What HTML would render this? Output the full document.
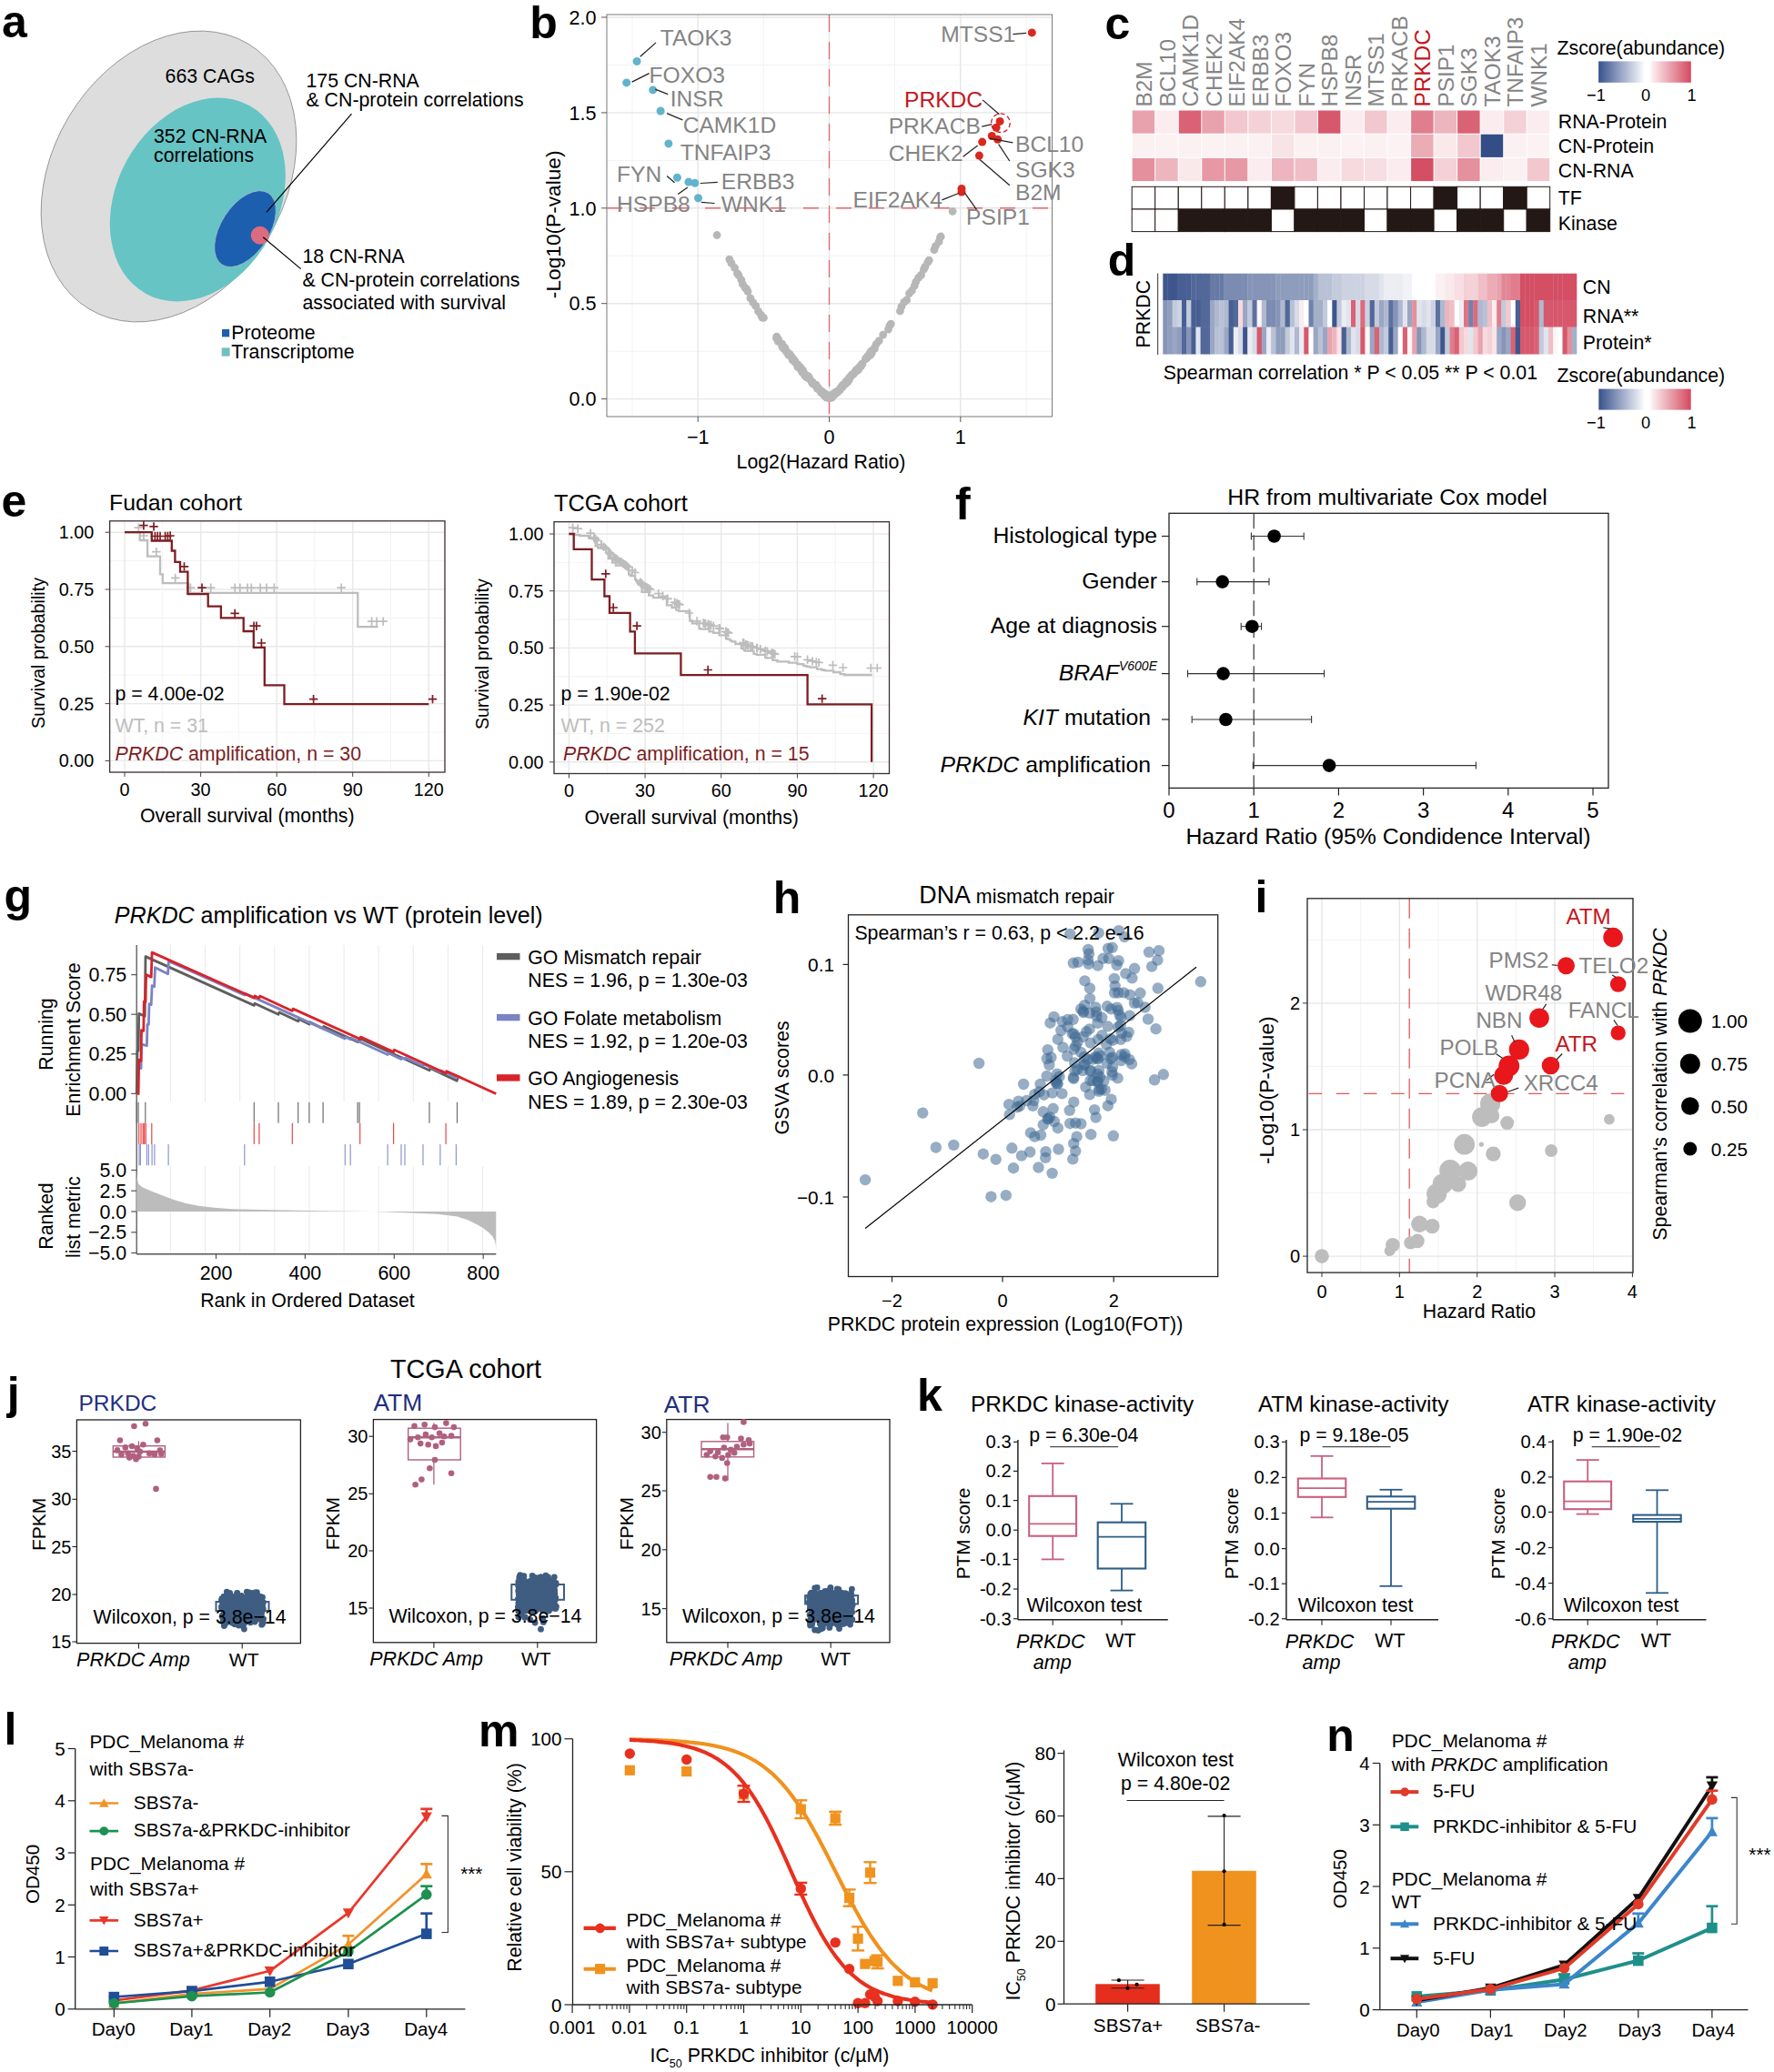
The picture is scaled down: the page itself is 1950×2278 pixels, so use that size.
<!DOCTYPE html>
<html lang="en"><head><meta charset="utf-8"><title>Figure</title>
<style>html,body{margin:0;padding:0;background:#fff}svg{display:block}text{font-family:"Liberation Sans",sans-serif}</style>
</head><body>
<svg width="1950" height="2278" viewBox="0 0 1950 2278">
<rect width="1950" height="2278" fill="#fff"/>
<text x="2" y="40.5" font-size="50" font-weight="bold">a</text>
<ellipse cx="185.5" cy="194" rx="128" ry="170" transform="rotate(31 185.5 194)" fill="#dddddd" stroke="#8a8a8a" stroke-width="0.8"/>
<ellipse cx="217.3" cy="219.5" rx="89" ry="118" transform="rotate(28.8 217.3 219.5)" fill="#66c4c4"/>
<ellipse cx="269.5" cy="251.6" rx="26.5" ry="46.9" transform="rotate(32.9 269.5 251.6)" fill="#1c5fae" stroke="#9fb6cf" stroke-width="0.8"/>
<circle cx="285.8" cy="258.7" r="10" fill="#dc6b7f"/>
<line x1="386.5" y1="125.1" x2="292.9" y2="233.3" stroke="#000" stroke-width="1.2"/>
<line x1="289.2" y1="260.7" x2="330.7" y2="295.6" stroke="#000" stroke-width="1.2"/>
<text x="181.6" y="90.6" font-size="21.3">663 CAGs</text>
<text x="169" y="157.3" font-size="21.3">352 CN-RNA</text>
<text x="169" y="177.5" font-size="21.3">correlations</text>
<text x="336.5" y="96.4" font-size="21.3">175 CN-RNA</text>
<text x="336.5" y="116.7" font-size="21.3">&amp; CN-protein correlations</text>
<text x="332.4" y="289" font-size="21.3">18 CN-RNA</text>
<text x="332.4" y="314.5" font-size="21.3">&amp; CN-protein correlations</text>
<text x="332.4" y="339.9" font-size="21.3">associated with survival</text>
<rect x="244" y="362" width="8.2" height="8.4" fill="#1c5fae"/>
<text x="254.3" y="373" font-size="21.3">Proteome</text>
<rect x="244" y="382.8" width="8.2" height="8.4" fill="#66c4c4" stroke="#9aa" stroke-width="0.6"/>
<text x="254.3" y="394" font-size="21.3">Transcriptome</text>
<text x="582.3" y="42" font-size="50" font-weight="bold">b</text>
<rect x="667" y="16" width="489.5" height="442" fill="#fff"/>
<line x1="695" y1="16" x2="695" y2="458" stroke="#f2f2f2" stroke-width="1"/>
<line x1="839.4" y1="16" x2="839.4" y2="458" stroke="#f2f2f2" stroke-width="1"/>
<line x1="983.6" y1="16" x2="983.6" y2="458" stroke="#f2f2f2" stroke-width="1"/>
<line x1="1128" y1="16" x2="1128" y2="458" stroke="#f2f2f2" stroke-width="1"/>
<line x1="667" y1="386.2" x2="1156.5" y2="386.2" stroke="#f2f2f2" stroke-width="1"/>
<line x1="667" y1="281.2" x2="1156.5" y2="281.2" stroke="#f2f2f2" stroke-width="1"/>
<line x1="667" y1="176.4" x2="1156.5" y2="176.4" stroke="#f2f2f2" stroke-width="1"/>
<line x1="667" y1="71.4" x2="1156.5" y2="71.4" stroke="#f2f2f2" stroke-width="1"/>
<line x1="767.2" y1="16" x2="767.2" y2="458" stroke="#e6e6e6" stroke-width="1.4"/>
<line x1="911.5" y1="16" x2="911.5" y2="458" stroke="#e6e6e6" stroke-width="1.4"/>
<line x1="1055.8" y1="16" x2="1055.8" y2="458" stroke="#e6e6e6" stroke-width="1.4"/>
<line x1="667" y1="438.6" x2="1156.5" y2="438.6" stroke="#e6e6e6" stroke-width="1.4"/>
<line x1="667" y1="333.7" x2="1156.5" y2="333.7" stroke="#e6e6e6" stroke-width="1.4"/>
<line x1="667" y1="228.8" x2="1156.5" y2="228.8" stroke="#e6e6e6" stroke-width="1.4"/>
<line x1="667" y1="123.9" x2="1156.5" y2="123.9" stroke="#e6e6e6" stroke-width="1.4"/>
<line x1="667" y1="19" x2="1156.5" y2="19" stroke="#e6e6e6" stroke-width="1.4"/>
<line x1="911.5" y1="16" x2="911.5" y2="458" stroke="#e4676b" stroke-width="1.3" stroke-dasharray="19 11"/>
<line x1="667" y1="228.8" x2="1152.5" y2="228.8" stroke="#e4676b" stroke-width="1.4" stroke-dasharray="17 19"/>
<rect x="667" y="16" width="489.5" height="442" fill="none" stroke="#7a7a7a" stroke-width="1"/>
<line x1="661" y1="438.6" x2="667" y2="438.6" stroke="#555" stroke-width="1"/>
<text x="655.5" y="446.3" font-size="21.6" text-anchor="end">0.0</text>
<line x1="661" y1="333.7" x2="667" y2="333.7" stroke="#555" stroke-width="1"/>
<text x="655.5" y="341.4" font-size="21.6" text-anchor="end">0.5</text>
<line x1="661" y1="228.8" x2="667" y2="228.8" stroke="#555" stroke-width="1"/>
<text x="655.5" y="236.5" font-size="21.6" text-anchor="end">1.0</text>
<line x1="661" y1="123.9" x2="667" y2="123.9" stroke="#555" stroke-width="1"/>
<text x="655.5" y="131.6" font-size="21.6" text-anchor="end">1.5</text>
<line x1="661" y1="19" x2="667" y2="19" stroke="#555" stroke-width="1"/>
<text x="655.5" y="26.7" font-size="21.6" text-anchor="end">2.0</text>
<line x1="767.2" y1="458" x2="767.2" y2="464" stroke="#555" stroke-width="1"/>
<text x="767.2" y="488" font-size="21.6" text-anchor="middle">−1</text>
<line x1="911.5" y1="458" x2="911.5" y2="464" stroke="#555" stroke-width="1"/>
<text x="911.5" y="488" font-size="21.6" text-anchor="middle">0</text>
<line x1="1055.8" y1="458" x2="1055.8" y2="464" stroke="#555" stroke-width="1"/>
<text x="1055.8" y="488" font-size="21.6" text-anchor="middle">1</text>
<text x="902.5" y="515" font-size="21.3" text-anchor="middle">Log2(Hazard Ratio)</text>
<text font-size="22.7" text-anchor="middle" transform="translate(616,246.8) rotate(-90)">-Log10(P-value)</text>
<g fill="#b7b7b7">
<circle cx="892.3" cy="420.1" r="4.4"/>
<circle cx="902.6" cy="431.5" r="4.4"/>
<circle cx="873" cy="396" r="4.4"/>
<circle cx="907.2" cy="433" r="4.4"/>
<circle cx="879.8" cy="405.6" r="4.4"/>
<circle cx="889.9" cy="417" r="4.4"/>
<circle cx="908.1" cy="436.8" r="4.4"/>
<circle cx="881.5" cy="408.8" r="4.4"/>
<circle cx="909.3" cy="437.1" r="4.4"/>
<circle cx="885.8" cy="413.3" r="4.4"/>
<circle cx="907.4" cy="433.7" r="4.4"/>
<circle cx="906.1" cy="434.8" r="4.4"/>
<circle cx="886.4" cy="414.7" r="4.4"/>
<circle cx="862.6" cy="382.1" r="4.4"/>
<circle cx="904.2" cy="431.7" r="4.4"/>
<circle cx="898.3" cy="427.1" r="4.4"/>
<circle cx="874.4" cy="398.7" r="4.4"/>
<circle cx="855.4" cy="375.4" r="4.4"/>
<circle cx="877.4" cy="402.4" r="4.4"/>
<circle cx="888" cy="413.3" r="4.4"/>
<circle cx="853.7" cy="370.2" r="4.4"/>
<circle cx="908.7" cy="435.4" r="4.4"/>
<circle cx="860.7" cy="381.9" r="4.4"/>
<circle cx="894.4" cy="422.3" r="4.4"/>
<circle cx="903" cy="431.7" r="4.4"/>
<circle cx="904.5" cy="431.2" r="4.4"/>
<circle cx="893.2" cy="420.5" r="4.4"/>
<circle cx="863.2" cy="383.6" r="4.4"/>
<circle cx="900.8" cy="429" r="4.4"/>
<circle cx="877.1" cy="403.1" r="4.4"/>
<circle cx="873.7" cy="397" r="4.4"/>
<circle cx="889.5" cy="414.9" r="4.4"/>
<circle cx="879.1" cy="403.4" r="4.4"/>
<circle cx="907.8" cy="434.2" r="4.4"/>
<circle cx="908" cy="434.3" r="4.4"/>
<circle cx="899.3" cy="426.1" r="4.4"/>
<circle cx="871.2" cy="395.9" r="4.4"/>
<circle cx="886.2" cy="412.8" r="4.4"/>
<circle cx="892.9" cy="420.8" r="4.4"/>
<circle cx="876.9" cy="403.5" r="4.4"/>
<circle cx="884.7" cy="412.8" r="4.4"/>
<circle cx="893.8" cy="421.9" r="4.4"/>
<circle cx="864.5" cy="387" r="4.4"/>
<circle cx="870.1" cy="392.9" r="4.4"/>
<circle cx="897.1" cy="423.1" r="4.4"/>
<circle cx="877.5" cy="402.9" r="4.4"/>
<circle cx="880.4" cy="404.7" r="4.4"/>
<circle cx="859.7" cy="378.1" r="4.4"/>
<circle cx="868.3" cy="389.7" r="4.4"/>
<circle cx="894.5" cy="422.4" r="4.4"/>
<circle cx="853.5" cy="372" r="4.4"/>
<circle cx="904.5" cy="433" r="4.4"/>
<circle cx="886.8" cy="414.5" r="4.4"/>
<circle cx="866.7" cy="390.1" r="4.4"/>
<circle cx="902.5" cy="429.7" r="4.4"/>
<circle cx="882.6" cy="407.4" r="4.4"/>
<circle cx="909.2" cy="435.3" r="4.4"/>
<circle cx="872" cy="395.9" r="4.4"/>
<circle cx="866.3" cy="388" r="4.4"/>
<circle cx="877.6" cy="401.8" r="4.4"/>
<circle cx="859.7" cy="381.1" r="4.4"/>
<circle cx="892.9" cy="419.8" r="4.4"/>
<circle cx="870.4" cy="392.5" r="4.4"/>
<circle cx="876.3" cy="400.3" r="4.4"/>
<circle cx="877.2" cy="401.5" r="4.4"/>
<circle cx="884.5" cy="411" r="4.4"/>
<circle cx="861.8" cy="383.7" r="4.4"/>
<circle cx="855.6" cy="373.1" r="4.4"/>
<circle cx="883.5" cy="410.3" r="4.4"/>
<circle cx="872.2" cy="395.2" r="4.4"/>
<circle cx="914.7" cy="434.1" r="4.4"/>
<circle cx="947.9" cy="400.1" r="4.4"/>
<circle cx="945.1" cy="403.5" r="4.4"/>
<circle cx="963.1" cy="378.5" r="4.4"/>
<circle cx="954.2" cy="391.1" r="4.4"/>
<circle cx="926.3" cy="425.4" r="4.4"/>
<circle cx="931.5" cy="420" r="4.4"/>
<circle cx="946.2" cy="403" r="4.4"/>
<circle cx="912.7" cy="436.2" r="4.4"/>
<circle cx="935.5" cy="413.3" r="4.4"/>
<circle cx="920.2" cy="431.6" r="4.4"/>
<circle cx="917.6" cy="431.9" r="4.4"/>
<circle cx="914.6" cy="434.2" r="4.4"/>
<circle cx="951.4" cy="394.9" r="4.4"/>
<circle cx="918.2" cy="432.8" r="4.4"/>
<circle cx="924.4" cy="426.1" r="4.4"/>
<circle cx="931.8" cy="419.7" r="4.4"/>
<circle cx="956.8" cy="390.1" r="4.4"/>
<circle cx="915.7" cy="433.2" r="4.4"/>
<circle cx="934.8" cy="414.6" r="4.4"/>
<circle cx="940" cy="409.1" r="4.4"/>
<circle cx="957.4" cy="386.2" r="4.4"/>
<circle cx="954.1" cy="392.2" r="4.4"/>
<circle cx="956.4" cy="387.8" r="4.4"/>
<circle cx="926" cy="423.5" r="4.4"/>
<circle cx="933.1" cy="418" r="4.4"/>
<circle cx="930.1" cy="421.1" r="4.4"/>
<circle cx="957.4" cy="388.3" r="4.4"/>
<circle cx="961.3" cy="383.4" r="4.4"/>
<circle cx="919.3" cy="431" r="4.4"/>
<circle cx="920.7" cy="430.8" r="4.4"/>
<circle cx="923.5" cy="427.4" r="4.4"/>
<circle cx="923.6" cy="428.2" r="4.4"/>
<circle cx="936.7" cy="411.6" r="4.4"/>
<circle cx="942.1" cy="407.3" r="4.4"/>
<circle cx="925.1" cy="425.6" r="4.4"/>
<circle cx="911.7" cy="437.6" r="4.4"/>
<circle cx="933.3" cy="415.5" r="4.4"/>
<circle cx="930.7" cy="419.9" r="4.4"/>
<circle cx="940.9" cy="406.8" r="4.4"/>
<circle cx="961" cy="382.8" r="4.4"/>
<circle cx="947.4" cy="400.3" r="4.4"/>
<circle cx="938.3" cy="411.1" r="4.4"/>
<circle cx="943.6" cy="406.6" r="4.4"/>
<circle cx="946.6" cy="401.5" r="4.4"/>
<circle cx="914.3" cy="437.1" r="4.4"/>
<circle cx="958.2" cy="388.2" r="4.4"/>
<circle cx="952" cy="393.6" r="4.4"/>
<circle cx="956.9" cy="389.4" r="4.4"/>
<circle cx="952.9" cy="393.5" r="4.4"/>
<circle cx="931.9" cy="417.6" r="4.4"/>
<circle cx="932.2" cy="417.8" r="4.4"/>
<circle cx="916.9" cy="434.2" r="4.4"/>
<circle cx="944.5" cy="403.9" r="4.4"/>
<circle cx="914.7" cy="435.5" r="4.4"/>
<circle cx="915" cy="434.4" r="4.4"/>
<circle cx="922.3" cy="429.6" r="4.4"/>
<circle cx="919.9" cy="430.5" r="4.4"/>
<circle cx="929.2" cy="422.1" r="4.4"/>
<circle cx="914.2" cy="436.9" r="4.4"/>
<circle cx="911.5" cy="437.6" r="4.4"/>
<circle cx="919.4" cy="431.2" r="4.4"/>
<circle cx="916.8" cy="433.5" r="4.4"/>
<circle cx="930.4" cy="419.1" r="4.4"/>
<circle cx="912.8" cy="436" r="4.4"/>
<circle cx="956.9" cy="388.5" r="4.4"/>
<circle cx="943.4" cy="404.9" r="4.4"/>
<circle cx="919.2" cy="431.4" r="4.4"/>
<circle cx="924.6" cy="426" r="4.4"/>
<circle cx="929.5" cy="420.2" r="4.4"/>
<circle cx="788.1" cy="258.5" r="4.4"/>
<circle cx="801.8" cy="285.1" r="4.4"/>
<circle cx="804" cy="289.4" r="4.4"/>
<circle cx="807.6" cy="294.5" r="4.4"/>
<circle cx="810.5" cy="300.6" r="4.4"/>
<circle cx="811.9" cy="302.6" r="4.4"/>
<circle cx="814.8" cy="307.6" r="4.4"/>
<circle cx="816.3" cy="312.4" r="4.4"/>
<circle cx="819.1" cy="316.5" r="4.4"/>
<circle cx="820.6" cy="317.7" r="4.4"/>
<circle cx="822" cy="320.5" r="4.4"/>
<circle cx="824.9" cy="327.8" r="4.4"/>
<circle cx="827.8" cy="332.7" r="4.4"/>
<circle cx="830.7" cy="336.3" r="4.4"/>
<circle cx="833.6" cy="342.3" r="4.4"/>
<circle cx="836.5" cy="346.3" r="4.4"/>
<circle cx="837.9" cy="349.1" r="4.4"/>
<circle cx="839.4" cy="349.4" r="4.4"/>
<circle cx="966.3" cy="374.6" r="4.4"/>
<circle cx="970.7" cy="368.1" r="4.4"/>
<circle cx="976.4" cy="362.1" r="4.4"/>
<circle cx="977.9" cy="358.1" r="4.4"/>
<circle cx="979.3" cy="356.1" r="4.4"/>
<circle cx="989.4" cy="342" r="4.4"/>
<circle cx="990.9" cy="337.2" r="4.4"/>
<circle cx="993.8" cy="332.2" r="4.4"/>
<circle cx="996.6" cy="329.9" r="4.4"/>
<circle cx="999.5" cy="322.6" r="4.4"/>
<circle cx="1002.4" cy="319.5" r="4.4"/>
<circle cx="1005.3" cy="314.2" r="4.4"/>
<circle cx="1006.7" cy="310" r="4.4"/>
<circle cx="1009.6" cy="305.4" r="4.4"/>
<circle cx="1012.5" cy="302.4" r="4.4"/>
<circle cx="1015.4" cy="296.2" r="4.4"/>
<circle cx="1016.8" cy="293.3" r="4.4"/>
<circle cx="1019.7" cy="288.5" r="4.4"/>
<circle cx="1021.2" cy="286.2" r="4.4"/>
<circle cx="1026.9" cy="274.7" r="4.4"/>
<circle cx="1028.4" cy="270.6" r="4.4"/>
<circle cx="1032" cy="265.8" r="4.4"/>
<circle cx="1033.4" cy="261.1" r="4.4"/>
<circle cx="1034.2" cy="260" r="4.4"/>
<circle cx="1047.1" cy="232.3" r="4.4"/>
</g>
<g fill="#62b3cb">
<circle cx="700.1" cy="67.4" r="4.5"/>
<circle cx="688.7" cy="90.9" r="4.5"/>
<circle cx="717.7" cy="98.9" r="4.5"/>
<circle cx="726.1" cy="122" r="4.5"/>
<circle cx="734.9" cy="157.9" r="4.5"/>
<circle cx="744.4" cy="195.3" r="4.5"/>
<circle cx="756.9" cy="200.1" r="4.5"/>
<circle cx="763.8" cy="201.2" r="4.5"/>
<circle cx="767.5" cy="217.7" r="4.5"/>
</g>
<g fill="#d9281f">
<circle cx="1134.3" cy="35.9" r="4.5"/>
<circle cx="1099.1" cy="133.4" r="4.5"/>
<circle cx="1095.1" cy="140.3" r="4.5"/>
<circle cx="1090.3" cy="149.5" r="4.5"/>
<circle cx="1096.6" cy="153.2" r="4.5"/>
<circle cx="1079.7" cy="156.1" r="4.5"/>
<circle cx="1076.4" cy="171.1" r="4.5"/>
<circle cx="1057" cy="207.4" r="4.5"/>
<circle cx="1057" cy="211.1" r="4.5"/>
</g>
<circle cx="1099.9" cy="135.2" r="10.3" fill="none" stroke="#c8202a" stroke-width="1.3" stroke-dasharray="5 3"/>
<line x1="703.7" y1="62.3" x2="721" y2="46.9" stroke="#222" stroke-width="1.25"/>
<line x1="694.6" y1="90.1" x2="713.6" y2="80.6" stroke="#222" stroke-width="1.25"/>
<line x1="720.2" y1="98.2" x2="734.2" y2="103.7" stroke="#222" stroke-width="1.25"/>
<line x1="733.1" y1="124.6" x2="750.3" y2="131.9" stroke="#222" stroke-width="1.25"/>
<line x1="733.1" y1="193.5" x2="741.5" y2="200.8" stroke="#222" stroke-width="1.25"/>
<line x1="769.7" y1="201.5" x2="788.8" y2="200.4" stroke="#222" stroke-width="1.25"/>
<line x1="745.2" y1="213.6" x2="755.8" y2="205.9" stroke="#222" stroke-width="1.25"/>
<line x1="770.8" y1="222.4" x2="785.5" y2="223.5" stroke="#222" stroke-width="1.25"/>
<line x1="1113.4" y1="37.7" x2="1128.1" y2="36.3" stroke="#222" stroke-width="1.25"/>
<line x1="1080.1" y1="109.9" x2="1098.4" y2="125.7" stroke="#222" stroke-width="1.25"/>
<line x1="1079.3" y1="139.2" x2="1090.3" y2="136.7" stroke="#222" stroke-width="1.25"/>
<line x1="1087.8" y1="152.1" x2="1113.4" y2="156.8" stroke="#222" stroke-width="1.25"/>
<line x1="1058.5" y1="172.2" x2="1074.6" y2="160.1" stroke="#222" stroke-width="1.25"/>
<line x1="1097.7" y1="158.7" x2="1109.8" y2="177" stroke="#222" stroke-width="1.25"/>
<line x1="1076.8" y1="175.2" x2="1109.8" y2="203.7" stroke="#222" stroke-width="1.25"/>
<line x1="1035.4" y1="219.9" x2="1053.7" y2="212.5" stroke="#222" stroke-width="1.25"/>
<line x1="1060.3" y1="211.8" x2="1073.8" y2="230.9" stroke="#222" stroke-width="1.25"/>
<text x="725.7" y="49.5" font-size="24.6" fill="#848484">TAOK3</text>
<text x="713.6" y="90.5" font-size="24.6" fill="#848484">FOXO3</text>
<text x="736.7" y="117.3" font-size="24.6" fill="#848484">INSR</text>
<text x="750.7" y="145.8" font-size="24.6" fill="#848484">CAMK1D</text>
<text x="747.7" y="175.9" font-size="24.6" fill="#848484">TNFAIP3</text>
<text x="678.1" y="199.7" font-size="24.6" fill="#848484">FYN</text>
<text x="792.8" y="207.8" font-size="24.6" fill="#848484">ERBB3</text>
<text x="678.1" y="232.7" font-size="24.6" fill="#848484">HSPB8</text>
<text x="792.8" y="233.4" font-size="24.6" fill="#848484">WNK1</text>
<text x="1034.3" y="45.8" font-size="24.6" fill="#848484">MTSS1</text>
<text x="976.7" y="146.6" font-size="24.6" fill="#848484">PRKACB</text>
<text x="1116" y="166.7" font-size="24.6" fill="#848484">BCL10</text>
<text x="976.7" y="176.6" font-size="24.6" fill="#848484">CHEK2</text>
<text x="1116" y="194.9" font-size="24.6" fill="#848484">SGK3</text>
<text x="1116" y="219.9" font-size="24.6" fill="#848484">B2M</text>
<text x="937.5" y="227.9" font-size="24.6" fill="#848484">EIF2AK4</text>
<text x="1062.1" y="247.3" font-size="24.6" fill="#848484">PSIP1</text>
<text x="994" y="118.4" font-size="24.6" fill="#c4161c">PRKDC</text>
<text x="1214.4" y="42.7" font-size="50" font-weight="bold">c</text>
<rect x="1244.7" y="121.5" width="24.5" height="25.2" fill="#e8a2ae"/>
<rect x="1270.2" y="121.5" width="24.5" height="25.2" fill="#faecef"/>
<rect x="1295.8" y="121.5" width="24.5" height="25.2" fill="#d96274"/>
<rect x="1321.3" y="121.5" width="24.5" height="25.2" fill="#e8a2ae"/>
<rect x="1346.8" y="121.5" width="24.5" height="25.2" fill="#f2c8ce"/>
<rect x="1372.4" y="121.5" width="24.5" height="25.2" fill="#f4d1d6"/>
<rect x="1397.9" y="121.5" width="24.5" height="25.2" fill="#f6dade"/>
<rect x="1423.4" y="121.5" width="24.5" height="25.2" fill="#f2c8ce"/>
<rect x="1448.9" y="121.5" width="24.5" height="25.2" fill="#d6586c"/>
<rect x="1474.5" y="121.5" width="24.5" height="25.2" fill="#faecef"/>
<rect x="1500" y="121.5" width="24.5" height="25.2" fill="#f2c8ce"/>
<rect x="1525.5" y="121.5" width="24.5" height="25.2" fill="#faecef"/>
<rect x="1551.1" y="121.5" width="24.5" height="25.2" fill="#e07e8d"/>
<rect x="1576.6" y="121.5" width="24.5" height="25.2" fill="#edb5be"/>
<rect x="1602.1" y="121.5" width="24.5" height="25.2" fill="#d96274"/>
<rect x="1627.7" y="121.5" width="24.5" height="25.2" fill="#faecef"/>
<rect x="1653.2" y="121.5" width="24.5" height="25.2" fill="#f4d1d6"/>
<rect x="1678.7" y="121.5" width="24.5" height="25.2" fill="#faecef"/>
<rect x="1244.7" y="147.7" width="24.5" height="25.2" fill="#fbf0f2"/>
<rect x="1270.2" y="147.7" width="24.5" height="25.2" fill="#fcf2f4"/>
<rect x="1295.8" y="147.7" width="24.5" height="25.2" fill="#fbf0f2"/>
<rect x="1321.3" y="147.7" width="24.5" height="25.2" fill="#fcf2f4"/>
<rect x="1346.8" y="147.7" width="24.5" height="25.2" fill="#fbf0f2"/>
<rect x="1372.4" y="147.7" width="24.5" height="25.2" fill="#fbf0f2"/>
<rect x="1397.9" y="147.7" width="24.5" height="25.2" fill="#f8e3e7"/>
<rect x="1423.4" y="147.7" width="24.5" height="25.2" fill="#fbf0f2"/>
<rect x="1448.9" y="147.7" width="24.5" height="25.2" fill="#fbf0f2"/>
<rect x="1474.5" y="147.7" width="24.5" height="25.2" fill="#fcf2f4"/>
<rect x="1500" y="147.7" width="24.5" height="25.2" fill="#fbf0f2"/>
<rect x="1525.5" y="147.7" width="24.5" height="25.2" fill="#fcf2f4"/>
<rect x="1551.1" y="147.7" width="24.5" height="25.2" fill="#ebacb6"/>
<rect x="1576.6" y="147.7" width="24.5" height="25.2" fill="#fae9eb"/>
<rect x="1602.1" y="147.7" width="24.5" height="25.2" fill="#f2c8ce"/>
<rect x="1627.7" y="147.7" width="24.5" height="25.2" fill="#344d87"/>
<rect x="1653.2" y="147.7" width="24.5" height="25.2" fill="#fbf0f2"/>
<rect x="1678.7" y="147.7" width="24.5" height="25.2" fill="#fcf2f4"/>
<rect x="1244.7" y="173.9" width="24.5" height="25.2" fill="#e4909d"/>
<rect x="1270.2" y="173.9" width="24.5" height="25.2" fill="#edb5be"/>
<rect x="1295.8" y="173.9" width="24.5" height="25.2" fill="#fae9eb"/>
<rect x="1321.3" y="173.9" width="24.5" height="25.2" fill="#e699a5"/>
<rect x="1346.8" y="173.9" width="24.5" height="25.2" fill="#e699a5"/>
<rect x="1372.4" y="173.9" width="24.5" height="25.2" fill="#faecef"/>
<rect x="1397.9" y="173.9" width="24.5" height="25.2" fill="#edb5be"/>
<rect x="1423.4" y="173.9" width="24.5" height="25.2" fill="#efbec6"/>
<rect x="1448.9" y="173.9" width="24.5" height="25.2" fill="#faecef"/>
<rect x="1474.5" y="173.9" width="24.5" height="25.2" fill="#f6dade"/>
<rect x="1500" y="173.9" width="24.5" height="25.2" fill="#f7dee2"/>
<rect x="1525.5" y="173.9" width="24.5" height="25.2" fill="#faecef"/>
<rect x="1551.1" y="173.9" width="24.5" height="25.2" fill="#d44f64"/>
<rect x="1576.6" y="173.9" width="24.5" height="25.2" fill="#f4d1d6"/>
<rect x="1602.1" y="173.9" width="24.5" height="25.2" fill="#e4909d"/>
<rect x="1627.7" y="173.9" width="24.5" height="25.2" fill="#faecef"/>
<rect x="1653.2" y="173.9" width="24.5" height="25.2" fill="#fbf0f2"/>
<rect x="1678.7" y="173.9" width="24.5" height="25.2" fill="#f2c8ce"/>
<rect x="1244.2" y="205.3" width="25.5" height="24.7" fill="#fff" stroke="#231815" stroke-width="1"/>
<rect x="1244.2" y="230" width="25.5" height="24.6" fill="#fff" stroke="#231815" stroke-width="1"/>
<rect x="1269.7" y="205.3" width="25.5" height="24.7" fill="#fff" stroke="#231815" stroke-width="1"/>
<rect x="1269.7" y="230" width="25.5" height="24.6" fill="#fff" stroke="#231815" stroke-width="1"/>
<rect x="1295.3" y="205.3" width="25.5" height="24.7" fill="#fff" stroke="#231815" stroke-width="1"/>
<rect x="1295.3" y="230" width="25.5" height="24.6" fill="#231815" stroke="#231815" stroke-width="1"/>
<rect x="1320.8" y="205.3" width="25.5" height="24.7" fill="#fff" stroke="#231815" stroke-width="1"/>
<rect x="1320.8" y="230" width="25.5" height="24.6" fill="#231815" stroke="#231815" stroke-width="1"/>
<rect x="1346.3" y="205.3" width="25.5" height="24.7" fill="#fff" stroke="#231815" stroke-width="1"/>
<rect x="1346.3" y="230" width="25.5" height="24.6" fill="#231815" stroke="#231815" stroke-width="1"/>
<rect x="1371.9" y="205.3" width="25.5" height="24.7" fill="#fff" stroke="#231815" stroke-width="1"/>
<rect x="1371.9" y="230" width="25.5" height="24.6" fill="#231815" stroke="#231815" stroke-width="1"/>
<rect x="1397.4" y="205.3" width="25.5" height="24.7" fill="#231815" stroke="#231815" stroke-width="1"/>
<rect x="1397.4" y="230" width="25.5" height="24.6" fill="#fff" stroke="#231815" stroke-width="1"/>
<rect x="1422.9" y="205.3" width="25.5" height="24.7" fill="#fff" stroke="#231815" stroke-width="1"/>
<rect x="1422.9" y="230" width="25.5" height="24.6" fill="#231815" stroke="#231815" stroke-width="1"/>
<rect x="1448.4" y="205.3" width="25.5" height="24.7" fill="#fff" stroke="#231815" stroke-width="1"/>
<rect x="1448.4" y="230" width="25.5" height="24.6" fill="#231815" stroke="#231815" stroke-width="1"/>
<rect x="1474" y="205.3" width="25.5" height="24.7" fill="#fff" stroke="#231815" stroke-width="1"/>
<rect x="1474" y="230" width="25.5" height="24.6" fill="#231815" stroke="#231815" stroke-width="1"/>
<rect x="1499.5" y="205.3" width="25.5" height="24.7" fill="#fff" stroke="#231815" stroke-width="1"/>
<rect x="1499.5" y="230" width="25.5" height="24.6" fill="#fff" stroke="#231815" stroke-width="1"/>
<rect x="1525" y="205.3" width="25.5" height="24.7" fill="#fff" stroke="#231815" stroke-width="1"/>
<rect x="1525" y="230" width="25.5" height="24.6" fill="#231815" stroke="#231815" stroke-width="1"/>
<rect x="1550.6" y="205.3" width="25.5" height="24.7" fill="#fff" stroke="#231815" stroke-width="1"/>
<rect x="1550.6" y="230" width="25.5" height="24.6" fill="#231815" stroke="#231815" stroke-width="1"/>
<rect x="1576.1" y="205.3" width="25.5" height="24.7" fill="#231815" stroke="#231815" stroke-width="1"/>
<rect x="1576.1" y="230" width="25.5" height="24.6" fill="#fff" stroke="#231815" stroke-width="1"/>
<rect x="1601.6" y="205.3" width="25.5" height="24.7" fill="#fff" stroke="#231815" stroke-width="1"/>
<rect x="1601.6" y="230" width="25.5" height="24.6" fill="#231815" stroke="#231815" stroke-width="1"/>
<rect x="1627.2" y="205.3" width="25.5" height="24.7" fill="#fff" stroke="#231815" stroke-width="1"/>
<rect x="1627.2" y="230" width="25.5" height="24.6" fill="#231815" stroke="#231815" stroke-width="1"/>
<rect x="1652.7" y="205.3" width="25.5" height="24.7" fill="#231815" stroke="#231815" stroke-width="1"/>
<rect x="1652.7" y="230" width="25.5" height="24.6" fill="#fff" stroke="#231815" stroke-width="1"/>
<rect x="1678.2" y="205.3" width="25.5" height="24.7" fill="#fff" stroke="#231815" stroke-width="1"/>
<rect x="1678.2" y="230" width="25.5" height="24.6" fill="#231815" stroke="#231815" stroke-width="1"/>
<text font-size="24.4" fill="#858585" transform="translate(1266,117.6) rotate(-90)">B2M</text>
<text font-size="24.4" fill="#858585" transform="translate(1291.5,117.6) rotate(-90)">BCL10</text>
<text font-size="24.4" fill="#858585" transform="translate(1317,117.6) rotate(-90)">CAMK1D</text>
<text font-size="24.4" fill="#858585" transform="translate(1342.6,117.6) rotate(-90)">CHEK2</text>
<text font-size="24.4" fill="#858585" transform="translate(1368.1,117.6) rotate(-90)">EIF2AK4</text>
<text font-size="24.4" fill="#858585" transform="translate(1393.6,117.6) rotate(-90)">ERBB3</text>
<text font-size="24.4" fill="#858585" transform="translate(1419.1,117.6) rotate(-90)">FOXO3</text>
<text font-size="24.4" fill="#858585" transform="translate(1444.7,117.6) rotate(-90)">FYN</text>
<text font-size="24.4" fill="#858585" transform="translate(1470.2,117.6) rotate(-90)">HSPB8</text>
<text font-size="24.4" fill="#858585" transform="translate(1495.7,117.6) rotate(-90)">INSR</text>
<text font-size="24.4" fill="#858585" transform="translate(1521.3,117.6) rotate(-90)">MTSS1</text>
<text font-size="24.4" fill="#858585" transform="translate(1546.8,117.6) rotate(-90)">PRKACB</text>
<text font-size="24.4" fill="#c4161c" transform="translate(1572.3,117.6) rotate(-90)">PRKDC</text>
<text font-size="24.4" fill="#858585" transform="translate(1597.9,117.6) rotate(-90)">PSIP1</text>
<text font-size="24.4" fill="#858585" transform="translate(1623.4,117.6) rotate(-90)">SGK3</text>
<text font-size="24.4" fill="#858585" transform="translate(1648.9,117.6) rotate(-90)">TAOK3</text>
<text font-size="24.4" fill="#858585" transform="translate(1674.4,117.6) rotate(-90)">TNFAIP3</text>
<text font-size="24.4" fill="#858585" transform="translate(1700,117.6) rotate(-90)">WNK1</text>
<text x="1712.8" y="141.3" font-size="21.3">RNA-Protein</text>
<text x="1712.8" y="167.6" font-size="21.3">CN-Protein</text>
<text x="1712.8" y="195.1" font-size="21.3">CN-RNA</text>
<text x="1712.8" y="225.1" font-size="21.3">TF</text>
<text x="1712.8" y="252.7" font-size="21.3">Kinase</text>
<text x="1711.5" y="60.4" font-size="21.3">Zscore(abundance)</text>
<defs><linearGradient id="cbc" x1="0" x2="1" y1="0" y2="0"><stop offset="0" stop-color="#38528d"/><stop offset="0.46" stop-color="#eef0f6"/><stop offset="0.5" stop-color="#ffffff"/><stop offset="0.55" stop-color="#ffffff"/><stop offset="0.59" stop-color="#fbe9ec"/><stop offset="1" stop-color="#d4495f"/></linearGradient></defs>
<rect x="1757.1" y="67.4" width="101.7" height="23.4" fill="url(#cbc)"/>
<text x="1754.4" y="111.2" font-size="18.2" text-anchor="middle">−1</text>
<text x="1809" y="111.2" font-size="18.2" text-anchor="middle">0</text>
<text x="1859.6" y="111.2" font-size="18.2" text-anchor="middle">1</text>
<text x="1217.8" y="302.9" font-size="50" font-weight="bold">d</text>
<rect x="1278.3" y="300.7" width="5.5" height="29.6" fill="#3e568d"/>
<rect x="1283.5" y="300.7" width="5.5" height="29.6" fill="#3e568d"/>
<rect x="1288.6" y="300.7" width="5.5" height="29.6" fill="#3e568d"/>
<rect x="1293.8" y="300.7" width="5.5" height="29.6" fill="#485f93"/>
<rect x="1299" y="300.7" width="5.5" height="29.6" fill="#485f93"/>
<rect x="1304.1" y="300.7" width="5.5" height="29.6" fill="#485f93"/>
<rect x="1309.3" y="300.7" width="5.5" height="29.6" fill="#526899"/>
<rect x="1314.5" y="300.7" width="5.5" height="29.6" fill="#526899"/>
<rect x="1319.6" y="300.7" width="5.5" height="29.6" fill="#526899"/>
<rect x="1324.8" y="300.7" width="5.5" height="29.6" fill="#526899"/>
<rect x="1330" y="300.7" width="5.5" height="29.6" fill="#677aa5"/>
<rect x="1335.1" y="300.7" width="5.5" height="29.6" fill="#677aa5"/>
<rect x="1340.3" y="300.7" width="5.5" height="29.6" fill="#677aa5"/>
<rect x="1345.5" y="300.7" width="5.5" height="29.6" fill="#7b8bb1"/>
<rect x="1350.6" y="300.7" width="5.5" height="29.6" fill="#7b8bb1"/>
<rect x="1355.8" y="300.7" width="5.5" height="29.6" fill="#7b8bb1"/>
<rect x="1361" y="300.7" width="5.5" height="29.6" fill="#7b8bb1"/>
<rect x="1366.1" y="300.7" width="5.5" height="29.6" fill="#7b8bb1"/>
<rect x="1371.3" y="300.7" width="5.5" height="29.6" fill="#8594b7"/>
<rect x="1376.5" y="300.7" width="5.5" height="29.6" fill="#8594b7"/>
<rect x="1381.6" y="300.7" width="5.5" height="29.6" fill="#8594b7"/>
<rect x="1386.8" y="300.7" width="5.5" height="29.6" fill="#8594b7"/>
<rect x="1392" y="300.7" width="5.5" height="29.6" fill="#8594b7"/>
<rect x="1397.1" y="300.7" width="5.5" height="29.6" fill="#8594b7"/>
<rect x="1402.3" y="300.7" width="5.5" height="29.6" fill="#8f9dbd"/>
<rect x="1407.5" y="300.7" width="5.5" height="29.6" fill="#8f9dbd"/>
<rect x="1412.6" y="300.7" width="5.5" height="29.6" fill="#8f9dbd"/>
<rect x="1417.8" y="300.7" width="5.5" height="29.6" fill="#8f9dbd"/>
<rect x="1423" y="300.7" width="5.5" height="29.6" fill="#8f9dbd"/>
<rect x="1428.1" y="300.7" width="5.5" height="29.6" fill="#8f9dbd"/>
<rect x="1433.3" y="300.7" width="5.5" height="29.6" fill="#8f9dbd"/>
<rect x="1438.5" y="300.7" width="5.5" height="29.6" fill="#8f9dbd"/>
<rect x="1443.6" y="300.7" width="5.5" height="29.6" fill="#a4afc9"/>
<rect x="1448.8" y="300.7" width="5.5" height="29.6" fill="#b8c1d5"/>
<rect x="1454" y="300.7" width="5.5" height="29.6" fill="#b8c1d5"/>
<rect x="1459.1" y="300.7" width="5.5" height="29.6" fill="#b8c1d5"/>
<rect x="1464.3" y="300.7" width="5.5" height="29.6" fill="#c2cadb"/>
<rect x="1469.5" y="300.7" width="5.5" height="29.6" fill="#c2cadb"/>
<rect x="1474.6" y="300.7" width="5.5" height="29.6" fill="#ccd2e1"/>
<rect x="1479.8" y="300.7" width="5.5" height="29.6" fill="#ccd2e1"/>
<rect x="1485" y="300.7" width="5.5" height="29.6" fill="#ccd2e1"/>
<rect x="1490.1" y="300.7" width="5.5" height="29.6" fill="#ccd2e1"/>
<rect x="1495.3" y="300.7" width="5.5" height="29.6" fill="#ccd2e1"/>
<rect x="1500.5" y="300.7" width="5.5" height="29.6" fill="#d6dbe7"/>
<rect x="1505.7" y="300.7" width="5.5" height="29.6" fill="#d6dbe7"/>
<rect x="1510.8" y="300.7" width="5.5" height="29.6" fill="#d6dbe7"/>
<rect x="1516" y="300.7" width="5.5" height="29.6" fill="#e1e4ed"/>
<rect x="1521.2" y="300.7" width="5.5" height="29.6" fill="#ebedf3"/>
<rect x="1526.3" y="300.7" width="5.5" height="29.6" fill="#ebedf3"/>
<rect x="1531.5" y="300.7" width="5.5" height="29.6" fill="#ebedf3"/>
<rect x="1536.7" y="300.7" width="5.5" height="29.6" fill="#ebedf3"/>
<rect x="1541.8" y="300.7" width="5.5" height="29.6" fill="#f1f3f7"/>
<rect x="1547" y="300.7" width="5.5" height="29.6" fill="#f1f3f7"/>
<rect x="1552.2" y="300.7" width="5.5" height="29.6" fill="#ffffff"/>
<rect x="1557.3" y="300.7" width="5.5" height="29.6" fill="#ffffff"/>
<rect x="1562.5" y="300.7" width="5.5" height="29.6" fill="#ffffff"/>
<rect x="1567.7" y="300.7" width="5.5" height="29.6" fill="#ffffff"/>
<rect x="1572.8" y="300.7" width="5.5" height="29.6" fill="#ffffff"/>
<rect x="1578" y="300.7" width="5.5" height="29.6" fill="#fbf0f2"/>
<rect x="1583.2" y="300.7" width="5.5" height="29.6" fill="#fbf0f2"/>
<rect x="1588.3" y="300.7" width="5.5" height="29.6" fill="#fae9eb"/>
<rect x="1593.5" y="300.7" width="5.5" height="29.6" fill="#fae9eb"/>
<rect x="1598.7" y="300.7" width="5.5" height="29.6" fill="#f7dee2"/>
<rect x="1603.8" y="300.7" width="5.5" height="29.6" fill="#f7dee2"/>
<rect x="1609" y="300.7" width="5.5" height="29.6" fill="#f4d1d6"/>
<rect x="1614.2" y="300.7" width="5.5" height="29.6" fill="#f4d1d6"/>
<rect x="1619.3" y="300.7" width="5.5" height="29.6" fill="#f4d1d6"/>
<rect x="1624.5" y="300.7" width="5.5" height="29.6" fill="#efbec6"/>
<rect x="1629.7" y="300.7" width="5.5" height="29.6" fill="#efbec6"/>
<rect x="1634.8" y="300.7" width="5.5" height="29.6" fill="#ebacb6"/>
<rect x="1640" y="300.7" width="5.5" height="29.6" fill="#ebacb6"/>
<rect x="1645.2" y="300.7" width="5.5" height="29.6" fill="#e8a2ae"/>
<rect x="1650.3" y="300.7" width="5.5" height="29.6" fill="#e28795"/>
<rect x="1655.5" y="300.7" width="5.5" height="29.6" fill="#e28795"/>
<rect x="1660.7" y="300.7" width="5.5" height="29.6" fill="#e07e8d"/>
<rect x="1665.8" y="300.7" width="5.5" height="29.6" fill="#e07e8d"/>
<rect x="1671" y="300.7" width="5.5" height="29.6" fill="#d44f64"/>
<rect x="1676.2" y="300.7" width="5.5" height="29.6" fill="#d44f64"/>
<rect x="1681.3" y="300.7" width="5.5" height="29.6" fill="#d44f64"/>
<rect x="1686.5" y="300.7" width="5.5" height="29.6" fill="#d44f64"/>
<rect x="1691.7" y="300.7" width="5.5" height="29.6" fill="#d44f64"/>
<rect x="1696.8" y="300.7" width="5.5" height="29.6" fill="#d44f64"/>
<rect x="1702" y="300.7" width="5.5" height="29.6" fill="#d44f64"/>
<rect x="1707.2" y="300.7" width="5.5" height="29.6" fill="#d44f64"/>
<rect x="1712.3" y="300.7" width="5.5" height="29.6" fill="#d44f64"/>
<rect x="1717.5" y="300.7" width="5.5" height="29.6" fill="#d44f64"/>
<rect x="1722.7" y="300.7" width="5.5" height="29.6" fill="#d44f64"/>
<rect x="1727.8" y="300.7" width="5.5" height="29.6" fill="#d44f64"/>
<rect x="1278.3" y="330" width="5.5" height="29.9" fill="#8594b7"/>
<rect x="1283.5" y="330" width="5.5" height="29.9" fill="#8f9dbd"/>
<rect x="1288.6" y="330" width="5.5" height="29.9" fill="#c2cadb"/>
<rect x="1293.8" y="330" width="5.5" height="29.9" fill="#ccd2e1"/>
<rect x="1299" y="330" width="5.5" height="29.9" fill="#485f93"/>
<rect x="1304.1" y="330" width="5.5" height="29.9" fill="#c2cadb"/>
<rect x="1309.3" y="330" width="5.5" height="29.9" fill="#485f93"/>
<rect x="1314.5" y="330" width="5.5" height="29.9" fill="#485f93"/>
<rect x="1319.6" y="330" width="5.5" height="29.9" fill="#526899"/>
<rect x="1324.8" y="330" width="5.5" height="29.9" fill="#526899"/>
<rect x="1330" y="330" width="5.5" height="29.9" fill="#9aa6c3"/>
<rect x="1335.1" y="330" width="5.5" height="29.9" fill="#aeb8cf"/>
<rect x="1340.3" y="330" width="5.5" height="29.9" fill="#b8c1d5"/>
<rect x="1345.5" y="330" width="5.5" height="29.9" fill="#aeb8cf"/>
<rect x="1350.6" y="330" width="5.5" height="29.9" fill="#485f93"/>
<rect x="1355.8" y="330" width="5.5" height="29.9" fill="#526899"/>
<rect x="1361" y="330" width="5.5" height="29.9" fill="#f6dade"/>
<rect x="1366.1" y="330" width="5.5" height="29.9" fill="#9aa6c3"/>
<rect x="1371.3" y="330" width="5.5" height="29.9" fill="#c2cadb"/>
<rect x="1376.5" y="330" width="5.5" height="29.9" fill="#5d719f"/>
<rect x="1381.6" y="330" width="5.5" height="29.9" fill="#fdf6f7"/>
<rect x="1386.8" y="330" width="5.5" height="29.9" fill="#aeb8cf"/>
<rect x="1392" y="330" width="5.5" height="29.9" fill="#7b8bb1"/>
<rect x="1397.1" y="330" width="5.5" height="29.9" fill="#7b8bb1"/>
<rect x="1402.3" y="330" width="5.5" height="29.9" fill="#8594b7"/>
<rect x="1407.5" y="330" width="5.5" height="29.9" fill="#aeb8cf"/>
<rect x="1412.6" y="330" width="5.5" height="29.9" fill="#526899"/>
<rect x="1417.8" y="330" width="5.5" height="29.9" fill="#b8c1d5"/>
<rect x="1423" y="330" width="5.5" height="29.9" fill="#d6dbe7"/>
<rect x="1428.1" y="330" width="5.5" height="29.9" fill="#faecef"/>
<rect x="1433.3" y="330" width="5.5" height="29.9" fill="#ffffff"/>
<rect x="1438.5" y="330" width="5.5" height="29.9" fill="#7182ab"/>
<rect x="1443.6" y="330" width="5.5" height="29.9" fill="#a4afc9"/>
<rect x="1448.8" y="330" width="5.5" height="29.9" fill="#a4afc9"/>
<rect x="1454" y="330" width="5.5" height="29.9" fill="#c2cadb"/>
<rect x="1459.1" y="330" width="5.5" height="29.9" fill="#ffffff"/>
<rect x="1464.3" y="330" width="5.5" height="29.9" fill="#3e568d"/>
<rect x="1469.5" y="330" width="5.5" height="29.9" fill="#c2cadb"/>
<rect x="1474.6" y="330" width="5.5" height="29.9" fill="#ebedf3"/>
<rect x="1479.8" y="330" width="5.5" height="29.9" fill="#e1e4ed"/>
<rect x="1485" y="330" width="5.5" height="29.9" fill="#d96274"/>
<rect x="1490.1" y="330" width="5.5" height="29.9" fill="#d6dbe7"/>
<rect x="1495.3" y="330" width="5.5" height="29.9" fill="#db6b7d"/>
<rect x="1500.5" y="330" width="5.5" height="29.9" fill="#ccd2e1"/>
<rect x="1505.7" y="330" width="5.5" height="29.9" fill="#526899"/>
<rect x="1510.8" y="330" width="5.5" height="29.9" fill="#c2cadb"/>
<rect x="1516" y="330" width="5.5" height="29.9" fill="#9aa6c3"/>
<rect x="1521.2" y="330" width="5.5" height="29.9" fill="#aeb8cf"/>
<rect x="1526.3" y="330" width="5.5" height="29.9" fill="#5d719f"/>
<rect x="1531.5" y="330" width="5.5" height="29.9" fill="#8594b7"/>
<rect x="1536.7" y="330" width="5.5" height="29.9" fill="#aeb8cf"/>
<rect x="1541.8" y="330" width="5.5" height="29.9" fill="#e1e4ed"/>
<rect x="1547" y="330" width="5.5" height="29.9" fill="#9aa6c3"/>
<rect x="1552.2" y="330" width="5.5" height="29.9" fill="#e4909d"/>
<rect x="1557.3" y="330" width="5.5" height="29.9" fill="#e1e4ed"/>
<rect x="1562.5" y="330" width="5.5" height="29.9" fill="#d6dbe7"/>
<rect x="1567.7" y="330" width="5.5" height="29.9" fill="#e1e4ed"/>
<rect x="1572.8" y="330" width="5.5" height="29.9" fill="#ccd2e1"/>
<rect x="1578" y="330" width="5.5" height="29.9" fill="#5d719f"/>
<rect x="1583.2" y="330" width="5.5" height="29.9" fill="#aeb8cf"/>
<rect x="1588.3" y="330" width="5.5" height="29.9" fill="#edb5be"/>
<rect x="1593.5" y="330" width="5.5" height="29.9" fill="#efbec6"/>
<rect x="1598.7" y="330" width="5.5" height="29.9" fill="#ffffff"/>
<rect x="1603.8" y="330" width="5.5" height="29.9" fill="#ebedf3"/>
<rect x="1609" y="330" width="5.5" height="29.9" fill="#dd7485"/>
<rect x="1614.2" y="330" width="5.5" height="29.9" fill="#7182ab"/>
<rect x="1619.3" y="330" width="5.5" height="29.9" fill="#db6b7d"/>
<rect x="1624.5" y="330" width="5.5" height="29.9" fill="#aeb8cf"/>
<rect x="1629.7" y="330" width="5.5" height="29.9" fill="#b8c1d5"/>
<rect x="1634.8" y="330" width="5.5" height="29.9" fill="#efbec6"/>
<rect x="1640" y="330" width="5.5" height="29.9" fill="#faecef"/>
<rect x="1645.2" y="330" width="5.5" height="29.9" fill="#e07e8d"/>
<rect x="1650.3" y="330" width="5.5" height="29.9" fill="#c2cadb"/>
<rect x="1655.5" y="330" width="5.5" height="29.9" fill="#f2c8ce"/>
<rect x="1660.7" y="330" width="5.5" height="29.9" fill="#ffffff"/>
<rect x="1665.8" y="330" width="5.5" height="29.9" fill="#485f93"/>
<rect x="1671" y="330" width="5.5" height="29.9" fill="#d44f64"/>
<rect x="1676.2" y="330" width="5.5" height="29.9" fill="#d44f64"/>
<rect x="1681.3" y="330" width="5.5" height="29.9" fill="#d44f64"/>
<rect x="1686.5" y="330" width="5.5" height="29.9" fill="#d6586c"/>
<rect x="1691.7" y="330" width="5.5" height="29.9" fill="#aeb8cf"/>
<rect x="1696.8" y="330" width="5.5" height="29.9" fill="#d6586c"/>
<rect x="1702" y="330" width="5.5" height="29.9" fill="#d6586c"/>
<rect x="1707.2" y="330" width="5.5" height="29.9" fill="#d6586c"/>
<rect x="1712.3" y="330" width="5.5" height="29.9" fill="#d6586c"/>
<rect x="1717.5" y="330" width="5.5" height="29.9" fill="#d6586c"/>
<rect x="1722.7" y="330" width="5.5" height="29.9" fill="#d6586c"/>
<rect x="1727.8" y="330" width="5.5" height="29.9" fill="#d6586c"/>
<rect x="1278.3" y="359.6" width="5.5" height="29.9" fill="#8594b7"/>
<rect x="1283.5" y="359.6" width="5.5" height="29.9" fill="#8f9dbd"/>
<rect x="1288.6" y="359.6" width="5.5" height="29.9" fill="#9aa6c3"/>
<rect x="1293.8" y="359.6" width="5.5" height="29.9" fill="#8f9dbd"/>
<rect x="1299" y="359.6" width="5.5" height="29.9" fill="#526899"/>
<rect x="1304.1" y="359.6" width="5.5" height="29.9" fill="#8594b7"/>
<rect x="1309.3" y="359.6" width="5.5" height="29.9" fill="#485f93"/>
<rect x="1314.5" y="359.6" width="5.5" height="29.9" fill="#e1e4ed"/>
<rect x="1319.6" y="359.6" width="5.5" height="29.9" fill="#526899"/>
<rect x="1324.8" y="359.6" width="5.5" height="29.9" fill="#526899"/>
<rect x="1330" y="359.6" width="5.5" height="29.9" fill="#9aa6c3"/>
<rect x="1335.1" y="359.6" width="5.5" height="29.9" fill="#b8c1d5"/>
<rect x="1340.3" y="359.6" width="5.5" height="29.9" fill="#b8c1d5"/>
<rect x="1345.5" y="359.6" width="5.5" height="29.9" fill="#9aa6c3"/>
<rect x="1350.6" y="359.6" width="5.5" height="29.9" fill="#485f93"/>
<rect x="1355.8" y="359.6" width="5.5" height="29.9" fill="#ebedf3"/>
<rect x="1361" y="359.6" width="5.5" height="29.9" fill="#d6dbe7"/>
<rect x="1366.1" y="359.6" width="5.5" height="29.9" fill="#3e568d"/>
<rect x="1371.3" y="359.6" width="5.5" height="29.9" fill="#ebedf3"/>
<rect x="1376.5" y="359.6" width="5.5" height="29.9" fill="#d6dbe7"/>
<rect x="1381.6" y="359.6" width="5.5" height="29.9" fill="#d6586c"/>
<rect x="1386.8" y="359.6" width="5.5" height="29.9" fill="#9aa6c3"/>
<rect x="1392" y="359.6" width="5.5" height="29.9" fill="#ebedf3"/>
<rect x="1397.1" y="359.6" width="5.5" height="29.9" fill="#b8c1d5"/>
<rect x="1402.3" y="359.6" width="5.5" height="29.9" fill="#8f9dbd"/>
<rect x="1407.5" y="359.6" width="5.5" height="29.9" fill="#8f9dbd"/>
<rect x="1412.6" y="359.6" width="5.5" height="29.9" fill="#c2cadb"/>
<rect x="1417.8" y="359.6" width="5.5" height="29.9" fill="#e1e4ed"/>
<rect x="1423" y="359.6" width="5.5" height="29.9" fill="#aeb8cf"/>
<rect x="1428.1" y="359.6" width="5.5" height="29.9" fill="#ebedf3"/>
<rect x="1433.3" y="359.6" width="5.5" height="29.9" fill="#d6586c"/>
<rect x="1438.5" y="359.6" width="5.5" height="29.9" fill="#ffffff"/>
<rect x="1443.6" y="359.6" width="5.5" height="29.9" fill="#9aa6c3"/>
<rect x="1448.8" y="359.6" width="5.5" height="29.9" fill="#b8c1d5"/>
<rect x="1454" y="359.6" width="5.5" height="29.9" fill="#9aa6c3"/>
<rect x="1459.1" y="359.6" width="5.5" height="29.9" fill="#e8a2ae"/>
<rect x="1464.3" y="359.6" width="5.5" height="29.9" fill="#edb5be"/>
<rect x="1469.5" y="359.6" width="5.5" height="29.9" fill="#f8e3e7"/>
<rect x="1474.6" y="359.6" width="5.5" height="29.9" fill="#485f93"/>
<rect x="1479.8" y="359.6" width="5.5" height="29.9" fill="#aeb8cf"/>
<rect x="1485" y="359.6" width="5.5" height="29.9" fill="#e1e4ed"/>
<rect x="1490.1" y="359.6" width="5.5" height="29.9" fill="#d6dbe7"/>
<rect x="1495.3" y="359.6" width="5.5" height="29.9" fill="#d6586c"/>
<rect x="1500.5" y="359.6" width="5.5" height="29.9" fill="#fdf6f7"/>
<rect x="1505.7" y="359.6" width="5.5" height="29.9" fill="#9aa6c3"/>
<rect x="1510.8" y="359.6" width="5.5" height="29.9" fill="#d96274"/>
<rect x="1516" y="359.6" width="5.5" height="29.9" fill="#aeb8cf"/>
<rect x="1521.2" y="359.6" width="5.5" height="29.9" fill="#c2cadb"/>
<rect x="1526.3" y="359.6" width="5.5" height="29.9" fill="#485f93"/>
<rect x="1531.5" y="359.6" width="5.5" height="29.9" fill="#9aa6c3"/>
<rect x="1536.7" y="359.6" width="5.5" height="29.9" fill="#ffffff"/>
<rect x="1541.8" y="359.6" width="5.5" height="29.9" fill="#d96274"/>
<rect x="1547" y="359.6" width="5.5" height="29.9" fill="#fdf6f7"/>
<rect x="1552.2" y="359.6" width="5.5" height="29.9" fill="#e8a2ae"/>
<rect x="1557.3" y="359.6" width="5.5" height="29.9" fill="#8594b7"/>
<rect x="1562.5" y="359.6" width="5.5" height="29.9" fill="#aeb8cf"/>
<rect x="1567.7" y="359.6" width="5.5" height="29.9" fill="#d6dbe7"/>
<rect x="1572.8" y="359.6" width="5.5" height="29.9" fill="#d6dbe7"/>
<rect x="1578" y="359.6" width="5.5" height="29.9" fill="#9aa6c3"/>
<rect x="1583.2" y="359.6" width="5.5" height="29.9" fill="#3e568d"/>
<rect x="1588.3" y="359.6" width="5.5" height="29.9" fill="#c2cadb"/>
<rect x="1593.5" y="359.6" width="5.5" height="29.9" fill="#e07e8d"/>
<rect x="1598.7" y="359.6" width="5.5" height="29.9" fill="#d96274"/>
<rect x="1603.8" y="359.6" width="5.5" height="29.9" fill="#f2c8ce"/>
<rect x="1609" y="359.6" width="5.5" height="29.9" fill="#f6dade"/>
<rect x="1614.2" y="359.6" width="5.5" height="29.9" fill="#e1e4ed"/>
<rect x="1619.3" y="359.6" width="5.5" height="29.9" fill="#f2c8ce"/>
<rect x="1624.5" y="359.6" width="5.5" height="29.9" fill="#e8a2ae"/>
<rect x="1629.7" y="359.6" width="5.5" height="29.9" fill="#f6dade"/>
<rect x="1634.8" y="359.6" width="5.5" height="29.9" fill="#f4d1d6"/>
<rect x="1640" y="359.6" width="5.5" height="29.9" fill="#f8e3e7"/>
<rect x="1645.2" y="359.6" width="5.5" height="29.9" fill="#9aa6c3"/>
<rect x="1650.3" y="359.6" width="5.5" height="29.9" fill="#8594b7"/>
<rect x="1655.5" y="359.6" width="5.5" height="29.9" fill="#9aa6c3"/>
<rect x="1660.7" y="359.6" width="5.5" height="29.9" fill="#d96274"/>
<rect x="1665.8" y="359.6" width="5.5" height="29.9" fill="#3e568d"/>
<rect x="1671" y="359.6" width="5.5" height="29.9" fill="#d6586c"/>
<rect x="1676.2" y="359.6" width="5.5" height="29.9" fill="#d6586c"/>
<rect x="1681.3" y="359.6" width="5.5" height="29.9" fill="#d6586c"/>
<rect x="1686.5" y="359.6" width="5.5" height="29.9" fill="#d96274"/>
<rect x="1691.7" y="359.6" width="5.5" height="29.9" fill="#c2cadb"/>
<rect x="1696.8" y="359.6" width="5.5" height="29.9" fill="#e1e4ed"/>
<rect x="1702" y="359.6" width="5.5" height="29.9" fill="#efbec6"/>
<rect x="1707.2" y="359.6" width="5.5" height="29.9" fill="#fdf6f7"/>
<rect x="1712.3" y="359.6" width="5.5" height="29.9" fill="#ffffff"/>
<rect x="1717.5" y="359.6" width="5.5" height="29.9" fill="#d6586c"/>
<rect x="1722.7" y="359.6" width="5.5" height="29.9" fill="#e4909d"/>
<rect x="1727.8" y="359.6" width="5.5" height="29.9" fill="#a4afc9"/>
<line x1="1272.6" y1="300.4" x2="1272.6" y2="390" stroke="#555" stroke-width="1.2"/>
<text font-size="21.3" text-anchor="middle" transform="translate(1264,345.2) rotate(-90)">PRKDC</text>
<text x="1739.8" y="322.5" font-size="21.3">CN</text>
<text x="1739.8" y="354.6" font-size="21.3">RNA**</text>
<text x="1739.8" y="383.8" font-size="21.3">Protein*</text>
<text x="1278.8" y="417.2" font-size="21.3">Spearman correlation * P &lt; 0.05 ** P &lt; 0.01</text>
<text x="1711.5" y="420.2" font-size="21.3">Zscore(abundance)</text>
<defs><linearGradient id="cbd" x1="0" x2="1" y1="0" y2="0"><stop offset="0" stop-color="#38528d"/><stop offset="0.46" stop-color="#eef0f6"/><stop offset="0.5" stop-color="#ffffff"/><stop offset="0.55" stop-color="#ffffff"/><stop offset="0.59" stop-color="#fbe9ec"/><stop offset="1" stop-color="#d4495f"/></linearGradient></defs>
<rect x="1757.3" y="427.6" width="101.4" height="23" fill="url(#cbd)"/>
<text x="1754.4" y="471.4" font-size="18.2" text-anchor="middle">−1</text>
<text x="1809" y="471.4" font-size="18.2" text-anchor="middle">0</text>
<text x="1859.6" y="471.4" font-size="18.2" text-anchor="middle">1</text>
<text x="1.4" y="568" font-size="50" font-weight="bold">e</text>
<rect x="120.6" y="572.8" width="368.4" height="276.2" fill="#fff"/>
<line x1="178.8" y1="572.8" x2="178.8" y2="849" stroke="#f3f3f3" stroke-width="1"/>
<line x1="262.4" y1="572.8" x2="262.4" y2="849" stroke="#f3f3f3" stroke-width="1"/>
<line x1="345.9" y1="572.8" x2="345.9" y2="849" stroke="#f3f3f3" stroke-width="1"/>
<line x1="429.5" y1="572.8" x2="429.5" y2="849" stroke="#f3f3f3" stroke-width="1"/>
<line x1="120.6" y1="805" x2="489" y2="805" stroke="#f3f3f3" stroke-width="1"/>
<line x1="120.6" y1="742.2" x2="489" y2="742.2" stroke="#f3f3f3" stroke-width="1"/>
<line x1="120.6" y1="679.4" x2="489" y2="679.4" stroke="#f3f3f3" stroke-width="1"/>
<line x1="120.6" y1="616.6" x2="489" y2="616.6" stroke="#f3f3f3" stroke-width="1"/>
<line x1="137" y1="572.8" x2="137" y2="849" stroke="#e8e8e8" stroke-width="1.4"/>
<line x1="220.6" y1="572.8" x2="220.6" y2="849" stroke="#e8e8e8" stroke-width="1.4"/>
<line x1="304.2" y1="572.8" x2="304.2" y2="849" stroke="#e8e8e8" stroke-width="1.4"/>
<line x1="387.7" y1="572.8" x2="387.7" y2="849" stroke="#e8e8e8" stroke-width="1.4"/>
<line x1="471.3" y1="572.8" x2="471.3" y2="849" stroke="#e8e8e8" stroke-width="1.4"/>
<line x1="120.6" y1="836.4" x2="489" y2="836.4" stroke="#e8e8e8" stroke-width="1.4"/>
<line x1="120.6" y1="773.6" x2="489" y2="773.6" stroke="#e8e8e8" stroke-width="1.4"/>
<line x1="120.6" y1="710.8" x2="489" y2="710.8" stroke="#e8e8e8" stroke-width="1.4"/>
<line x1="120.6" y1="648" x2="489" y2="648" stroke="#e8e8e8" stroke-width="1.4"/>
<line x1="120.6" y1="585.2" x2="489" y2="585.2" stroke="#e8e8e8" stroke-width="1.4"/>
<rect x="120.6" y="572.8" width="368.4" height="276.2" fill="none" stroke="#3b2f2f" stroke-width="1.3"/>
<line x1="137" y1="849" x2="137" y2="854" stroke="#444" stroke-width="1"/>
<text x="137" y="874.5" font-size="19.8" text-anchor="middle">0</text>
<line x1="220.6" y1="849" x2="220.6" y2="854" stroke="#444" stroke-width="1"/>
<text x="220.6" y="874.5" font-size="19.8" text-anchor="middle">30</text>
<line x1="304.2" y1="849" x2="304.2" y2="854" stroke="#444" stroke-width="1"/>
<text x="304.2" y="874.5" font-size="19.8" text-anchor="middle">60</text>
<line x1="387.7" y1="849" x2="387.7" y2="854" stroke="#444" stroke-width="1"/>
<text x="387.7" y="874.5" font-size="19.8" text-anchor="middle">90</text>
<line x1="471.3" y1="849" x2="471.3" y2="854" stroke="#444" stroke-width="1"/>
<text x="471.3" y="874.5" font-size="19.8" text-anchor="middle">120</text>
<line x1="115.6" y1="836.4" x2="120.6" y2="836.4" stroke="#444" stroke-width="1"/>
<text x="103.3" y="843.4" font-size="19.8" text-anchor="end">0.00</text>
<line x1="115.6" y1="773.6" x2="120.6" y2="773.6" stroke="#444" stroke-width="1"/>
<text x="103.3" y="780.6" font-size="19.8" text-anchor="end">0.25</text>
<line x1="115.6" y1="710.8" x2="120.6" y2="710.8" stroke="#444" stroke-width="1"/>
<text x="103.3" y="717.8" font-size="19.8" text-anchor="end">0.50</text>
<line x1="115.6" y1="648" x2="120.6" y2="648" stroke="#444" stroke-width="1"/>
<text x="103.3" y="655" font-size="19.8" text-anchor="end">0.75</text>
<line x1="115.6" y1="585.2" x2="120.6" y2="585.2" stroke="#444" stroke-width="1"/>
<text x="103.3" y="592.2" font-size="19.8" text-anchor="end">1.00</text>
<text x="271.8" y="904.3" font-size="21.3" text-anchor="middle">Overall survival (months)</text>
<text font-size="19.8" text-anchor="middle" transform="translate(48.6,717.9) rotate(-90)">Survival probability</text>
<text x="120" y="560.8" font-size="24.8">Fudan cohort</text>
<path d="M137 585.2 L153.7 585.2 L153.7 594 L162.1 594 L162.1 611.6 L176 611.6 L176 631.4 L178.8 631.4 L178.8 641.2 L206.7 641.2 L206.7 651.8 L393.3 651.8 L393.3 689.2 L415.6 689.2 L415.6 689.2" fill="none" stroke="#bdbdbd" stroke-width="2.3" stroke-linejoin="miter"/>
<path d="M147.6 580.2H157M152.3 575.5V584.9M153.2 589H162.6M157.9 584.3V593.7M167.1 606.6H176.5M171.8 601.9V611.3M188 635.4H197.4M192.7 630.7V640.1M204.7 646.2H214.1M209.4 641.5V650.9M227 646.2H236.4M231.7 641.5V650.9M253.5 646.2H262.9M258.2 641.5V650.9M259.1 646.2H268.5M263.8 641.5V650.9M267.4 646.2H276.8M272.1 641.5V650.9M271.6 646.2H281M276.3 641.5V650.9M281.4 646.2H290.8M286.1 641.5V650.9M288.3 646.2H297.7M293 641.5V650.9M296.7 646.2H306.1M301.4 641.5V650.9M370.5 646.2H379.9M375.2 641.5V650.9M403.9 683.2H413.3M408.6 678.5V687.9M409.5 683.2H418.9M414.2 678.5V687.9M416.5 683.2H425.9M421.2 678.5V687.9" stroke="#bdbdbd" stroke-width="1.7" fill="none"/>
<path d="M137 585.2 L166.8 585.2 L166.8 594.5 L188.8 594.5 L188.8 605.5 L192.4 605.5 L192.4 617.9 L198 617.9 L198 628.7 L206.4 628.7 L206.4 653.1 L228.7 653.1 L228.7 666.7 L242.9 666.7 L242.9 679.4 L267.7 679.4 L267.7 694 L278.8 694 L278.8 711.8 L290.8 711.8 L290.8 753.3 L312.5 753.3 L312.5 774.1 L471.3 774.1 L471.3 774.1" fill="none" stroke="#7d1d22" stroke-width="2.3" stroke-linejoin="miter"/>
<path d="M153.2 577.7H162.6M157.9 573V582.4M164.3 578.9H173.7M169 574.2V583.6M165.7 589.5H175.1M170.4 584.8V594.2M168.5 589.5H177.9M173.2 584.8V594.2M171.3 589.5H180.7M176 584.8V594.2M176.9 589.5H186.3M181.6 584.8V594.2M179.7 589.5H189.1M184.4 584.8V594.2M182.4 589H191.8M187.1 584.3V593.7M197.8 622.9H207.2M202.5 618.2V627.6M217.3 646.2H226.7M222 641.5V650.9M253.5 674.4H262.9M258.2 669.7V679.1M274.4 688.2H283.8M279.1 683.5V692.9M277.2 688.2H286.6M281.9 683.5V692.9M282.7 707H292.1M287.4 702.3V711.7M339.9 768.6H349.3M344.6 763.9V773.3M470.8 768.6H480.2M475.5 763.9V773.3" stroke="#7d1d22" stroke-width="1.7" fill="none"/>
<text x="126.5" y="769.8" font-size="21.3">p = 4.00e-02</text>
<text x="126.5" y="804.9" font-size="21.3" fill="#bdbdbd">WT, n = 31</text>
<text x="126.5" y="835.9" font-size="21.3" fill="#7d1d22"><tspan font-style="italic">PRKDC</tspan> amplification, n = 30</text>
<rect x="609" y="573.7" width="368.5" height="276.8" fill="#fff"/>
<line x1="667.2" y1="573.7" x2="667.2" y2="850.5" stroke="#f3f3f3" stroke-width="1"/>
<line x1="750.9" y1="573.7" x2="750.9" y2="850.5" stroke="#f3f3f3" stroke-width="1"/>
<line x1="834.6" y1="573.7" x2="834.6" y2="850.5" stroke="#f3f3f3" stroke-width="1"/>
<line x1="918.2" y1="573.7" x2="918.2" y2="850.5" stroke="#f3f3f3" stroke-width="1"/>
<line x1="609" y1="806.4" x2="977.5" y2="806.4" stroke="#f3f3f3" stroke-width="1"/>
<line x1="609" y1="743.8" x2="977.5" y2="743.8" stroke="#f3f3f3" stroke-width="1"/>
<line x1="609" y1="681" x2="977.5" y2="681" stroke="#f3f3f3" stroke-width="1"/>
<line x1="609" y1="618.3" x2="977.5" y2="618.3" stroke="#f3f3f3" stroke-width="1"/>
<line x1="625.4" y1="573.7" x2="625.4" y2="850.5" stroke="#e8e8e8" stroke-width="1.4"/>
<line x1="709.1" y1="573.7" x2="709.1" y2="850.5" stroke="#e8e8e8" stroke-width="1.4"/>
<line x1="792.7" y1="573.7" x2="792.7" y2="850.5" stroke="#e8e8e8" stroke-width="1.4"/>
<line x1="876.4" y1="573.7" x2="876.4" y2="850.5" stroke="#e8e8e8" stroke-width="1.4"/>
<line x1="960.1" y1="573.7" x2="960.1" y2="850.5" stroke="#e8e8e8" stroke-width="1.4"/>
<line x1="609" y1="837.8" x2="977.5" y2="837.8" stroke="#e8e8e8" stroke-width="1.4"/>
<line x1="609" y1="775.1" x2="977.5" y2="775.1" stroke="#e8e8e8" stroke-width="1.4"/>
<line x1="609" y1="712.4" x2="977.5" y2="712.4" stroke="#e8e8e8" stroke-width="1.4"/>
<line x1="609" y1="649.7" x2="977.5" y2="649.7" stroke="#e8e8e8" stroke-width="1.4"/>
<line x1="609" y1="587" x2="977.5" y2="587" stroke="#e8e8e8" stroke-width="1.4"/>
<rect x="609" y="573.7" width="368.5" height="276.8" fill="none" stroke="#3b2f2f" stroke-width="1.3"/>
<line x1="625.4" y1="850.5" x2="625.4" y2="855.5" stroke="#444" stroke-width="1"/>
<text x="625.4" y="876" font-size="19.8" text-anchor="middle">0</text>
<line x1="709.1" y1="850.5" x2="709.1" y2="855.5" stroke="#444" stroke-width="1"/>
<text x="709.1" y="876" font-size="19.8" text-anchor="middle">30</text>
<line x1="792.7" y1="850.5" x2="792.7" y2="855.5" stroke="#444" stroke-width="1"/>
<text x="792.7" y="876" font-size="19.8" text-anchor="middle">60</text>
<line x1="876.4" y1="850.5" x2="876.4" y2="855.5" stroke="#444" stroke-width="1"/>
<text x="876.4" y="876" font-size="19.8" text-anchor="middle">90</text>
<line x1="960.1" y1="850.5" x2="960.1" y2="855.5" stroke="#444" stroke-width="1"/>
<text x="960.1" y="876" font-size="19.8" text-anchor="middle">120</text>
<line x1="604" y1="837.8" x2="609" y2="837.8" stroke="#444" stroke-width="1"/>
<text x="597.6" y="844.8" font-size="19.8" text-anchor="end">0.00</text>
<line x1="604" y1="775.1" x2="609" y2="775.1" stroke="#444" stroke-width="1"/>
<text x="597.6" y="782.1" font-size="19.8" text-anchor="end">0.25</text>
<line x1="604" y1="712.4" x2="609" y2="712.4" stroke="#444" stroke-width="1"/>
<text x="597.6" y="719.4" font-size="19.8" text-anchor="end">0.50</text>
<line x1="604" y1="649.7" x2="609" y2="649.7" stroke="#444" stroke-width="1"/>
<text x="597.6" y="656.7" font-size="19.8" text-anchor="end">0.75</text>
<line x1="604" y1="587" x2="609" y2="587" stroke="#444" stroke-width="1"/>
<text x="597.6" y="594" font-size="19.8" text-anchor="end">1.00</text>
<text x="760.2" y="905.8" font-size="21.3" text-anchor="middle">Overall survival (months)</text>
<text font-size="19.8" text-anchor="middle" transform="translate(537,719.1) rotate(-90)">Survival probability</text>
<text x="609" y="561.7" font-size="25.4">TCGA cohort</text>
<path d="M625.4 587 L632.1 587 L632.1 588.2 L637.4 588.2 L637.4 589.1 L647.1 589.1 L647.1 591.1 L647.3 591.1 L647.3 591.3 L647.7 591.3 L647.7 591.9 L654.6 591.9 L654.6 600.3 L657.3 600.3 L657.3 602.7 L668.8 602.7 L668.8 614.1 L673.1 614.1 L673.1 618.7 L676.9 618.7 L676.9 621.7 L691.2 621.7 L691.2 631.7 L692.9 631.7 L692.9 633.1 L698.1 633.1 L698.1 637.2 L699.2 637.2 L699.2 638.5 L705.6 638.5 L705.6 650.8 L713.2 650.8 L713.2 654.6 L718 654.6 L718 657.1 L718.1 657.1 L718.1 657.1 L732.9 657.1 L732.9 665.3 L738.6 665.3 L738.6 668.2 L743.3 668.2 L743.3 670.6 L746.1 670.6 L746.1 671.9 L758.3 671.9 L758.3 682.5 L760.9 682.5 L760.9 685.4 L768.5 685.4 L768.5 691.2 L769.3 691.2 L769.3 691.4 L770.3 691.4 L770.3 691.7 L779.6 691.7 L779.6 694.4 L784.3 694.4 L784.3 695.8 L790.6 695.8 L790.6 698.3 L798 698.3 L798 702 L799.3 702 L799.3 702.7 L802.5 702.7 L802.5 704.3 L802.8 704.3 L802.8 704.4 L804.6 704.4 L804.6 705.3 L808.4 705.3 L808.4 708 L814.9 708 L814.9 712.7 L815.2 712.7 L815.2 712.9 L817.6 712.9 L817.6 714.7 L818.9 714.7 L818.9 715.6 L828.5 715.6 L828.5 718.9 L828.6 718.9 L828.6 718.9 L831.7 718.9 L831.7 719.8 L841.2 719.8 L841.2 722.9 L841.3 722.9 L841.3 722.9 L842.7 722.9 L842.7 723.4 L849.4 723.4 L849.4 725.8 L854.5 725.8 L854.5 727.3 L867.1 727.3 L867.1 728.6 L867.2 728.6 L867.2 728.6 L876.4 728.6 L876.4 729.8 L877.8 729.8 L877.8 730.2 L878.1 730.2 L878.1 730.2 L883 730.2 L883 731.6 L883.8 731.6 L883.8 731.8 L885 731.8 L885 732.2 L886.5 732.2 L886.5 732.6 L887.2 732.6 L887.2 732.8 L890.4 732.8 L890.4 733.7 L890.5 733.7 L890.5 733.7 L898 733.7 L898 735.5 L898.2 735.5 L898.2 735.6 L903.1 735.6 L903.1 736.5 L905.4 736.5 L905.4 736.9 L907.4 736.9 L907.4 737.3 L916.1 737.3 L916.1 739 L916.3 739 L916.3 739 L923.6 739 L923.6 740.8 L923.9 740.8 L923.9 740.9 L925.3 740.9 L925.3 741.2 L928.3 741.2 L928.3 742 L958.7 742 L958.7 742" fill="none" stroke="#bdbdbd" stroke-width="2.3" stroke-linejoin="miter"/>
<path d="M624.9 580.2H634.3M629.6 575.5V584.9M630.5 581.2H639.9M635.2 576.5V585.9M644.4 586.2H653.8M649.1 581.5V590.9M671.8 613.9H681.2M676.5 609.2V618.6M656.2 598.6H665.6M660.9 593.9V603.3M664.8 607.3H674.2M669.5 602.6V612M693.3 629.5H702.7M698 624.8V634.2M699.5 640.8H708.9M704.2 636.1V645.5M649.8 592.7H659.2M654.5 588V597.4M684 622.3H693.4M688.7 617.6V627M649.9 592.7H659.3M654.6 588V597.4M690.3 627.2H699.7M695 622.5V631.9M667 609.7H676.4M671.7 605V614.4M700 641.8H709.4M704.7 637.1V646.5M706 645.8H715.4M710.7 641.1V650.5M677.5 617.7H686.9M682.2 613V622.4M707.1 646.4H716.5M711.8 641.7V651.1M665.8 608.3H675.2M670.5 603.6V613M651.8 594.5H661.2M656.5 589.8V599.2M683.2 621.6H692.6M687.9 616.9V626.3M649.1 592H658.5M653.8 587.3V596.7M659 601.2H668.4M663.7 596.5V605.9M671.7 613.8H681.1M676.4 609.1V618.5M683.8 622.1H693.2M688.5 617.4V626.8M656.6 598.9H666M661.3 594.2V603.6M649.7 592.6H659.1M654.4 587.9V597.3M699.2 640.2H708.6M703.9 635.5V644.9M666 608.6H675.4M670.7 603.9V613.3M704.7 645.2H714.1M709.4 640.5V649.9M701 643.3H710.4M705.7 638.6V648M669.8 612.6H679.2M674.5 607.9V617.3M674.8 615.9H684.2M679.5 611.2V620.6M678.4 618.3H687.8M683.1 613.6V623M685.8 623.6H695.2M690.5 618.9V628.3M682.9 621.4H692.3M687.6 616.7V626.1M680.7 619.9H690.1M685.4 615.2V624.6M684.4 622.5H693.8M689.1 617.8V627.2M703.6 644.6H713M708.3 639.9V649.3M677.6 617.8H687M682.3 613.1V622.5M673.1 614.8H682.5M677.8 610.1V619.5M690.4 627.3H699.8M695.1 622.6V632M661.4 603.8H670.8M666.1 599.1V608.5M665.2 607.8H674.6M669.9 603.1V612.5M705.8 645.8H715.2M710.5 641.1V650.5M678.4 618.4H687.8M683.1 613.7V623.1M680.1 619.5H689.5M684.8 614.8V624.2M647.9 590.9H657.3M652.6 586.2V595.6M672.1 614.1H681.5M676.8 609.4V618.8M682 620.7H691.4M686.7 616V625.4M648.4 591.4H657.8M653.1 586.7V596.1M684.1 622.3H693.5M688.8 617.6V627M737.1 662.3H746.5M741.8 657.6V667M710 647.9H719.4M714.7 643.2V652.6M736.9 662.2H746.3M741.6 657.5V666.9M729.3 658.4H738.7M734 653.7V663.1M739.4 663.4H748.8M744.1 658.7V668.1M723.9 655.3H733.3M728.6 650.6V660M740.7 664.1H750.1M745.4 659.4V668.8M742.2 664.8H751.6M746.9 660.1V669.5M708.2 647H717.6M712.9 642.3V651.7M710 647.9H719.4M714.7 643.2V652.6M739.2 663.3H748.6M743.9 658.6V668M752.8 674H762.2M757.5 669.3V678.7M719.1 652.6H728.5M723.8 647.9V657.3M728.8 658.1H738.2M733.5 653.4V662.8M786.6 691.1H796M791.3 686.4V695.8M774.4 686.7H783.8M779.1 682V691.4M776.4 687.3H785.8M781.1 682.6V692M774.1 686.6H783.5M778.8 681.9V691.3M776.6 687.4H786M781.3 682.7V692.1M786.7 691.2H796.1M791.4 686.5V695.9M773.6 686.5H783M778.3 681.8V691.2M777 687.5H786.4M781.7 682.8V692.2M794.6 695.1H804M799.3 690.4V699.8M761.4 682.9H770.8M766.1 678.2V687.6M785.6 690.6H795M790.3 685.9V695.3M793 694.3H802.4M797.7 689.6V699M774 686.6H783.4M778.7 681.9V691.3M770.1 685.5H779.5M774.8 680.8V690.2M796 695.8H805.4M800.7 691.1V700.5M770.8 685.7H780.2M775.5 681V690.4M768.5 685H777.9M773.2 680.3V689.7M779.6 688.2H789M784.3 683.5V692.9M838.7 716.1H848.1M843.4 711.4V720.8M812.1 706.5H821.5M816.8 701.8V711.2M821.9 710.8H831.3M826.6 706.1V715.5M822.5 711H831.9M827.2 706.3V715.7M844.8 718.3H854.2M849.5 713.6V723M827.1 712.4H836.5M831.8 707.7V717.1M845.7 718.7H855.1M850.4 714V723.4M815.1 708.7H824.5M819.8 704V713.4M822.6 711H832M827.3 706.3V715.7M836.6 715.4H846M841.3 710.7V720.1M847.1 719.1H856.5M851.8 714.4V723.8M827.7 712.5H837.1M832.4 707.8V717.2M817.6 709.5H827M822.3 704.8V714.2M813 707.2H822.4M817.7 702.5V711.9M831.2 713.6H840.6M835.9 708.9V718.3M816.1 709.1H825.5M820.8 704.4V713.8M843.6 717.9H853M848.3 713.2V722.6M845 718.4H854.4M849.7 713.7V723.1M815.8 709H825.2M820.5 704.3V713.7M820 710.3H829.4M824.7 705.6V715M868.9 721.8H878.3M873.6 717.1V726.5M871.7 722.2H881.1M876.4 717.5V726.9M882.9 725.3H892.3M887.6 720.6V730M888.4 726.9H897.8M893.1 722.2V731.6M892.6 727.9H902M897.3 723.2V732.6M895.4 728.4H904.8M900.1 723.7V733.1M910.8 731.3H920.2M915.5 726.6V736M921.9 734H931.3M926.6 729.3V738.7M952.6 734.5H962M957.3 729.8V739.2M959.6 734.5H969M964.3 729.8V739.2" stroke="#bdbdbd" stroke-width="1.7" fill="none"/>
<path d="M625.4 587 L630.7 587 L630.7 603.9 L650.5 603.9 L650.5 637.2 L664.4 637.2 L664.4 655.5 L670 655.5 L670 673.8 L692.6 673.8 L692.6 694.3 L697.9 694.3 L697.9 718.4 L748.4 718.4 L748.4 742.2 L887.6 742.2 L887.6 774.3 L958.1 774.3 L958.1 837.8" fill="none" stroke="#7d1d22" stroke-width="2.3" stroke-linejoin="miter"/>
<path d="M661.1 630.9H670.5M665.8 626.2V635.6M669.5 668H678.9M674.2 663.3V672.7M695.4 688.1H704.8M700.1 683.4V692.8M773.5 736.5H782.9M778.2 731.8V741.2M899 768.1H908.4M903.7 763.4V772.8" stroke="#7d1d22" stroke-width="1.7" fill="none"/>
<text x="616.5" y="769.8" font-size="21.3">p = 1.90e-02</text>
<text x="616.5" y="804.9" font-size="21.3" fill="#bdbdbd">WT, n = 252</text>
<text x="619" y="835.9" font-size="21.3" fill="#7d1d22"><tspan font-style="italic">PRKDC</tspan> amplification, n = 15</text>
<text x="1050" y="570.6" font-size="50" font-weight="bold">f</text>
<rect x="1285" y="564.3" width="483" height="302.1" fill="none" stroke="#222" stroke-width="1.3"/>
<line x1="1378.2" y1="564.3" x2="1378.2" y2="866.4" stroke="#333" stroke-width="1.2" stroke-dasharray="17 7"/>
<text x="1525" y="554.5" font-size="24.8" text-anchor="middle">HR from multivariate Cox model</text>
<line x1="1277" y1="589.5" x2="1285" y2="589.5" stroke="#222" stroke-width="1.2"/>
<line x1="1375.4" y1="589.5" x2="1433.2" y2="589.5" stroke="#333" stroke-width="1.1"/>
<line x1="1375.4" y1="585.5" x2="1375.4" y2="593.5" stroke="#333" stroke-width="1.1"/>
<line x1="1433.2" y1="585.5" x2="1433.2" y2="593.5" stroke="#333" stroke-width="1.1"/>
<circle cx="1400.6" cy="589.5" r="7.3" fill="#000"/>
<text x="1272" y="596.5" font-size="24.8" text-anchor="end">Histological type</text>
<line x1="1277" y1="639.6" x2="1285" y2="639.6" stroke="#222" stroke-width="1.2"/>
<line x1="1315.8" y1="639.6" x2="1395" y2="639.6" stroke="#333" stroke-width="1.1"/>
<line x1="1315.8" y1="635.6" x2="1315.8" y2="643.6" stroke="#333" stroke-width="1.1"/>
<line x1="1395" y1="635.6" x2="1395" y2="643.6" stroke="#333" stroke-width="1.1"/>
<circle cx="1343.7" cy="639.6" r="7.3" fill="#000"/>
<text x="1272" y="646.6" font-size="24.8" text-anchor="end">Gender</text>
<line x1="1277" y1="688.7" x2="1285" y2="688.7" stroke="#222" stroke-width="1.2"/>
<line x1="1364.2" y1="688.7" x2="1386.6" y2="688.7" stroke="#333" stroke-width="1.1"/>
<line x1="1364.2" y1="684.7" x2="1364.2" y2="692.7" stroke="#333" stroke-width="1.1"/>
<line x1="1386.6" y1="684.7" x2="1386.6" y2="692.7" stroke="#333" stroke-width="1.1"/>
<circle cx="1376.3" cy="688.7" r="7.3" fill="#000"/>
<text x="1272" y="695.7" font-size="24.8" text-anchor="end">Age at diagnosis</text>
<line x1="1277" y1="740.6" x2="1285" y2="740.6" stroke="#222" stroke-width="1.2"/>
<line x1="1305.5" y1="740.6" x2="1455.6" y2="740.6" stroke="#333" stroke-width="1.1"/>
<line x1="1305.5" y1="736.6" x2="1305.5" y2="744.6" stroke="#333" stroke-width="1.1"/>
<line x1="1455.6" y1="736.6" x2="1455.6" y2="744.6" stroke="#333" stroke-width="1.1"/>
<circle cx="1344.6" cy="740.6" r="7.3" fill="#000"/>
<line x1="1277" y1="791" x2="1285" y2="791" stroke="#222" stroke-width="1.2"/>
<line x1="1310.2" y1="791" x2="1441.6" y2="791" stroke="#333" stroke-width="1.1"/>
<line x1="1310.2" y1="787" x2="1310.2" y2="795" stroke="#333" stroke-width="1.1"/>
<line x1="1441.6" y1="787" x2="1441.6" y2="795" stroke="#333" stroke-width="1.1"/>
<circle cx="1347.4" cy="791" r="7.3" fill="#000"/>
<line x1="1277" y1="841.6" x2="1285" y2="841.6" stroke="#222" stroke-width="1.2"/>
<line x1="1377.3" y1="841.6" x2="1622.4" y2="841.6" stroke="#333" stroke-width="1.1"/>
<line x1="1377.3" y1="837.6" x2="1377.3" y2="845.6" stroke="#333" stroke-width="1.1"/>
<line x1="1622.4" y1="837.6" x2="1622.4" y2="845.6" stroke="#333" stroke-width="1.1"/>
<circle cx="1461.1" cy="841.6" r="7.3" fill="#000"/>
<text x="1272" y="747.5" font-size="24.8" text-anchor="end"><tspan font-style="italic">BRAF</tspan><tspan font-style="italic" font-size="14" dy="-11">V600E</tspan></text>
<text x="1265" y="797" font-size="24.8" text-anchor="end"><tspan font-style="italic">KIT</tspan> mutation</text>
<text x="1265" y="849" font-size="24.8" text-anchor="end"><tspan font-style="italic">PRKDC</tspan> amplification</text>
<line x1="1285" y1="866.4" x2="1285" y2="874.4" stroke="#222" stroke-width="1.2"/>
<text x="1285" y="898.9" font-size="24" text-anchor="middle">0</text>
<line x1="1378.2" y1="866.4" x2="1378.2" y2="874.4" stroke="#222" stroke-width="1.2"/>
<text x="1378.2" y="898.9" font-size="24" text-anchor="middle">1</text>
<line x1="1471.4" y1="866.4" x2="1471.4" y2="874.4" stroke="#222" stroke-width="1.2"/>
<text x="1471.4" y="898.9" font-size="24" text-anchor="middle">2</text>
<line x1="1564.6" y1="866.4" x2="1564.6" y2="874.4" stroke="#222" stroke-width="1.2"/>
<text x="1564.6" y="898.9" font-size="24" text-anchor="middle">3</text>
<line x1="1657.8" y1="866.4" x2="1657.8" y2="874.4" stroke="#222" stroke-width="1.2"/>
<text x="1657.8" y="898.9" font-size="24" text-anchor="middle">4</text>
<line x1="1751" y1="866.4" x2="1751" y2="874.4" stroke="#222" stroke-width="1.2"/>
<text x="1751" y="898.9" font-size="24" text-anchor="middle">5</text>
<text x="1526" y="928" font-size="24.8" text-anchor="middle">Hazard Ratio (95% Condidence Interval)</text>
<text x="4.6" y="1001.5" font-size="50" font-weight="bold">g</text>
<text x="125.8" y="1014.8" font-size="25.1"><tspan font-style="italic">PRKDC</tspan> amplification vs WT (protein level)</text>
<line x1="530.6" y1="1039" x2="530.6" y2="1211" stroke="#ebebeb" stroke-width="1.1"/>
<line x1="530.6" y1="1282" x2="530.6" y2="1378.8" stroke="#ebebeb" stroke-width="1.1"/>
<line x1="492.5" y1="1039" x2="492.5" y2="1211" stroke="#ebebeb" stroke-width="1.1"/>
<line x1="492.5" y1="1282" x2="492.5" y2="1378.8" stroke="#ebebeb" stroke-width="1.1"/>
<line x1="454.3" y1="1039" x2="454.3" y2="1211" stroke="#ebebeb" stroke-width="1.1"/>
<line x1="454.3" y1="1282" x2="454.3" y2="1378.8" stroke="#ebebeb" stroke-width="1.1"/>
<line x1="416.2" y1="1039" x2="416.2" y2="1211" stroke="#ebebeb" stroke-width="1.1"/>
<line x1="416.2" y1="1282" x2="416.2" y2="1378.8" stroke="#ebebeb" stroke-width="1.1"/>
<line x1="378.1" y1="1039" x2="378.1" y2="1211" stroke="#ebebeb" stroke-width="1.1"/>
<line x1="378.1" y1="1282" x2="378.1" y2="1378.8" stroke="#ebebeb" stroke-width="1.1"/>
<line x1="340" y1="1039" x2="340" y2="1211" stroke="#ebebeb" stroke-width="1.1"/>
<line x1="340" y1="1282" x2="340" y2="1378.8" stroke="#ebebeb" stroke-width="1.1"/>
<line x1="301.8" y1="1039" x2="301.8" y2="1211" stroke="#ebebeb" stroke-width="1.1"/>
<line x1="301.8" y1="1282" x2="301.8" y2="1378.8" stroke="#ebebeb" stroke-width="1.1"/>
<line x1="263.7" y1="1039" x2="263.7" y2="1211" stroke="#ebebeb" stroke-width="1.1"/>
<line x1="263.7" y1="1282" x2="263.7" y2="1378.8" stroke="#ebebeb" stroke-width="1.1"/>
<line x1="225.6" y1="1039" x2="225.6" y2="1211" stroke="#ebebeb" stroke-width="1.1"/>
<line x1="225.6" y1="1282" x2="225.6" y2="1378.8" stroke="#ebebeb" stroke-width="1.1"/>
<line x1="187.4" y1="1039" x2="187.4" y2="1211" stroke="#ebebeb" stroke-width="1.1"/>
<line x1="187.4" y1="1282" x2="187.4" y2="1378.8" stroke="#ebebeb" stroke-width="1.1"/>
<line x1="150.2" y1="1039" x2="150.2" y2="1378.8" stroke="#555" stroke-width="1.3"/>
<line x1="150.2" y1="1378.8" x2="545.3" y2="1378.8" stroke="#555" stroke-width="1.5"/>
<line x1="144.2" y1="1202.4" x2="150.2" y2="1202.4" stroke="#555" stroke-width="1.2"/>
<text x="139.2" y="1209.9" font-size="21.4" text-anchor="end">0.00</text>
<line x1="144.2" y1="1158.8" x2="150.2" y2="1158.8" stroke="#555" stroke-width="1.2"/>
<text x="139.2" y="1166.3" font-size="21.4" text-anchor="end">0.25</text>
<line x1="144.2" y1="1115.2" x2="150.2" y2="1115.2" stroke="#555" stroke-width="1.2"/>
<text x="139.2" y="1122.7" font-size="21.4" text-anchor="end">0.50</text>
<line x1="144.2" y1="1071.6" x2="150.2" y2="1071.6" stroke="#555" stroke-width="1.2"/>
<text x="139.2" y="1079.1" font-size="21.4" text-anchor="end">0.75</text>
<line x1="144.2" y1="1286.5" x2="150.2" y2="1286.5" stroke="#555" stroke-width="1.2"/>
<text x="139.2" y="1294" font-size="21.4" text-anchor="end">5.0</text>
<line x1="144.2" y1="1309.2" x2="150.2" y2="1309.2" stroke="#555" stroke-width="1.2"/>
<text x="139.2" y="1316.8" font-size="21.4" text-anchor="end">2.5</text>
<line x1="144.2" y1="1332" x2="150.2" y2="1332" stroke="#555" stroke-width="1.2"/>
<text x="139.2" y="1339.5" font-size="21.4" text-anchor="end">0.0</text>
<line x1="144.2" y1="1354.8" x2="150.2" y2="1354.8" stroke="#555" stroke-width="1.2"/>
<text x="139.2" y="1362.2" font-size="21.4" text-anchor="end">−2.5</text>
<line x1="144.2" y1="1377.5" x2="150.2" y2="1377.5" stroke="#555" stroke-width="1.2"/>
<text x="139.2" y="1385" font-size="21.4" text-anchor="end">−5.0</text>
<line x1="237.5" y1="1378.8" x2="237.5" y2="1384" stroke="#555" stroke-width="1.2"/>
<text x="237.5" y="1407" font-size="21.4" text-anchor="middle">200</text>
<line x1="335.4" y1="1378.8" x2="335.4" y2="1384" stroke="#555" stroke-width="1.2"/>
<text x="335.4" y="1407" font-size="21.4" text-anchor="middle">400</text>
<line x1="433.3" y1="1378.8" x2="433.3" y2="1384" stroke="#555" stroke-width="1.2"/>
<text x="433.3" y="1407" font-size="21.4" text-anchor="middle">600</text>
<line x1="531.2" y1="1378.8" x2="531.2" y2="1384" stroke="#555" stroke-width="1.2"/>
<text x="531.2" y="1407" font-size="21.4" text-anchor="middle">800</text>
<text x="338" y="1437" font-size="21.3" text-anchor="middle">Rank in Ordered Dataset</text>
<text font-size="21.3" text-anchor="middle" transform="translate(58.4,1137) rotate(-90)">Running</text>
<text font-size="21.3" text-anchor="middle" transform="translate(88,1143) rotate(-90)">Enrichment Score</text>
<text font-size="21.3" text-anchor="middle" transform="translate(58.4,1337) rotate(-90)">Ranked</text>
<text font-size="21.3" text-anchor="middle" transform="translate(88,1338) rotate(-90)">list metric</text>
<path d="M150.2 1286.3 L150.7 1294.8 L152.1 1301.8 L156.4 1305.2 L166.2 1309.5 L178.9 1314.5 L190.2 1318.8 L204.3 1323 L218.4 1325.8 L235.3 1327.8 L255 1329.2 L297.3 1330.3 L353.7 1331.2 L410 1332 L545.3 1332 L150.2 1332 Z" fill="#bcbcbc" stroke="none" stroke-width="0"/>
<path d="M410 1332 L452.3 1333.4 L480.5 1334.8 L503 1337.6 L514.3 1341.3 L522.8 1345.5 L531.2 1350.3 L536.9 1354.8 L541.1 1359.1 L543.9 1363.9 L545 1369.5 L545.3 1375.7 L545.3 1332 Z" fill="#bcbcbc" stroke="none" stroke-width="0"/>
<path d="M150.2 1211.7V1234.8M152.1 1211.7V1234.8M159.8 1211.7V1234.8M279.3 1211.7V1234.8M306 1211.7V1234.8M327.7 1211.7V1234.8M339.9 1211.7V1234.8M355.1 1211.7V1234.8M393.1 1211.7V1234.8M395.1 1211.7V1234.8M472 1211.7V1234.8M502.5 1211.7V1234.8" stroke="#6e6e6e" stroke-width="1.2" fill="none"/>
<path d="M152.7 1234.8V1258M155 1234.8V1258M157.2 1234.8V1258M158.6 1234.8V1258M160.3 1234.8V1258M166.8 1234.8V1258M279.3 1234.8V1258M284.9 1234.8V1258M321.3 1234.8V1258M395.7 1234.8V1258M432.6 1234.8V1258M490.1 1234.8V1258" stroke="#e8474a" stroke-width="1.2" fill="none"/>
<path d="M153 1258V1281.3M154.4 1258V1281.3M161.4 1258V1281.3M163.4 1258V1281.3M167.1 1258V1281.3M169.9 1258V1281.3M185.1 1258V1281.3M268.8 1258V1281.3M379.3 1258V1281.3M385.2 1258V1281.3M426.1 1258V1281.3M441 1258V1281.3M445 1258V1281.3M465 1258V1281.3M483.9 1258V1281.3M501.4 1258V1281.3" stroke="#8f95cb" stroke-width="1.2" fill="none"/>
<path d="M150.2 1202.4 L151 1155.3 L152.1 1155.3 L152.7 1114.4 L159.2 1117.2 L160 1051.6 L279.3 1105.4 L280.1 1103.2 L306 1115.3 L306.9 1113 L327.7 1122.8 L328.6 1120.6 L339.9 1126.1 L340.7 1123.8 L355.1 1130.7 L355.9 1128.4 L393.1 1145.6 L394 1143.4 L395.1 1144.3 L395.9 1142 L472 1176.8 L472.9 1174.5 L502.2 1188.2 L503 1185.9 L503 1186.3" fill="none" stroke="#5e5e5e" stroke-width="2.8" stroke-linejoin="round"/>
<path d="M153.6 1175 L155 1174.5 L155.5 1148.2 L161.4 1149.7 L162 1126.5 L163.4 1126.5 L164 1103.7 L166.2 1104.6 L167.1 1083.7 L169.6 1084.8 L170.5 1063.7 L184.6 1070.7 L185.4 1056.6 L268.8 1094 L269.7 1092.4 L379.3 1141.9 L380.2 1140.2 L385.2 1142.8 L386.1 1141.2 L426.1 1159.5 L426.9 1157.8 L441 1164.5 L441.9 1162.8 L445 1164.6 L445.8 1162.9 L465 1171.8 L465.8 1170.1 L483.9 1178.6 L484.7 1176.9 L501.6 1184.9" fill="none" stroke="#7b83c1" stroke-width="2.8" stroke-linejoin="round"/>
<path d="M152.1 1203.8 L152.7 1165.2 L155 1166.6 L155.5 1132.7 L157.8 1133.3 L158.3 1101.2 L160 1101.7 L160.6 1071.6 L166.2 1074.1 L167.1 1047.1 L279.3 1097.1 L280.1 1094.9 L284.9 1097.4 L285.7 1095.1 L321.3 1111.4 L322.1 1109.1 L395.7 1142.3 L396.5 1140.1 L432.6 1156.5 L433.4 1154.3 L490.1 1180 L490.9 1177.7 L545.3 1202.4" fill="none" stroke="#d8232a" stroke-width="2.8" stroke-linejoin="round"/>
<rect x="546" y="1047.9" width="25.5" height="7.4" fill="#5e5e5e"/>
<text x="580.3" y="1060" font-size="21.3">GO Mismatch repair</text>
<text x="580.3" y="1085.4" font-size="21.3">NES = 1.96, p = 1.30e-03</text>
<rect x="546" y="1114.9" width="25.5" height="7.4" fill="#7b83c1"/>
<text x="580.3" y="1127" font-size="21.3">GO Folate metabolism</text>
<text x="580.3" y="1152.4" font-size="21.3">NES = 1.92, p = 1.20e-03</text>
<rect x="546" y="1181.2" width="25.5" height="7.4" fill="#d8232a"/>
<text x="580.3" y="1193.3" font-size="21.3">GO Angiogenesis</text>
<text x="580.3" y="1218.7" font-size="21.3">NES = 1.89, p = 2.30e-03</text>
<text x="849.8" y="1004.2" font-size="50" font-weight="bold">h</text>
<text x="1010.3" y="993" font-size="26.8">DNA <tspan font-size="21.4">mismatch repair</tspan></text>
<g fill="#3f6a94" fill-opacity="0.55">
<circle cx="951.1" cy="1297.1" r="6.2"/>
<circle cx="1014.2" cy="1223.6" r="6.2"/>
<circle cx="1028.8" cy="1261.5" r="6.2"/>
<circle cx="1048.3" cy="1258.9" r="6.2"/>
<circle cx="1076.1" cy="1169" r="6.2"/>
<circle cx="1319.8" cy="1079.3" r="6.2"/>
<circle cx="1278.8" cy="1181.3" r="6.2"/>
<circle cx="1089.4" cy="1315.7" r="6.2"/>
<circle cx="1105.8" cy="1314.2" r="6.2"/>
<circle cx="1156.6" cy="1289.9" r="6.2"/>
<circle cx="1141.5" cy="1283.5" r="6.2"/>
<circle cx="1114" cy="1284.2" r="6.2"/>
<circle cx="1094.7" cy="1274.7" r="6.2"/>
<circle cx="1080.8" cy="1268.7" r="6.2"/>
<circle cx="1179.3" cy="1274.4" r="6.2"/>
<circle cx="1176.2" cy="1026.9" r="6.2"/>
<circle cx="1207.7" cy="1025.7" r="6.2"/>
<circle cx="1229.8" cy="1023.1" r="6.2"/>
<circle cx="1236.1" cy="1030.1" r="6.2"/>
<circle cx="1196.1" cy="1044" r="6.2"/>
<circle cx="1274" cy="1045.2" r="6.2"/>
<circle cx="1263" cy="1046.8" r="6.2"/>
<circle cx="1196.1" cy="1055.6" r="6.2"/>
<circle cx="1212.5" cy="1053.8" r="6.2"/>
<circle cx="1218.8" cy="1053.8" r="6.2"/>
<circle cx="1272.4" cy="1055.6" r="6.2"/>
<circle cx="1227.6" cy="1061" r="6.2"/>
<circle cx="1266.1" cy="1062.6" r="6.2"/>
<circle cx="1206.8" cy="1061.6" r="6.2"/>
<circle cx="1167.4" cy="1202.4" r="6.2"/>
<circle cx="1229.1" cy="1110.9" r="6.2"/>
<circle cx="1164.5" cy="1183.7" r="6.2"/>
<circle cx="1214.7" cy="1198.7" r="6.2"/>
<circle cx="1167.7" cy="1123.1" r="6.2"/>
<circle cx="1221" cy="1164" r="6.2"/>
<circle cx="1244" cy="1169.7" r="6.2"/>
<circle cx="1198.6" cy="1146.6" r="6.2"/>
<circle cx="1272.8" cy="1086.5" r="6.2"/>
<circle cx="1179.6" cy="1120.8" r="6.2"/>
<circle cx="1204.1" cy="1162" r="6.2"/>
<circle cx="1191.8" cy="1162" r="6.2"/>
<circle cx="1209" cy="1184" r="6.2"/>
<circle cx="1231.9" cy="1142.8" r="6.2"/>
<circle cx="1151.7" cy="1230.3" r="6.2"/>
<circle cx="1162" cy="1180.7" r="6.2"/>
<circle cx="1160.5" cy="1190.1" r="6.2"/>
<circle cx="1179.8" cy="1184.7" r="6.2"/>
<circle cx="1224.8" cy="1075.9" r="6.2"/>
<circle cx="1193.4" cy="1195.1" r="6.2"/>
<circle cx="1198.9" cy="1176.9" r="6.2"/>
<circle cx="1204.3" cy="1107.4" r="6.2"/>
<circle cx="1217.1" cy="1106.3" r="6.2"/>
<circle cx="1253.4" cy="1091.8" r="6.2"/>
<circle cx="1220.5" cy="1142.2" r="6.2"/>
<circle cx="1227.9" cy="1107.6" r="6.2"/>
<circle cx="1229.2" cy="1129.2" r="6.2"/>
<circle cx="1236.5" cy="1158.8" r="6.2"/>
<circle cx="1205.4" cy="1117.2" r="6.2"/>
<circle cx="1222.8" cy="1162.4" r="6.2"/>
<circle cx="1247" cy="1102.9" r="6.2"/>
<circle cx="1216.8" cy="1169" r="6.2"/>
<circle cx="1209.3" cy="1160.9" r="6.2"/>
<circle cx="1206.5" cy="1124.9" r="6.2"/>
<circle cx="1173.2" cy="1161.1" r="6.2"/>
<circle cx="1217.8" cy="1215.7" r="6.2"/>
<circle cx="1228.6" cy="1185.4" r="6.2"/>
<circle cx="1223" cy="1173.1" r="6.2"/>
<circle cx="1206.5" cy="1189.7" r="6.2"/>
<circle cx="1250.7" cy="1102.4" r="6.2"/>
<circle cx="1182.2" cy="1265.5" r="6.2"/>
<circle cx="1208.2" cy="1197.8" r="6.2"/>
<circle cx="1225.7" cy="1084.1" r="6.2"/>
<circle cx="1269" cy="1187.3" r="6.2"/>
<circle cx="1206.3" cy="1189" r="6.2"/>
<circle cx="1205" cy="1112.6" r="6.2"/>
<circle cx="1198.3" cy="1177.5" r="6.2"/>
<circle cx="1232.4" cy="1166.1" r="6.2"/>
<circle cx="1203.1" cy="1220.1" r="6.2"/>
<circle cx="1180.3" cy="1211.7" r="6.2"/>
<circle cx="1232.3" cy="1118.7" r="6.2"/>
<circle cx="1151.7" cy="1154.2" r="6.2"/>
<circle cx="1208" cy="1177" r="6.2"/>
<circle cx="1244.4" cy="1075.3" r="6.2"/>
<circle cx="1201.5" cy="1188" r="6.2"/>
<circle cx="1197" cy="1048.6" r="6.2"/>
<circle cx="1223.8" cy="1248.8" r="6.2"/>
<circle cx="1229.3" cy="1091.5" r="6.2"/>
<circle cx="1190" cy="1177" r="6.2"/>
<circle cx="1270.6" cy="1131.2" r="6.2"/>
<circle cx="1204.6" cy="1228.5" r="6.2"/>
<circle cx="1199.2" cy="1247.2" r="6.2"/>
<circle cx="1182.4" cy="1150" r="6.2"/>
<circle cx="1221.5" cy="1208.7" r="6.2"/>
<circle cx="1219.6" cy="1157" r="6.2"/>
<circle cx="1150.8" cy="1164" r="6.2"/>
<circle cx="1184.5" cy="1145.6" r="6.2"/>
<circle cx="1217.7" cy="1128.4" r="6.2"/>
<circle cx="1223.3" cy="1143.7" r="6.2"/>
<circle cx="1192.2" cy="1170.3" r="6.2"/>
<circle cx="1213.3" cy="1188.4" r="6.2"/>
<circle cx="1188.2" cy="1156.9" r="6.2"/>
<circle cx="1163.5" cy="1263.5" r="6.2"/>
<circle cx="1241.8" cy="1116.6" r="6.2"/>
<circle cx="1188.1" cy="1109.4" r="6.2"/>
<circle cx="1206.1" cy="1163.3" r="6.2"/>
<circle cx="1262" cy="1120.5" r="6.2"/>
<circle cx="1179.8" cy="1058.8" r="6.2"/>
<circle cx="1240.6" cy="1134.9" r="6.2"/>
<circle cx="1156.7" cy="1201.6" r="6.2"/>
<circle cx="1232.5" cy="1159.5" r="6.2"/>
<circle cx="1196.6" cy="1059.9" r="6.2"/>
<circle cx="1197.9" cy="1086.5" r="6.2"/>
<circle cx="1218" cy="1042.8" r="6.2"/>
<circle cx="1176.2" cy="1235.2" r="6.2"/>
<circle cx="1247.1" cy="1064.8" r="6.2"/>
<circle cx="1158.8" cy="1233" r="6.2"/>
<circle cx="1225.1" cy="1091.6" r="6.2"/>
<circle cx="1182.1" cy="1139.9" r="6.2"/>
<circle cx="1168.4" cy="1151.5" r="6.2"/>
<circle cx="1236.2" cy="1162.1" r="6.2"/>
<circle cx="1258.6" cy="1107.5" r="6.2"/>
<circle cx="1197.7" cy="1113.8" r="6.2"/>
<circle cx="1198" cy="1097.9" r="6.2"/>
<circle cx="1152.1" cy="1229.8" r="6.2"/>
<circle cx="1241.4" cy="1164.9" r="6.2"/>
<circle cx="1238.4" cy="1139.6" r="6.2"/>
<circle cx="1181.5" cy="1177.3" r="6.2"/>
<circle cx="1191" cy="1113" r="6.2"/>
<circle cx="1154.4" cy="1124.7" r="6.2"/>
<circle cx="1201.3" cy="1164.5" r="6.2"/>
<circle cx="1188.2" cy="1235.5" r="6.2"/>
<circle cx="1206.4" cy="1180.9" r="6.2"/>
<circle cx="1235.3" cy="1091.4" r="6.2"/>
<circle cx="1146.7" cy="1236.7" r="6.2"/>
<circle cx="1182.3" cy="1234.7" r="6.2"/>
<circle cx="1210.8" cy="1197.4" r="6.2"/>
<circle cx="1222.6" cy="1041.8" r="6.2"/>
<circle cx="1221.4" cy="1109.4" r="6.2"/>
<circle cx="1180.4" cy="1153.5" r="6.2"/>
<circle cx="1222.8" cy="1182.1" r="6.2"/>
<circle cx="1229.5" cy="1056.2" r="6.2"/>
<circle cx="1185" cy="1057.9" r="6.2"/>
<circle cx="1198.6" cy="1188" r="6.2"/>
<circle cx="1180.2" cy="1185.9" r="6.2"/>
<circle cx="1207.9" cy="1199.9" r="6.2"/>
<circle cx="1178.6" cy="1136.3" r="6.2"/>
<circle cx="1180.2" cy="1257.2" r="6.2"/>
<circle cx="1231.7" cy="1127.2" r="6.2"/>
<circle cx="1207.7" cy="1157.7" r="6.2"/>
<circle cx="1207.1" cy="1142.9" r="6.2"/>
<circle cx="1192.1" cy="1105.2" r="6.2"/>
<circle cx="1183.6" cy="1249.7" r="6.2"/>
<circle cx="1216.3" cy="1148.4" r="6.2"/>
<circle cx="1195.5" cy="1165" r="6.2"/>
<circle cx="1211.2" cy="1118.8" r="6.2"/>
<circle cx="1206.9" cy="1164.3" r="6.2"/>
<circle cx="1180.6" cy="1136.6" r="6.2"/>
<circle cx="1173.7" cy="1129.1" r="6.2"/>
<circle cx="1194" cy="1134.3" r="6.2"/>
<circle cx="1184.2" cy="1175.7" r="6.2"/>
<circle cx="1232.8" cy="1135.8" r="6.2"/>
<circle cx="1197.5" cy="1131.4" r="6.2"/>
<circle cx="1197.8" cy="1203.3" r="6.2"/>
<circle cx="1190.5" cy="1111.8" r="6.2"/>
<circle cx="1166.3" cy="1133" r="6.2"/>
<circle cx="1162.8" cy="1240.2" r="6.2"/>
<circle cx="1211.3" cy="1138.2" r="6.2"/>
<circle cx="1242" cy="1093.7" r="6.2"/>
<circle cx="1222.3" cy="1178.5" r="6.2"/>
<circle cx="1158.5" cy="1117.9" r="6.2"/>
<circle cx="1175.7" cy="1220.8" r="6.2"/>
<circle cx="1237.4" cy="1070.4" r="6.2"/>
<circle cx="1230.6" cy="1115.8" r="6.2"/>
<circle cx="1190.5" cy="1139.9" r="6.2"/>
<circle cx="1192.4" cy="1078.4" r="6.2"/>
<circle cx="1173.6" cy="1121" r="6.2"/>
<circle cx="1149.2" cy="1272.9" r="6.2"/>
<circle cx="1191.6" cy="1170.9" r="6.2"/>
<circle cx="1150.7" cy="1183" r="6.2"/>
<circle cx="1157.6" cy="1218.8" r="6.2"/>
<circle cx="1109.1" cy="1214.2" r="6.2"/>
<circle cx="1135.3" cy="1215.8" r="6.2"/>
<circle cx="1142.4" cy="1200.3" r="6.2"/>
<circle cx="1143.5" cy="1191.9" r="6.2"/>
<circle cx="1122.9" cy="1270.6" r="6.2"/>
<circle cx="1146.7" cy="1222.3" r="6.2"/>
<circle cx="1109.7" cy="1225.4" r="6.2"/>
<circle cx="1155.4" cy="1162.5" r="6.2"/>
<circle cx="1160.7" cy="1187.8" r="6.2"/>
<circle cx="1147.5" cy="1203.7" r="6.2"/>
<circle cx="1144" cy="1248" r="6.2"/>
<circle cx="1132.2" cy="1266.5" r="6.2"/>
<circle cx="1125.1" cy="1192" r="6.2"/>
<circle cx="1153.3" cy="1170.8" r="6.2"/>
<circle cx="1132.9" cy="1245.4" r="6.2"/>
<circle cx="1162.8" cy="1142.7" r="6.2"/>
<circle cx="1149.5" cy="1266.2" r="6.2"/>
<circle cx="1162.5" cy="1191.4" r="6.2"/>
<circle cx="1128.5" cy="1210" r="6.2"/>
<circle cx="1118" cy="1217.3" r="6.2"/>
<circle cx="1136.3" cy="1210.1" r="6.2"/>
<circle cx="1162.3" cy="1191.8" r="6.2"/>
<circle cx="1112.3" cy="1262.3" r="6.2"/>
<circle cx="1119.6" cy="1210.6" r="6.2"/>
<circle cx="1137.3" cy="1203.2" r="6.2"/>
<circle cx="1120.9" cy="1216.1" r="6.2"/>
<circle cx="1181.2" cy="1168.5" r="6.2"/>
<circle cx="1137.3" cy="1249.6" r="6.2"/>
<circle cx="1154" cy="1228.2" r="6.2"/>
</g>
<line x1="951.1" y1="1350.5" x2="1315" y2="1063.2" stroke="#000" stroke-width="1.2"/>
<rect x="932.5" y="1005.8" width="406.2" height="397.7" fill="none" stroke="#222" stroke-width="1.3"/>
<line x1="980.5" y1="1403.5" x2="980.5" y2="1409.5" stroke="#222" stroke-width="1.2"/>
<text x="980.5" y="1436.5" font-size="20" text-anchor="middle">−2</text>
<line x1="1102" y1="1403.5" x2="1102" y2="1409.5" stroke="#222" stroke-width="1.2"/>
<text x="1102" y="1436.5" font-size="20" text-anchor="middle">0</text>
<line x1="1224.2" y1="1403.5" x2="1224.2" y2="1409.5" stroke="#222" stroke-width="1.2"/>
<text x="1224.2" y="1436.5" font-size="20" text-anchor="middle">2</text>
<line x1="926.5" y1="1060.4" x2="932.5" y2="1060.4" stroke="#222" stroke-width="1.2"/>
<text x="917" y="1068.4" font-size="20.8" text-anchor="end">0.1</text>
<line x1="926.5" y1="1181.9" x2="932.5" y2="1181.9" stroke="#222" stroke-width="1.2"/>
<text x="917" y="1189.9" font-size="20.8" text-anchor="end">0.0</text>
<line x1="926.5" y1="1316" x2="932.5" y2="1316" stroke="#222" stroke-width="1.2"/>
<text x="917" y="1324" font-size="20.8" text-anchor="end">−0.1</text>
<text x="939.4" y="1032.6" font-size="21.3">Spearman’s r = 0.63, p &lt; 2.2 e-16</text>
<text x="1105" y="1463" font-size="21.3" text-anchor="middle">PRKDC protein expression (Log10(FOT))</text>
<text font-size="21.3" text-anchor="middle" transform="translate(867,1185) rotate(-90)">GSVA scores</text>
<text x="1379.5" y="1002.5" font-size="50" font-weight="bold">i</text>
<rect x="1437" y="987.8" width="358" height="411.3" fill="#fff"/>
<line x1="1495.7" y1="987.8" x2="1495.7" y2="1399.1" stroke="#f2f2f2" stroke-width="1"/>
<line x1="1581" y1="987.8" x2="1581" y2="1399.1" stroke="#f2f2f2" stroke-width="1"/>
<line x1="1666.4" y1="987.8" x2="1666.4" y2="1399.1" stroke="#f2f2f2" stroke-width="1"/>
<line x1="1751.7" y1="987.8" x2="1751.7" y2="1399.1" stroke="#f2f2f2" stroke-width="1"/>
<line x1="1437" y1="1311.5" x2="1795" y2="1311.5" stroke="#f2f2f2" stroke-width="1"/>
<line x1="1437" y1="1172.4" x2="1795" y2="1172.4" stroke="#f2f2f2" stroke-width="1"/>
<line x1="1437" y1="1033.3" x2="1795" y2="1033.3" stroke="#f2f2f2" stroke-width="1"/>
<line x1="1453" y1="987.8" x2="1453" y2="1399.1" stroke="#e6e6e6" stroke-width="1.4"/>
<line x1="1538.3" y1="987.8" x2="1538.3" y2="1399.1" stroke="#e6e6e6" stroke-width="1.4"/>
<line x1="1623.7" y1="987.8" x2="1623.7" y2="1399.1" stroke="#e6e6e6" stroke-width="1.4"/>
<line x1="1709" y1="987.8" x2="1709" y2="1399.1" stroke="#e6e6e6" stroke-width="1.4"/>
<line x1="1794.4" y1="987.8" x2="1794.4" y2="1399.1" stroke="#e6e6e6" stroke-width="1.4"/>
<line x1="1437" y1="1381.1" x2="1795" y2="1381.1" stroke="#e6e6e6" stroke-width="1.4"/>
<line x1="1437" y1="1242" x2="1795" y2="1242" stroke="#e6e6e6" stroke-width="1.4"/>
<line x1="1437" y1="1102.9" x2="1795" y2="1102.9" stroke="#e6e6e6" stroke-width="1.4"/>
<line x1="1549.2" y1="987.8" x2="1549.2" y2="1399.1" stroke="#e4575b" stroke-width="1.3" stroke-dasharray="22 11"/>
<line x1="1438.5" y1="1202.3" x2="1792" y2="1202.3" stroke="#e4575b" stroke-width="1.3" stroke-dasharray="14.6 15.6"/>
<g fill="#bdbdbd">
<circle cx="1453" cy="1381.1" r="7.8"/>
<circle cx="1530.9" cy="1368.7" r="7.8"/>
<circle cx="1527.6" cy="1375.2" r="5.9"/>
<circle cx="1550.5" cy="1366.4" r="7.2"/>
<circle cx="1558" cy="1364.4" r="7.8"/>
<circle cx="1560.3" cy="1345.8" r="9.2"/>
<circle cx="1574.3" cy="1348.1" r="8.2"/>
<circle cx="1575.3" cy="1321.3" r="7.2"/>
<circle cx="1579.2" cy="1312.4" r="11.1"/>
<circle cx="1585.8" cy="1301.7" r="11.1"/>
<circle cx="1594" cy="1286.9" r="11.8"/>
<circle cx="1602.8" cy="1301.7" r="8.8"/>
<circle cx="1613.6" cy="1287.6" r="10.5"/>
<circle cx="1609.7" cy="1258.2" r="11.4"/>
<circle cx="1628.3" cy="1258.2" r="2.6"/>
<circle cx="1641.4" cy="1268.6" r="8.2"/>
<circle cx="1628.9" cy="1228.1" r="10.8"/>
<circle cx="1638.1" cy="1213.4" r="11.1"/>
<circle cx="1639.7" cy="1226.5" r="8.5"/>
<circle cx="1656.7" cy="1234.6" r="7.5"/>
<circle cx="1668.2" cy="1322.3" r="9.2"/>
<circle cx="1705.1" cy="1265" r="6.9"/>
<circle cx="1768.9" cy="1230.7" r="5.9"/>
</g>
<g fill="#e8171b">
<circle cx="1773.1" cy="1030.6" r="10.8"/>
<circle cx="1721.5" cy="1061.7" r="9.5"/>
<circle cx="1778.7" cy="1082" r="8.8"/>
<circle cx="1692" cy="1119.2" r="10.8"/>
<circle cx="1778.7" cy="1135.6" r="8.2"/>
<circle cx="1669.8" cy="1153.9" r="11.1"/>
<circle cx="1704.5" cy="1171.5" r="9.8"/>
<circle cx="1658.7" cy="1171.9" r="11.4"/>
<circle cx="1652.8" cy="1182.3" r="10.5"/>
<circle cx="1648.2" cy="1202.3" r="9.5"/>
</g>
<line x1="1762.3" y1="1019.8" x2="1769.5" y2="1021.1" stroke="#222" stroke-width="1.15"/>
<line x1="1705.8" y1="1060.7" x2="1711.7" y2="1061.4" stroke="#222" stroke-width="1.15"/>
<line x1="1772.1" y1="1072.1" x2="1776.4" y2="1074.4" stroke="#222" stroke-width="1.15"/>
<line x1="1699.6" y1="1103.9" x2="1696" y2="1109.4" stroke="#222" stroke-width="1.15"/>
<line x1="1773.8" y1="1121.2" x2="1778" y2="1127.4" stroke="#222" stroke-width="1.15"/>
<line x1="1661.6" y1="1138.2" x2="1664.9" y2="1145.4" stroke="#222" stroke-width="1.15"/>
<line x1="1717.2" y1="1158.5" x2="1711" y2="1165" stroke="#222" stroke-width="1.15"/>
<line x1="1644.6" y1="1158.8" x2="1651.8" y2="1163.4" stroke="#222" stroke-width="1.15"/>
<line x1="1634.2" y1="1187.9" x2="1642" y2="1181.3" stroke="#222" stroke-width="1.15"/>
<line x1="1657.7" y1="1200.3" x2="1669.2" y2="1196.1" stroke="#222" stroke-width="1.15"/>
<rect x="1437" y="987.8" width="358" height="411.3" fill="none" stroke="#222" stroke-width="1.3"/>
<text x="1721.5" y="1016.2" font-size="24.2" fill="#c4161c">ATM</text>
<text x="1636.5" y="1064" font-size="24.2" fill="#848484">PMS2</text>
<text x="1735.5" y="1069.5" font-size="24.2" fill="#848484">TELO2</text>
<text x="1632.5" y="1099.6" font-size="24.2" fill="#848484">WDR48</text>
<text x="1723.8" y="1118.6" font-size="24.2" fill="#848484">FANCL</text>
<text x="1622.4" y="1130.3" font-size="24.2" fill="#848484">NBN</text>
<text x="1709.4" y="1155.5" font-size="24.2" fill="#c4161c">ATR</text>
<text x="1582.5" y="1160.1" font-size="24.2" fill="#848484">POLB</text>
<text x="1576.6" y="1196.1" font-size="24.2" fill="#848484">PCNA</text>
<text x="1674.7" y="1198.7" font-size="24.2" fill="#848484">XRCC4</text>
<line x1="1453" y1="1399.1" x2="1453" y2="1404.1" stroke="#333" stroke-width="1"/>
<text x="1453" y="1427.1" font-size="20" text-anchor="middle">0</text>
<line x1="1538.3" y1="1399.1" x2="1538.3" y2="1404.1" stroke="#333" stroke-width="1"/>
<text x="1538.3" y="1427.1" font-size="20" text-anchor="middle">1</text>
<line x1="1623.7" y1="1399.1" x2="1623.7" y2="1404.1" stroke="#333" stroke-width="1"/>
<text x="1623.7" y="1427.1" font-size="20" text-anchor="middle">2</text>
<line x1="1709" y1="1399.1" x2="1709" y2="1404.1" stroke="#333" stroke-width="1"/>
<text x="1709" y="1427.1" font-size="20" text-anchor="middle">3</text>
<line x1="1794.4" y1="1399.1" x2="1794.4" y2="1404.1" stroke="#333" stroke-width="1"/>
<text x="1794.4" y="1427.1" font-size="20" text-anchor="middle">4</text>
<line x1="1432" y1="1381.1" x2="1437" y2="1381.1" stroke="#333" stroke-width="1"/>
<text x="1429" y="1388.1" font-size="20" text-anchor="end">0</text>
<line x1="1432" y1="1242" x2="1437" y2="1242" stroke="#333" stroke-width="1"/>
<text x="1429" y="1249" font-size="20" text-anchor="end">1</text>
<line x1="1432" y1="1102.9" x2="1437" y2="1102.9" stroke="#333" stroke-width="1"/>
<text x="1429" y="1109.9" font-size="20" text-anchor="end">2</text>
<text x="1626" y="1449" font-size="21.3" text-anchor="middle">Hazard Ratio</text>
<text font-size="22.7" text-anchor="middle" transform="translate(1399.5,1198.7) rotate(-90)">-Log10(P-value)</text>
<text font-size="21.3" text-anchor="middle" transform="translate(1832,1192) rotate(-90)">Spearman‘s correlation with <tspan font-style="italic">PRKDC</tspan></text>
<circle cx="1857.8" cy="1122.5" r="13" fill="#000"/>
<text x="1880.7" y="1130" font-size="20.7">1.00</text>
<circle cx="1857.8" cy="1169.6" r="11" fill="#000"/>
<text x="1880.7" y="1177.1" font-size="20.7">0.75</text>
<circle cx="1857.8" cy="1216" r="9.8" fill="#000"/>
<text x="1880.7" y="1223.5" font-size="20.7">0.50</text>
<circle cx="1857.8" cy="1263" r="7.5" fill="#000"/>
<text x="1880.7" y="1270.5" font-size="20.7">0.25</text>
<text x="7.7" y="1549" font-size="50" font-weight="bold">j</text>
<text x="512" y="1515" font-size="28.7" text-anchor="middle">TCGA cohort</text>
<rect x="84.4" y="1561" width="246" height="245.6" fill="#fff" stroke="#222" stroke-width="1.3"/>
<line x1="79.4" y1="1595.5" x2="84.4" y2="1595.5" stroke="#222" stroke-width="1.1"/>
<text x="78.4" y="1602.5" font-size="20" text-anchor="end">35</text>
<line x1="79.4" y1="1648.3" x2="84.4" y2="1648.3" stroke="#222" stroke-width="1.1"/>
<text x="78.4" y="1655.3" font-size="20" text-anchor="end">30</text>
<line x1="79.4" y1="1700.5" x2="84.4" y2="1700.5" stroke="#222" stroke-width="1.1"/>
<text x="78.4" y="1707.5" font-size="20" text-anchor="end">25</text>
<line x1="79.4" y1="1753" x2="84.4" y2="1753" stroke="#222" stroke-width="1.1"/>
<text x="78.4" y="1760" font-size="20" text-anchor="end">20</text>
<line x1="79.4" y1="1805" x2="84.4" y2="1805" stroke="#222" stroke-width="1.1"/>
<text x="78.4" y="1812" font-size="20" text-anchor="end">15</text>
<line x1="152.4" y1="1806.6" x2="152.4" y2="1812.6" stroke="#222" stroke-width="1.1"/>
<line x1="266.2" y1="1806.6" x2="266.2" y2="1812.6" stroke="#222" stroke-width="1.1"/>
<text x="86.5" y="1551" font-size="24.5" fill="#1f2f7f">PRKDC</text>
<line x1="152.4" y1="1584.4" x2="152.4" y2="1589.7" stroke="#b0607e" stroke-width="1.3"/>
<line x1="152.4" y1="1602" x2="152.4" y2="1602" stroke="#b0607e" stroke-width="1.3"/>
<rect x="124.3" y="1589.7" width="57.1" height="12.3" fill="none" stroke="#b0607e" stroke-width="1.4"/>
<line x1="124.3" y1="1596" x2="181.4" y2="1596" stroke="#b0607e" stroke-width="2.6"/>
<g fill="#b0607e">
<circle cx="147.4" cy="1568" r="3.3"/>
<circle cx="160" cy="1565.3" r="3.3"/>
<circle cx="131.9" cy="1583.5" r="3.3"/>
<circle cx="172.9" cy="1583.5" r="3.3"/>
<circle cx="157.4" cy="1588.2" r="3.3"/>
<circle cx="145.1" cy="1590" r="3.3"/>
<circle cx="137.8" cy="1591.4" r="3.3"/>
<circle cx="151" cy="1592.6" r="3.3"/>
<circle cx="129" cy="1594.4" r="3.3"/>
<circle cx="175.9" cy="1594.6" r="3.3"/>
<circle cx="153.9" cy="1596.1" r="3.3"/>
<circle cx="140.7" cy="1597.9" r="3.3"/>
<circle cx="164.2" cy="1597.9" r="3.3"/>
<circle cx="133.4" cy="1599" r="3.3"/>
<circle cx="170" cy="1599" r="3.3"/>
<circle cx="177.3" cy="1598.5" r="3.3"/>
<circle cx="146.6" cy="1600.8" r="3.3"/>
<circle cx="152.4" cy="1601.4" r="3.3"/>
<circle cx="142.2" cy="1602.6" r="3.3"/>
<circle cx="149.5" cy="1604.3" r="3.3"/>
<circle cx="171.5" cy="1636.9" r="3.3"/>
</g>
<g fill="#3f5d80">
<rect x="243" y="1756" width="47" height="27.5" rx="6" ry="6"/>
<circle cx="272.2" cy="1776" r="3.4"/>
<circle cx="280.1" cy="1783" r="3.4"/>
<circle cx="277.6" cy="1782.3" r="3.4"/>
<circle cx="244.7" cy="1766.3" r="3.4"/>
<circle cx="287" cy="1772.7" r="3.4"/>
<circle cx="285" cy="1760" r="3.4"/>
<circle cx="254.8" cy="1769" r="3.4"/>
<circle cx="269.9" cy="1756.5" r="3.4"/>
<circle cx="256.3" cy="1782.1" r="3.4"/>
<circle cx="278.8" cy="1755.6" r="3.4"/>
<circle cx="249.8" cy="1771.6" r="3.4"/>
<circle cx="249.3" cy="1750.1" r="3.4"/>
<circle cx="253.1" cy="1757.5" r="3.4"/>
<circle cx="288.8" cy="1780.5" r="3.4"/>
<circle cx="256.8" cy="1783.7" r="3.4"/>
<circle cx="268.3" cy="1773.7" r="3.4"/>
<circle cx="252.9" cy="1782.9" r="3.4"/>
<circle cx="275.3" cy="1783.8" r="3.4"/>
<circle cx="284.7" cy="1760.5" r="3.4"/>
<circle cx="260.1" cy="1761.8" r="3.4"/>
<circle cx="246.4" cy="1760.5" r="3.4"/>
<circle cx="271.3" cy="1750.1" r="3.4"/>
<circle cx="259" cy="1760.8" r="3.4"/>
<circle cx="281.2" cy="1766.8" r="3.4"/>
<circle cx="258" cy="1766.8" r="3.4"/>
<circle cx="276" cy="1752" r="3.4"/>
<circle cx="244.5" cy="1776.2" r="3.4"/>
<circle cx="282.4" cy="1750.6" r="3.4"/>
<circle cx="260.3" cy="1770.2" r="3.4"/>
<circle cx="243.8" cy="1757.6" r="3.4"/>
<circle cx="287.5" cy="1756.9" r="3.4"/>
<circle cx="278.3" cy="1782.5" r="3.4"/>
<circle cx="286.9" cy="1762.1" r="3.4"/>
<circle cx="259.8" cy="1768.4" r="3.4"/>
<circle cx="279.2" cy="1753.8" r="3.4"/>
<circle cx="280.2" cy="1780.1" r="3.4"/>
<circle cx="245.1" cy="1783.1" r="3.4"/>
<circle cx="247.6" cy="1761.9" r="3.4"/>
<circle cx="271.6" cy="1782.1" r="3.4"/>
<circle cx="259.1" cy="1782.3" r="3.4"/>
<circle cx="268.6" cy="1760.9" r="3.4"/>
<circle cx="258" cy="1756.2" r="3.4"/>
<circle cx="247" cy="1755.2" r="3.4"/>
<circle cx="289.4" cy="1761.7" r="3.4"/>
<circle cx="289" cy="1768.7" r="3.4"/>
<circle cx="262.2" cy="1758.3" r="3.4"/>
<circle cx="270.8" cy="1778.9" r="3.4"/>
<circle cx="264.5" cy="1764.8" r="3.4"/>
<circle cx="246" cy="1782.1" r="3.4"/>
<circle cx="244.9" cy="1767.3" r="3.4"/>
<circle cx="282.1" cy="1754.6" r="3.4"/>
<circle cx="287.3" cy="1772.1" r="3.4"/>
<circle cx="279.8" cy="1759.7" r="3.4"/>
<circle cx="250.3" cy="1779.6" r="3.4"/>
<circle cx="257" cy="1765.9" r="3.4"/>
<circle cx="289.6" cy="1779.8" r="3.4"/>
<circle cx="288.5" cy="1765.9" r="3.4"/>
<circle cx="266" cy="1775.5" r="3.4"/>
<circle cx="265.5" cy="1760.2" r="3.4"/>
<circle cx="262.1" cy="1761.1" r="3.4"/>
<circle cx="289.1" cy="1783.6" r="3.4"/>
<circle cx="272.4" cy="1767.5" r="3.4"/>
<circle cx="259" cy="1759.1" r="3.4"/>
<circle cx="279.5" cy="1780.4" r="3.4"/>
<circle cx="260.1" cy="1777.5" r="3.4"/>
<circle cx="279.2" cy="1774.3" r="3.4"/>
<circle cx="274.1" cy="1776.6" r="3.4"/>
<circle cx="260.2" cy="1774.7" r="3.4"/>
<circle cx="256.4" cy="1767" r="3.4"/>
<circle cx="279" cy="1774.2" r="3.4"/>
<circle cx="257" cy="1783.1" r="3.4"/>
<circle cx="273.4" cy="1770.3" r="3.4"/>
<circle cx="243.9" cy="1769.1" r="3.4"/>
<circle cx="255" cy="1773.5" r="3.4"/>
<circle cx="264.8" cy="1778.6" r="3.4"/>
<circle cx="273.3" cy="1777.9" r="3.4"/>
<circle cx="259.5" cy="1772.5" r="3.4"/>
<circle cx="277.5" cy="1779" r="3.4"/>
<circle cx="259.6" cy="1779.5" r="3.4"/>
<circle cx="283.6" cy="1774.1" r="3.4"/>
<circle cx="288.5" cy="1783.5" r="3.4"/>
<circle cx="267.3" cy="1768.5" r="3.4"/>
<circle cx="251.1" cy="1779.3" r="3.4"/>
<circle cx="286.7" cy="1766.7" r="3.4"/>
<circle cx="275.3" cy="1775.2" r="3.4"/>
<circle cx="277.1" cy="1756" r="3.4"/>
<circle cx="279.5" cy="1770.3" r="3.4"/>
<circle cx="274.1" cy="1764.7" r="3.4"/>
<circle cx="272.2" cy="1777.1" r="3.4"/>
<circle cx="272.8" cy="1775.2" r="3.4"/>
<circle cx="244.7" cy="1761.6" r="3.4"/>
<circle cx="273.4" cy="1757.7" r="3.4"/>
<circle cx="275.1" cy="1772.1" r="3.4"/>
<circle cx="245.3" cy="1766.5" r="3.4"/>
<circle cx="253.9" cy="1757.9" r="3.4"/>
<circle cx="258.1" cy="1756.4" r="3.4"/>
<circle cx="252.3" cy="1757.2" r="3.4"/>
<circle cx="261" cy="1771.4" r="3.4"/>
<circle cx="270.7" cy="1758.3" r="3.4"/>
<circle cx="285.1" cy="1756" r="3.4"/>
<circle cx="256.3" cy="1764.4" r="3.4"/>
<circle cx="248.7" cy="1779.1" r="3.4"/>
<circle cx="260.7" cy="1751.3" r="3.4"/>
<circle cx="247.8" cy="1769.1" r="3.4"/>
<circle cx="259.1" cy="1770.3" r="3.4"/>
<circle cx="287.7" cy="1778.6" r="3.4"/>
<circle cx="262.8" cy="1778.5" r="3.4"/>
<circle cx="273.1" cy="1762.9" r="3.4"/>
<circle cx="250" cy="1770.9" r="3.4"/>
<circle cx="269.5" cy="1783.5" r="3.4"/>
<circle cx="288.1" cy="1771.3" r="3.4"/>
<circle cx="259.6" cy="1781.3" r="3.4"/>
<circle cx="243.4" cy="1759.8" r="3.4"/>
<circle cx="271.8" cy="1754.9" r="3.4"/>
<circle cx="284.6" cy="1763.2" r="3.4"/>
<circle cx="263.3" cy="1757.9" r="3.4"/>
<circle cx="256.9" cy="1784" r="3.4"/>
<circle cx="260.9" cy="1783.6" r="3.4"/>
<circle cx="285.6" cy="1770.9" r="3.4"/>
<circle cx="255.4" cy="1784.3" r="3.4"/>
<circle cx="266.3" cy="1764.5" r="3.4"/>
<circle cx="258.1" cy="1784.4" r="3.4"/>
<circle cx="266.1" cy="1760" r="3.4"/>
<circle cx="265.4" cy="1754.3" r="3.4"/>
<circle cx="263.9" cy="1760.3" r="3.4"/>
<circle cx="279.5" cy="1778.9" r="3.4"/>
<circle cx="244" cy="1768.6" r="3.4"/>
<circle cx="256" cy="1782.7" r="3.4"/>
<circle cx="279.5" cy="1758.6" r="3.4"/>
<circle cx="255.8" cy="1755.4" r="3.4"/>
<circle cx="256.9" cy="1771.3" r="3.4"/>
<circle cx="265.3" cy="1772.6" r="3.4"/>
<circle cx="271.3" cy="1776" r="3.4"/>
<circle cx="248.9" cy="1776.6" r="3.4"/>
<circle cx="257.3" cy="1768.7" r="3.4"/>
<circle cx="258.9" cy="1760.4" r="3.4"/>
<circle cx="267.9" cy="1766.3" r="3.4"/>
<circle cx="260.1" cy="1776.1" r="3.4"/>
<circle cx="270.7" cy="1757.3" r="3.4"/>
<circle cx="264.4" cy="1782.1" r="3.4"/>
<circle cx="284.4" cy="1769.1" r="3.4"/>
<circle cx="244.1" cy="1777.2" r="3.4"/>
<circle cx="263.2" cy="1770.1" r="3.4"/>
<circle cx="276.1" cy="1772.1" r="3.4"/>
<circle cx="265.7" cy="1781.9" r="3.4"/>
<circle cx="261.2" cy="1763.7" r="3.4"/>
<circle cx="282.8" cy="1756.9" r="3.4"/>
<circle cx="257.1" cy="1779.1" r="3.4"/>
<circle cx="246.5" cy="1779.3" r="3.4"/>
<circle cx="275.5" cy="1765.1" r="3.4"/>
<circle cx="256.6" cy="1777.3" r="3.4"/>
<circle cx="285.5" cy="1761" r="3.4"/>
<circle cx="268.8" cy="1767.4" r="3.4"/>
<circle cx="258.7" cy="1761.4" r="3.4"/>
<circle cx="280.9" cy="1758.4" r="3.4"/>
<circle cx="281.3" cy="1777.7" r="3.4"/>
<circle cx="274.1" cy="1750.9" r="3.4"/>
<circle cx="288.6" cy="1784.9" r="3.4"/>
<circle cx="275.8" cy="1751.7" r="3.4"/>
<circle cx="253.5" cy="1772.6" r="3.4"/>
<circle cx="287.4" cy="1774.9" r="3.4"/>
<circle cx="249.6" cy="1760.2" r="3.4"/>
<circle cx="285.8" cy="1755.2" r="3.4"/>
<circle cx="262.5" cy="1755.6" r="3.4"/>
<circle cx="245.4" cy="1759.8" r="3.4"/>
<circle cx="246.7" cy="1758" r="3.4"/>
<circle cx="277.7" cy="1780.7" r="3.4"/>
<circle cx="249.6" cy="1765.1" r="3.4"/>
<circle cx="257.9" cy="1771" r="3.4"/>
<circle cx="266" cy="1782.8" r="3.4"/>
<circle cx="260.7" cy="1752" r="3.4"/>
<circle cx="250.4" cy="1772.1" r="3.4"/>
<circle cx="266.8" cy="1781.9" r="3.4"/>
<circle cx="269" cy="1771.7" r="3.4"/>
<circle cx="255.6" cy="1769.3" r="3.4"/>
<circle cx="255.1" cy="1776.3" r="3.4"/>
<circle cx="267.3" cy="1760.7" r="3.4"/>
<circle cx="260.6" cy="1775.8" r="3.4"/>
<circle cx="251.7" cy="1775" r="3.4"/>
<circle cx="273.7" cy="1753" r="3.4"/>
<circle cx="247.6" cy="1760.4" r="3.4"/>
<circle cx="254.4" cy="1780.7" r="3.4"/>
<circle cx="265.6" cy="1761.3" r="3.4"/>
<circle cx="280.2" cy="1751" r="3.4"/>
<circle cx="245.9" cy="1755.3" r="3.4"/>
<circle cx="274.9" cy="1757.8" r="3.4"/>
<circle cx="248.8" cy="1784" r="3.4"/>
<circle cx="274.1" cy="1778.7" r="3.4"/>
<circle cx="249.9" cy="1771.9" r="3.4"/>
<circle cx="259.8" cy="1758.2" r="3.4"/>
<circle cx="258.8" cy="1771.5" r="3.4"/>
<circle cx="259.5" cy="1763.5" r="3.4"/>
<circle cx="249.7" cy="1779.1" r="3.4"/>
<circle cx="273.3" cy="1778.2" r="3.4"/>
<circle cx="263.4" cy="1779.8" r="3.4"/>
<circle cx="267.3" cy="1770.7" r="3.4"/>
<circle cx="269.9" cy="1775.9" r="3.4"/>
<circle cx="261.7" cy="1759.4" r="3.4"/>
<circle cx="252.8" cy="1751.4" r="3.4"/>
<circle cx="265.6" cy="1776.6" r="3.4"/>
<circle cx="243.4" cy="1766.5" r="3.4"/>
<circle cx="284.5" cy="1771.7" r="3.4"/>
<circle cx="263.2" cy="1766.3" r="3.4"/>
<circle cx="248" cy="1761.4" r="3.4"/>
<circle cx="260.7" cy="1763.5" r="3.4"/>
<circle cx="284.1" cy="1761.3" r="3.4"/>
<circle cx="256.2" cy="1761.7" r="3.4"/>
<circle cx="254.3" cy="1766.9" r="3.4"/>
<circle cx="244.9" cy="1782.4" r="3.4"/>
<circle cx="260.4" cy="1782.8" r="3.4"/>
<circle cx="275.2" cy="1773.6" r="3.4"/>
<circle cx="265.2" cy="1783.1" r="3.4"/>
<circle cx="248.8" cy="1773.4" r="3.4"/>
<circle cx="256.8" cy="1773.6" r="3.4"/>
<circle cx="277.1" cy="1761.7" r="3.4"/>
<circle cx="244.6" cy="1758.1" r="3.4"/>
<circle cx="247" cy="1764" r="3.4"/>
<circle cx="288.4" cy="1762.7" r="3.4"/>
<circle cx="257.8" cy="1766.4" r="3.4"/>
<circle cx="256.5" cy="1775.6" r="3.4"/>
<circle cx="276.6" cy="1761.7" r="3.4"/>
<circle cx="274.5" cy="1782.9" r="3.4"/>
<circle cx="273.2" cy="1765.1" r="3.4"/>
<circle cx="288.5" cy="1756.2" r="3.4"/>
<circle cx="279.4" cy="1764.4" r="3.4"/>
<circle cx="245.5" cy="1769.2" r="3.4"/>
<circle cx="289.1" cy="1768.2" r="3.4"/>
<circle cx="259.6" cy="1759.3" r="3.4"/>
<circle cx="284.9" cy="1767.2" r="3.4"/>
<circle cx="286.6" cy="1757.9" r="3.4"/>
<circle cx="246.3" cy="1787.6" r="3.4"/>
<circle cx="246.7" cy="1786.7" r="3.4"/>
<circle cx="262.3" cy="1787" r="3.4"/>
<circle cx="246.3" cy="1785.2" r="3.4"/>
<circle cx="287.7" cy="1786.2" r="3.4"/>
<circle cx="266.9" cy="1787.7" r="3.4"/>
<circle cx="267.9" cy="1785.6" r="3.4"/>
<circle cx="258.1" cy="1785.7" r="3.4"/>
<circle cx="268.4" cy="1791.1" r="3.4"/>
</g>
<rect x="237.5" y="1761" width="58" height="10" fill="none" stroke="#3f5d80" stroke-width="2"/>
<text x="102.6" y="1784.6" font-size="21.3">Wilcoxon, p = 3.8e−14</text>
<text x="146.4" y="1831.6" font-size="21.5" text-anchor="middle" font-style="italic">PRKDC Amp</text>
<text x="268.2" y="1831.6" font-size="21" text-anchor="middle">WT</text>
<text font-size="21" text-anchor="middle" transform="translate(50.4,1675.8) rotate(-90)">FPKM</text>
<rect x="410.4" y="1560.6" width="245.2" height="245.2" fill="#fff" stroke="#222" stroke-width="1.3"/>
<line x1="405.4" y1="1579.2" x2="410.4" y2="1579.2" stroke="#222" stroke-width="1.1"/>
<text x="404.4" y="1586.2" font-size="20" text-anchor="end">30</text>
<line x1="405.4" y1="1642.3" x2="410.4" y2="1642.3" stroke="#222" stroke-width="1.1"/>
<text x="404.4" y="1649.3" font-size="20" text-anchor="end">25</text>
<line x1="405.4" y1="1705" x2="410.4" y2="1705" stroke="#222" stroke-width="1.1"/>
<text x="404.4" y="1712" font-size="20" text-anchor="end">20</text>
<line x1="405.4" y1="1768" x2="410.4" y2="1768" stroke="#222" stroke-width="1.1"/>
<text x="404.4" y="1775" font-size="20" text-anchor="end">15</text>
<line x1="476.9" y1="1805.8" x2="476.9" y2="1811.8" stroke="#222" stroke-width="1.1"/>
<line x1="590.8" y1="1805.8" x2="590.8" y2="1811.8" stroke="#222" stroke-width="1.1"/>
<text x="410.4" y="1550.5" font-size="26.4" fill="#1f2f7f">ATM</text>
<line x1="476.9" y1="1564.6" x2="476.9" y2="1570.2" stroke="#b0607e" stroke-width="1.3"/>
<line x1="476.9" y1="1605" x2="476.9" y2="1632.2" stroke="#b0607e" stroke-width="1.3"/>
<rect x="448.7" y="1570.2" width="57.5" height="34.8" fill="none" stroke="#b0607e" stroke-width="1.4"/>
<line x1="448.7" y1="1580.3" x2="506.2" y2="1580.3" stroke="#b0607e" stroke-width="2.6"/>
<g fill="#b0607e">
<circle cx="455.5" cy="1567.9" r="3.3"/>
<circle cx="466.7" cy="1566.2" r="3.3"/>
<circle cx="478" cy="1569.1" r="3.3"/>
<circle cx="490.4" cy="1564.6" r="3.3"/>
<circle cx="498.9" cy="1569.1" r="3.3"/>
<circle cx="451" cy="1582.6" r="3.3"/>
<circle cx="459.4" cy="1580.3" r="3.3"/>
<circle cx="467.9" cy="1577" r="3.3"/>
<circle cx="474.6" cy="1580.3" r="3.3"/>
<circle cx="483.1" cy="1575.8" r="3.3"/>
<circle cx="488.2" cy="1579.2" r="3.3"/>
<circle cx="496.1" cy="1578.6" r="3.3"/>
<circle cx="462.2" cy="1587.1" r="3.3"/>
<circle cx="470.7" cy="1588.2" r="3.3"/>
<circle cx="479.1" cy="1589.9" r="3.3"/>
<circle cx="485.9" cy="1586" r="3.3"/>
<circle cx="478" cy="1605.1" r="3.3"/>
<circle cx="472.4" cy="1614.2" r="3.3"/>
<circle cx="496.1" cy="1619.8" r="3.3"/>
<circle cx="463.4" cy="1626.6" r="3.3"/>
<circle cx="456.6" cy="1632.2" r="3.3"/>
</g>
<g fill="#3f5d80">
<rect x="569" y="1736.3" width="43.3" height="28.4" rx="6" ry="6"/>
<circle cx="603.1" cy="1764.4" r="3.4"/>
<circle cx="590" cy="1741.2" r="3.4"/>
<circle cx="569.4" cy="1757.8" r="3.4"/>
<circle cx="589.4" cy="1761.9" r="3.4"/>
<circle cx="585.3" cy="1762.3" r="3.4"/>
<circle cx="581" cy="1763.6" r="3.4"/>
<circle cx="600.4" cy="1747.5" r="3.4"/>
<circle cx="592.3" cy="1758.6" r="3.4"/>
<circle cx="577.6" cy="1753.3" r="3.4"/>
<circle cx="603.6" cy="1741.3" r="3.4"/>
<circle cx="603.5" cy="1758.8" r="3.4"/>
<circle cx="605.3" cy="1744.2" r="3.4"/>
<circle cx="573.4" cy="1763.5" r="3.4"/>
<circle cx="603.6" cy="1748.8" r="3.4"/>
<circle cx="573.4" cy="1738.5" r="3.4"/>
<circle cx="596.4" cy="1742.4" r="3.4"/>
<circle cx="609.8" cy="1754.7" r="3.4"/>
<circle cx="577.9" cy="1757.5" r="3.4"/>
<circle cx="584.7" cy="1769" r="3.4"/>
<circle cx="608.1" cy="1751.7" r="3.4"/>
<circle cx="596.8" cy="1759.3" r="3.4"/>
<circle cx="603.6" cy="1770.8" r="3.4"/>
<circle cx="570.6" cy="1745.3" r="3.4"/>
<circle cx="595" cy="1742.9" r="3.4"/>
<circle cx="594.4" cy="1734" r="3.4"/>
<circle cx="591.7" cy="1735.2" r="3.4"/>
<circle cx="582.7" cy="1738.4" r="3.4"/>
<circle cx="590" cy="1742" r="3.4"/>
<circle cx="606.2" cy="1759.3" r="3.4"/>
<circle cx="569.9" cy="1762.6" r="3.4"/>
<circle cx="570.1" cy="1744.1" r="3.4"/>
<circle cx="607.8" cy="1756.1" r="3.4"/>
<circle cx="582.4" cy="1746" r="3.4"/>
<circle cx="585.9" cy="1735.6" r="3.4"/>
<circle cx="571.7" cy="1747.9" r="3.4"/>
<circle cx="601.1" cy="1746.8" r="3.4"/>
<circle cx="611.1" cy="1740.5" r="3.4"/>
<circle cx="611" cy="1767.4" r="3.4"/>
<circle cx="597.9" cy="1767.2" r="3.4"/>
<circle cx="588.4" cy="1764.8" r="3.4"/>
<circle cx="603.2" cy="1751.8" r="3.4"/>
<circle cx="589.4" cy="1759.6" r="3.4"/>
<circle cx="586.8" cy="1733.9" r="3.4"/>
<circle cx="580.7" cy="1750.6" r="3.4"/>
<circle cx="602.7" cy="1737.4" r="3.4"/>
<circle cx="570.3" cy="1741.4" r="3.4"/>
<circle cx="584.7" cy="1740.9" r="3.4"/>
<circle cx="588.6" cy="1768.8" r="3.4"/>
<circle cx="580.2" cy="1747.4" r="3.4"/>
<circle cx="606.8" cy="1755.7" r="3.4"/>
<circle cx="580.8" cy="1750" r="3.4"/>
<circle cx="589.7" cy="1742.2" r="3.4"/>
<circle cx="582.4" cy="1763.7" r="3.4"/>
<circle cx="583.1" cy="1757.7" r="3.4"/>
<circle cx="610.7" cy="1768.6" r="3.4"/>
<circle cx="585.4" cy="1755.3" r="3.4"/>
<circle cx="583" cy="1746.8" r="3.4"/>
<circle cx="590.1" cy="1763.2" r="3.4"/>
<circle cx="609.2" cy="1742.4" r="3.4"/>
<circle cx="569.7" cy="1749" r="3.4"/>
<circle cx="571.8" cy="1731.6" r="3.4"/>
<circle cx="574.2" cy="1760.1" r="3.4"/>
<circle cx="584.8" cy="1769.3" r="3.4"/>
<circle cx="605.7" cy="1738.9" r="3.4"/>
<circle cx="609.7" cy="1755.8" r="3.4"/>
<circle cx="587.3" cy="1762.8" r="3.4"/>
<circle cx="604" cy="1750.7" r="3.4"/>
<circle cx="589.3" cy="1740.5" r="3.4"/>
<circle cx="575.6" cy="1756.3" r="3.4"/>
<circle cx="595.2" cy="1736.3" r="3.4"/>
<circle cx="573.5" cy="1734.7" r="3.4"/>
<circle cx="589.1" cy="1767.7" r="3.4"/>
<circle cx="596.1" cy="1759.4" r="3.4"/>
<circle cx="574.8" cy="1764.9" r="3.4"/>
<circle cx="573" cy="1756" r="3.4"/>
<circle cx="608.1" cy="1768" r="3.4"/>
<circle cx="607.4" cy="1749.1" r="3.4"/>
<circle cx="598.9" cy="1763.2" r="3.4"/>
<circle cx="575.2" cy="1769.5" r="3.4"/>
<circle cx="608" cy="1748.6" r="3.4"/>
<circle cx="602.5" cy="1748.9" r="3.4"/>
<circle cx="581.1" cy="1759.9" r="3.4"/>
<circle cx="572.1" cy="1763.5" r="3.4"/>
<circle cx="611" cy="1742.2" r="3.4"/>
<circle cx="609.3" cy="1733.8" r="3.4"/>
<circle cx="581.3" cy="1770.4" r="3.4"/>
<circle cx="587.7" cy="1768.6" r="3.4"/>
<circle cx="570.8" cy="1733.9" r="3.4"/>
<circle cx="596.5" cy="1752.5" r="3.4"/>
<circle cx="570.8" cy="1737.5" r="3.4"/>
<circle cx="585.1" cy="1732.5" r="3.4"/>
<circle cx="601.9" cy="1769.7" r="3.4"/>
<circle cx="599.2" cy="1744.6" r="3.4"/>
<circle cx="572.7" cy="1760.7" r="3.4"/>
<circle cx="574.2" cy="1753" r="3.4"/>
<circle cx="589.1" cy="1750.8" r="3.4"/>
<circle cx="572.6" cy="1739.4" r="3.4"/>
<circle cx="570.7" cy="1752.1" r="3.4"/>
<circle cx="575.8" cy="1742" r="3.4"/>
<circle cx="575.8" cy="1753.9" r="3.4"/>
<circle cx="585.9" cy="1739.6" r="3.4"/>
<circle cx="578.8" cy="1753.7" r="3.4"/>
<circle cx="608.1" cy="1747.7" r="3.4"/>
<circle cx="576.3" cy="1743.4" r="3.4"/>
<circle cx="579.6" cy="1754.1" r="3.4"/>
<circle cx="602.8" cy="1753.9" r="3.4"/>
<circle cx="577.4" cy="1743.8" r="3.4"/>
<circle cx="585.6" cy="1748.6" r="3.4"/>
<circle cx="586.3" cy="1771.7" r="3.4"/>
<circle cx="592.8" cy="1757.8" r="3.4"/>
<circle cx="599.8" cy="1757.1" r="3.4"/>
<circle cx="603.6" cy="1745.8" r="3.4"/>
<circle cx="597.7" cy="1770.7" r="3.4"/>
<circle cx="576.4" cy="1756.3" r="3.4"/>
<circle cx="585.7" cy="1738.8" r="3.4"/>
<circle cx="601.7" cy="1735.1" r="3.4"/>
<circle cx="573.7" cy="1745.6" r="3.4"/>
<circle cx="570.8" cy="1752.8" r="3.4"/>
<circle cx="602.8" cy="1739.7" r="3.4"/>
<circle cx="593.4" cy="1768.6" r="3.4"/>
<circle cx="581.9" cy="1749.9" r="3.4"/>
<circle cx="600.2" cy="1766.2" r="3.4"/>
<circle cx="576.6" cy="1757.8" r="3.4"/>
<circle cx="574.5" cy="1735" r="3.4"/>
<circle cx="571.5" cy="1768.5" r="3.4"/>
<circle cx="601.3" cy="1758.4" r="3.4"/>
<circle cx="600.4" cy="1757.3" r="3.4"/>
<circle cx="581.6" cy="1748.7" r="3.4"/>
<circle cx="578" cy="1766" r="3.4"/>
<circle cx="602.5" cy="1763" r="3.4"/>
<circle cx="578.5" cy="1754.9" r="3.4"/>
<circle cx="580.2" cy="1763.1" r="3.4"/>
<circle cx="601.1" cy="1771.6" r="3.4"/>
<circle cx="599.5" cy="1758.7" r="3.4"/>
<circle cx="602.4" cy="1740.2" r="3.4"/>
<circle cx="570.8" cy="1745.5" r="3.4"/>
<circle cx="574.4" cy="1769.7" r="3.4"/>
<circle cx="570.6" cy="1768.6" r="3.4"/>
<circle cx="609.7" cy="1748.4" r="3.4"/>
<circle cx="604.8" cy="1738.4" r="3.4"/>
<circle cx="569.8" cy="1739.1" r="3.4"/>
<circle cx="604.6" cy="1739.9" r="3.4"/>
<circle cx="581" cy="1741.8" r="3.4"/>
<circle cx="577.1" cy="1770.9" r="3.4"/>
<circle cx="585.7" cy="1755" r="3.4"/>
<circle cx="593.4" cy="1756.3" r="3.4"/>
<circle cx="589.8" cy="1741.5" r="3.4"/>
<circle cx="575.2" cy="1767.2" r="3.4"/>
<circle cx="577.6" cy="1748.9" r="3.4"/>
<circle cx="603.8" cy="1754.2" r="3.4"/>
<circle cx="609.7" cy="1763.9" r="3.4"/>
<circle cx="591.2" cy="1741.3" r="3.4"/>
<circle cx="589.5" cy="1766.1" r="3.4"/>
<circle cx="592" cy="1759.1" r="3.4"/>
<circle cx="603.9" cy="1749.8" r="3.4"/>
<circle cx="605.2" cy="1767.6" r="3.4"/>
<circle cx="576" cy="1768.5" r="3.4"/>
<circle cx="606.4" cy="1765.8" r="3.4"/>
<circle cx="583.8" cy="1740.8" r="3.4"/>
<circle cx="575" cy="1745.7" r="3.4"/>
<circle cx="605.7" cy="1745.4" r="3.4"/>
<circle cx="569.6" cy="1743" r="3.4"/>
<circle cx="572.9" cy="1756.2" r="3.4"/>
<circle cx="602.1" cy="1768.8" r="3.4"/>
<circle cx="573.2" cy="1746.1" r="3.4"/>
<circle cx="574.7" cy="1768.1" r="3.4"/>
<circle cx="605" cy="1751.9" r="3.4"/>
<circle cx="609.9" cy="1751.9" r="3.4"/>
<circle cx="602.4" cy="1750.6" r="3.4"/>
<circle cx="584.9" cy="1771.6" r="3.4"/>
<circle cx="605.2" cy="1754.9" r="3.4"/>
<circle cx="606.3" cy="1757.3" r="3.4"/>
<circle cx="603.3" cy="1739.1" r="3.4"/>
<circle cx="574" cy="1755.3" r="3.4"/>
<circle cx="600" cy="1736.7" r="3.4"/>
<circle cx="590.9" cy="1735" r="3.4"/>
<circle cx="602.5" cy="1733.9" r="3.4"/>
<circle cx="597.7" cy="1741.5" r="3.4"/>
<circle cx="576.1" cy="1760.5" r="3.4"/>
<circle cx="608.4" cy="1737.6" r="3.4"/>
<circle cx="577.2" cy="1756.4" r="3.4"/>
<circle cx="605.9" cy="1761" r="3.4"/>
<circle cx="588.9" cy="1734.9" r="3.4"/>
<circle cx="588.8" cy="1763.7" r="3.4"/>
<circle cx="593.7" cy="1760.8" r="3.4"/>
<circle cx="610.7" cy="1756.3" r="3.4"/>
<circle cx="608.1" cy="1741.7" r="3.4"/>
<circle cx="569.5" cy="1766.9" r="3.4"/>
<circle cx="570.7" cy="1771.6" r="3.4"/>
<circle cx="588.8" cy="1738.8" r="3.4"/>
<circle cx="600.1" cy="1746.2" r="3.4"/>
<circle cx="595.9" cy="1734.5" r="3.4"/>
<circle cx="585.3" cy="1764.9" r="3.4"/>
<circle cx="575.7" cy="1758" r="3.4"/>
<circle cx="589.3" cy="1747.1" r="3.4"/>
<circle cx="570.2" cy="1752.4" r="3.4"/>
<circle cx="605" cy="1740.6" r="3.4"/>
<circle cx="569.9" cy="1771.6" r="3.4"/>
<circle cx="610.6" cy="1758.5" r="3.4"/>
<circle cx="589.8" cy="1739.2" r="3.4"/>
<circle cx="599.4" cy="1763.3" r="3.4"/>
<circle cx="611.4" cy="1766.1" r="3.4"/>
<circle cx="588" cy="1740.9" r="3.4"/>
<circle cx="592.4" cy="1744.7" r="3.4"/>
<circle cx="592.6" cy="1767" r="3.4"/>
<circle cx="588.7" cy="1771" r="3.4"/>
<circle cx="599.9" cy="1732.2" r="3.4"/>
<circle cx="597.5" cy="1756.1" r="3.4"/>
<circle cx="569.5" cy="1766.8" r="3.4"/>
<circle cx="590.5" cy="1752.6" r="3.4"/>
<circle cx="576.6" cy="1737.8" r="3.4"/>
<circle cx="578.3" cy="1742.9" r="3.4"/>
<circle cx="575.9" cy="1732.7" r="3.4"/>
<circle cx="599.3" cy="1766.9" r="3.4"/>
<circle cx="578.6" cy="1760.5" r="3.4"/>
<circle cx="594.7" cy="1734" r="3.4"/>
<circle cx="584.6" cy="1738" r="3.4"/>
<circle cx="577.2" cy="1768.7" r="3.4"/>
<circle cx="578.8" cy="1746.3" r="3.4"/>
<circle cx="592.6" cy="1745.2" r="3.4"/>
<circle cx="597.3" cy="1739.9" r="3.4"/>
<circle cx="594.2" cy="1756" r="3.4"/>
<circle cx="595.3" cy="1741.5" r="3.4"/>
<circle cx="596.5" cy="1770.7" r="3.4"/>
<circle cx="589.9" cy="1757" r="3.4"/>
<circle cx="605" cy="1740.8" r="3.4"/>
<circle cx="580.7" cy="1770.6" r="3.4"/>
<circle cx="582.2" cy="1748" r="3.4"/>
<circle cx="585.2" cy="1771.5" r="3.4"/>
<circle cx="592.6" cy="1767.5" r="3.4"/>
<circle cx="576.7" cy="1778.2" r="3.4"/>
<circle cx="596.8" cy="1779.1" r="3.4"/>
<circle cx="597.4" cy="1783.4" r="3.4"/>
<circle cx="573.2" cy="1774.4" r="3.4"/>
<circle cx="588.1" cy="1784" r="3.4"/>
<circle cx="577.3" cy="1777.8" r="3.4"/>
<circle cx="570" cy="1777.9" r="3.4"/>
<circle cx="582.8" cy="1780.7" r="3.4"/>
<circle cx="594.5" cy="1791.2" r="3.4"/>
</g>
<rect x="562.3" y="1742" width="57.7" height="16.8" fill="none" stroke="#3f5d80" stroke-width="2"/>
<text x="427.5" y="1783.8" font-size="21.3">Wilcoxon, p = 3.8e−14</text>
<text x="468.6" y="1830.8" font-size="21.5" text-anchor="middle" font-style="italic">PRKDC Amp</text>
<text x="589.3" y="1830.8" font-size="21" text-anchor="middle">WT</text>
<text font-size="21" text-anchor="middle" transform="translate(372.7,1675.2) rotate(-90)">FPKM</text>
<rect x="732.8" y="1560.6" width="245.2" height="245.2" fill="#fff" stroke="#222" stroke-width="1.3"/>
<line x1="727.8" y1="1574.7" x2="732.8" y2="1574.7" stroke="#222" stroke-width="1.1"/>
<text x="726.8" y="1581.7" font-size="20" text-anchor="end">30</text>
<line x1="727.8" y1="1639" x2="732.8" y2="1639" stroke="#222" stroke-width="1.1"/>
<text x="726.8" y="1646" font-size="20" text-anchor="end">25</text>
<line x1="727.8" y1="1703.8" x2="732.8" y2="1703.8" stroke="#222" stroke-width="1.1"/>
<text x="726.8" y="1710.8" font-size="20" text-anchor="end">20</text>
<line x1="727.8" y1="1768.6" x2="732.8" y2="1768.6" stroke="#222" stroke-width="1.1"/>
<text x="726.8" y="1775.6" font-size="20" text-anchor="end">15</text>
<line x1="800" y1="1805.8" x2="800" y2="1811.8" stroke="#222" stroke-width="1.1"/>
<line x1="913.2" y1="1805.8" x2="913.2" y2="1811.8" stroke="#222" stroke-width="1.1"/>
<text x="729.7" y="1553.3" font-size="26.4" fill="#1f2f7f">ATR</text>
<line x1="800" y1="1564.6" x2="800" y2="1584.8" stroke="#b0607e" stroke-width="1.3"/>
<line x1="800" y1="1601.8" x2="800" y2="1627.7" stroke="#b0607e" stroke-width="1.3"/>
<rect x="771" y="1584.8" width="57.6" height="17" fill="none" stroke="#b0607e" stroke-width="1.4"/>
<line x1="771" y1="1593.3" x2="828.6" y2="1593.3" stroke="#b0607e" stroke-width="2.6"/>
<g fill="#b0607e">
<circle cx="817.4" cy="1563.4" r="3.3"/>
<circle cx="794.8" cy="1580.3" r="3.3"/>
<circle cx="799.3" cy="1580.3" r="3.3"/>
<circle cx="814.5" cy="1581.5" r="3.3"/>
<circle cx="823" cy="1583.2" r="3.3"/>
<circle cx="780.7" cy="1595.6" r="3.3"/>
<circle cx="789.2" cy="1596.7" r="3.3"/>
<circle cx="795.9" cy="1591.6" r="3.3"/>
<circle cx="803.3" cy="1593.9" r="3.3"/>
<circle cx="810" cy="1590.5" r="3.3"/>
<circle cx="817.4" cy="1588.2" r="3.3"/>
<circle cx="824.1" cy="1587.1" r="3.3"/>
<circle cx="776.8" cy="1599.5" r="3.3"/>
<circle cx="786.4" cy="1601.2" r="3.3"/>
<circle cx="793.7" cy="1602.9" r="3.3"/>
<circle cx="800.5" cy="1599.5" r="3.3"/>
<circle cx="807.2" cy="1597.2" r="3.3"/>
<circle cx="780.7" cy="1623.7" r="3.3"/>
<circle cx="787.5" cy="1623.7" r="3.3"/>
<circle cx="797.1" cy="1625.4" r="3.3"/>
<circle cx="799.3" cy="1608.5" r="3.3"/>
</g>
<g fill="#3f5d80">
<rect x="889" y="1751.2" width="48.9" height="32.4" rx="6" ry="6"/>
<circle cx="905" cy="1751.4" r="3.4"/>
<circle cx="920.7" cy="1754.2" r="3.4"/>
<circle cx="907" cy="1753.6" r="3.4"/>
<circle cx="891.2" cy="1763.1" r="3.4"/>
<circle cx="892.8" cy="1754.9" r="3.4"/>
<circle cx="929.2" cy="1756.3" r="3.4"/>
<circle cx="919.6" cy="1784.4" r="3.4"/>
<circle cx="917.2" cy="1761.6" r="3.4"/>
<circle cx="936.4" cy="1747.1" r="3.4"/>
<circle cx="903.3" cy="1757.2" r="3.4"/>
<circle cx="904.2" cy="1778.9" r="3.4"/>
<circle cx="898.1" cy="1769.2" r="3.4"/>
<circle cx="920.1" cy="1760.6" r="3.4"/>
<circle cx="915.7" cy="1753.8" r="3.4"/>
<circle cx="899.3" cy="1773.3" r="3.4"/>
<circle cx="910" cy="1758.2" r="3.4"/>
<circle cx="917.6" cy="1763.9" r="3.4"/>
<circle cx="903.8" cy="1778" r="3.4"/>
<circle cx="923" cy="1755.3" r="3.4"/>
<circle cx="917" cy="1766.9" r="3.4"/>
<circle cx="931.5" cy="1775.3" r="3.4"/>
<circle cx="903.2" cy="1785.7" r="3.4"/>
<circle cx="895.1" cy="1762.5" r="3.4"/>
<circle cx="925.8" cy="1751.5" r="3.4"/>
<circle cx="912.9" cy="1746.8" r="3.4"/>
<circle cx="926.2" cy="1768.9" r="3.4"/>
<circle cx="931.5" cy="1758.2" r="3.4"/>
<circle cx="922.8" cy="1769.8" r="3.4"/>
<circle cx="917.3" cy="1764" r="3.4"/>
<circle cx="929.8" cy="1784.2" r="3.4"/>
<circle cx="912.2" cy="1772.6" r="3.4"/>
<circle cx="892.3" cy="1774.2" r="3.4"/>
<circle cx="920.5" cy="1786.2" r="3.4"/>
<circle cx="928.9" cy="1757" r="3.4"/>
<circle cx="908" cy="1772.8" r="3.4"/>
<circle cx="890.5" cy="1764.3" r="3.4"/>
<circle cx="897.5" cy="1756" r="3.4"/>
<circle cx="926.4" cy="1756.5" r="3.4"/>
<circle cx="908.2" cy="1781.2" r="3.4"/>
<circle cx="893.3" cy="1763.8" r="3.4"/>
<circle cx="915.8" cy="1781.7" r="3.4"/>
<circle cx="928.8" cy="1780.9" r="3.4"/>
<circle cx="902.8" cy="1762.4" r="3.4"/>
<circle cx="906.7" cy="1781.7" r="3.4"/>
<circle cx="935.5" cy="1751.4" r="3.4"/>
<circle cx="897.9" cy="1754.8" r="3.4"/>
<circle cx="900.6" cy="1765.2" r="3.4"/>
<circle cx="917.7" cy="1756.1" r="3.4"/>
<circle cx="889.6" cy="1762.5" r="3.4"/>
<circle cx="907.2" cy="1768.6" r="3.4"/>
<circle cx="935.2" cy="1773.7" r="3.4"/>
<circle cx="914.2" cy="1770.7" r="3.4"/>
<circle cx="921.9" cy="1747.4" r="3.4"/>
<circle cx="926.9" cy="1781.3" r="3.4"/>
<circle cx="927.8" cy="1761.4" r="3.4"/>
<circle cx="908.6" cy="1749.5" r="3.4"/>
<circle cx="892.4" cy="1754" r="3.4"/>
<circle cx="897.2" cy="1759.2" r="3.4"/>
<circle cx="891.9" cy="1751.2" r="3.4"/>
<circle cx="894.3" cy="1760.2" r="3.4"/>
<circle cx="890.6" cy="1781.3" r="3.4"/>
<circle cx="918.9" cy="1751.3" r="3.4"/>
<circle cx="901.5" cy="1759.6" r="3.4"/>
<circle cx="906.9" cy="1750.3" r="3.4"/>
<circle cx="937.2" cy="1764.5" r="3.4"/>
<circle cx="912.7" cy="1754.7" r="3.4"/>
<circle cx="905.9" cy="1756.1" r="3.4"/>
<circle cx="929.3" cy="1751.9" r="3.4"/>
<circle cx="890.5" cy="1784.5" r="3.4"/>
<circle cx="914.8" cy="1751.3" r="3.4"/>
<circle cx="915.5" cy="1752.3" r="3.4"/>
<circle cx="936.5" cy="1780.9" r="3.4"/>
<circle cx="922.9" cy="1756" r="3.4"/>
<circle cx="907" cy="1752.1" r="3.4"/>
<circle cx="926.5" cy="1767.2" r="3.4"/>
<circle cx="926.9" cy="1758.8" r="3.4"/>
<circle cx="900.1" cy="1778.7" r="3.4"/>
<circle cx="936.8" cy="1780.4" r="3.4"/>
<circle cx="928.2" cy="1779" r="3.4"/>
<circle cx="925" cy="1754.6" r="3.4"/>
<circle cx="914.3" cy="1759.9" r="3.4"/>
<circle cx="890.8" cy="1752.4" r="3.4"/>
<circle cx="901.9" cy="1773.8" r="3.4"/>
<circle cx="935.4" cy="1763.7" r="3.4"/>
<circle cx="934.5" cy="1786" r="3.4"/>
<circle cx="935.3" cy="1760.3" r="3.4"/>
<circle cx="900" cy="1754.6" r="3.4"/>
<circle cx="898.9" cy="1753.6" r="3.4"/>
<circle cx="919.4" cy="1782.4" r="3.4"/>
<circle cx="929.8" cy="1765" r="3.4"/>
<circle cx="920.8" cy="1778.2" r="3.4"/>
<circle cx="893.5" cy="1772.5" r="3.4"/>
<circle cx="933.2" cy="1777.5" r="3.4"/>
<circle cx="925.5" cy="1764.9" r="3.4"/>
<circle cx="898" cy="1777.8" r="3.4"/>
<circle cx="905.4" cy="1778.3" r="3.4"/>
<circle cx="936.1" cy="1761.6" r="3.4"/>
<circle cx="908.7" cy="1784.3" r="3.4"/>
<circle cx="924.3" cy="1752.2" r="3.4"/>
<circle cx="895.5" cy="1751.4" r="3.4"/>
<circle cx="932.9" cy="1778.5" r="3.4"/>
<circle cx="896.4" cy="1779.3" r="3.4"/>
<circle cx="936.6" cy="1772.4" r="3.4"/>
<circle cx="906.3" cy="1767.9" r="3.4"/>
<circle cx="895.7" cy="1745.8" r="3.4"/>
<circle cx="920.6" cy="1767" r="3.4"/>
<circle cx="934.3" cy="1763.1" r="3.4"/>
<circle cx="931.3" cy="1779.3" r="3.4"/>
<circle cx="899.6" cy="1755.6" r="3.4"/>
<circle cx="903.5" cy="1755.1" r="3.4"/>
<circle cx="917.6" cy="1755.9" r="3.4"/>
<circle cx="909.6" cy="1750.6" r="3.4"/>
<circle cx="906.4" cy="1764.1" r="3.4"/>
<circle cx="917.5" cy="1782.6" r="3.4"/>
<circle cx="909.6" cy="1783.1" r="3.4"/>
<circle cx="913.5" cy="1767.2" r="3.4"/>
<circle cx="914.6" cy="1752" r="3.4"/>
<circle cx="898.2" cy="1745.4" r="3.4"/>
<circle cx="897.7" cy="1764.8" r="3.4"/>
<circle cx="924.3" cy="1768.2" r="3.4"/>
<circle cx="905.1" cy="1766.6" r="3.4"/>
<circle cx="916.1" cy="1777.6" r="3.4"/>
<circle cx="894.5" cy="1768.3" r="3.4"/>
<circle cx="901.4" cy="1756.6" r="3.4"/>
<circle cx="926.5" cy="1766.2" r="3.4"/>
<circle cx="916.4" cy="1776.6" r="3.4"/>
<circle cx="933.3" cy="1763.5" r="3.4"/>
<circle cx="918.9" cy="1766.1" r="3.4"/>
<circle cx="914" cy="1773.8" r="3.4"/>
<circle cx="911.2" cy="1767.2" r="3.4"/>
<circle cx="912.4" cy="1784.1" r="3.4"/>
<circle cx="923" cy="1781.4" r="3.4"/>
<circle cx="934.7" cy="1755.9" r="3.4"/>
<circle cx="916.3" cy="1784.2" r="3.4"/>
<circle cx="929.8" cy="1756.9" r="3.4"/>
<circle cx="910.7" cy="1754.2" r="3.4"/>
<circle cx="892.9" cy="1772.9" r="3.4"/>
<circle cx="927.1" cy="1782.3" r="3.4"/>
<circle cx="896.8" cy="1774.8" r="3.4"/>
<circle cx="921.2" cy="1751.1" r="3.4"/>
<circle cx="935.9" cy="1754.3" r="3.4"/>
<circle cx="935.2" cy="1761.7" r="3.4"/>
<circle cx="912.8" cy="1786.1" r="3.4"/>
<circle cx="929.4" cy="1751.9" r="3.4"/>
<circle cx="910.2" cy="1766.5" r="3.4"/>
<circle cx="905.7" cy="1753.3" r="3.4"/>
<circle cx="904.7" cy="1775" r="3.4"/>
<circle cx="890.3" cy="1768.1" r="3.4"/>
<circle cx="910.6" cy="1751.9" r="3.4"/>
<circle cx="919.4" cy="1766.4" r="3.4"/>
<circle cx="892.5" cy="1785.9" r="3.4"/>
<circle cx="927.3" cy="1785.3" r="3.4"/>
<circle cx="894.4" cy="1756.2" r="3.4"/>
<circle cx="891.3" cy="1777.4" r="3.4"/>
<circle cx="902.4" cy="1756.6" r="3.4"/>
<circle cx="933.2" cy="1779" r="3.4"/>
<circle cx="901.8" cy="1751.4" r="3.4"/>
<circle cx="933.6" cy="1768.8" r="3.4"/>
<circle cx="923.1" cy="1754.9" r="3.4"/>
<circle cx="922.5" cy="1762.8" r="3.4"/>
<circle cx="892.9" cy="1784" r="3.4"/>
<circle cx="919.9" cy="1778.3" r="3.4"/>
<circle cx="893.4" cy="1780.6" r="3.4"/>
<circle cx="892.6" cy="1780.8" r="3.4"/>
<circle cx="911.2" cy="1759.2" r="3.4"/>
<circle cx="916" cy="1783.5" r="3.4"/>
<circle cx="902.3" cy="1756.5" r="3.4"/>
<circle cx="900.9" cy="1755.7" r="3.4"/>
<circle cx="891.8" cy="1753.5" r="3.4"/>
<circle cx="904.4" cy="1757.8" r="3.4"/>
<circle cx="925.9" cy="1757.2" r="3.4"/>
<circle cx="913.5" cy="1752.5" r="3.4"/>
<circle cx="906.1" cy="1752" r="3.4"/>
<circle cx="890.1" cy="1775.5" r="3.4"/>
<circle cx="915.9" cy="1753" r="3.4"/>
<circle cx="912.2" cy="1783.8" r="3.4"/>
<circle cx="894.5" cy="1779" r="3.4"/>
<circle cx="910.2" cy="1765.7" r="3.4"/>
<circle cx="929.5" cy="1761.4" r="3.4"/>
<circle cx="913.8" cy="1773.6" r="3.4"/>
<circle cx="936.7" cy="1759.4" r="3.4"/>
<circle cx="929.4" cy="1774.4" r="3.4"/>
<circle cx="920" cy="1761.9" r="3.4"/>
<circle cx="906.1" cy="1753.4" r="3.4"/>
<circle cx="892.8" cy="1775.8" r="3.4"/>
<circle cx="901.7" cy="1751.9" r="3.4"/>
<circle cx="893.5" cy="1780" r="3.4"/>
<circle cx="931.3" cy="1772.9" r="3.4"/>
<circle cx="903" cy="1755.2" r="3.4"/>
<circle cx="903.5" cy="1764.2" r="3.4"/>
<circle cx="897" cy="1763.6" r="3.4"/>
<circle cx="902.1" cy="1784.9" r="3.4"/>
<circle cx="936.2" cy="1767.8" r="3.4"/>
<circle cx="901.2" cy="1785.1" r="3.4"/>
<circle cx="904.3" cy="1759.9" r="3.4"/>
<circle cx="889.5" cy="1761" r="3.4"/>
<circle cx="912.2" cy="1766" r="3.4"/>
<circle cx="899.1" cy="1766.1" r="3.4"/>
<circle cx="889.6" cy="1756.1" r="3.4"/>
<circle cx="893.7" cy="1761.7" r="3.4"/>
<circle cx="891.4" cy="1752.1" r="3.4"/>
<circle cx="900.6" cy="1769.4" r="3.4"/>
<circle cx="914.9" cy="1776.2" r="3.4"/>
<circle cx="921" cy="1774.8" r="3.4"/>
<circle cx="931.7" cy="1761.3" r="3.4"/>
<circle cx="905.1" cy="1785.9" r="3.4"/>
<circle cx="896.6" cy="1775.1" r="3.4"/>
<circle cx="920.3" cy="1747" r="3.4"/>
<circle cx="932.3" cy="1771.1" r="3.4"/>
<circle cx="924.7" cy="1778.8" r="3.4"/>
<circle cx="896.1" cy="1766.8" r="3.4"/>
<circle cx="913.7" cy="1779.7" r="3.4"/>
<circle cx="928.1" cy="1779.3" r="3.4"/>
<circle cx="917.5" cy="1782.1" r="3.4"/>
<circle cx="922.2" cy="1773.8" r="3.4"/>
<circle cx="900.5" cy="1752.5" r="3.4"/>
<circle cx="906.8" cy="1749.5" r="3.4"/>
<circle cx="916.3" cy="1771.1" r="3.4"/>
<circle cx="919.5" cy="1773.3" r="3.4"/>
<circle cx="912.9" cy="1745.3" r="3.4"/>
<circle cx="925.4" cy="1766" r="3.4"/>
<circle cx="915.1" cy="1772.4" r="3.4"/>
<circle cx="892.6" cy="1775.6" r="3.4"/>
<circle cx="901.5" cy="1754.3" r="3.4"/>
<circle cx="924.5" cy="1753.7" r="3.4"/>
<circle cx="925" cy="1785.5" r="3.4"/>
<circle cx="913.2" cy="1761" r="3.4"/>
<circle cx="912.4" cy="1773.4" r="3.4"/>
<circle cx="926.3" cy="1770.7" r="3.4"/>
<circle cx="920.3" cy="1754.4" r="3.4"/>
<circle cx="901.9" cy="1791" r="3.4"/>
<circle cx="904.3" cy="1790" r="3.4"/>
<circle cx="890.6" cy="1786.9" r="3.4"/>
<circle cx="902.6" cy="1790.6" r="3.4"/>
<circle cx="922.5" cy="1790.6" r="3.4"/>
<circle cx="903.6" cy="1789.7" r="3.4"/>
<circle cx="911.8" cy="1789.4" r="3.4"/>
<circle cx="895.6" cy="1792" r="3.4"/>
<circle cx="899.3" cy="1792.5" r="3.4"/>
</g>
<rect x="885.1" y="1754.1" width="58" height="9.3" fill="none" stroke="#3f5d80" stroke-width="2"/>
<text x="750" y="1783.8" font-size="21.3">Wilcoxon, p = 3.8e−14</text>
<text x="798" y="1830.8" font-size="21.5" text-anchor="middle" font-style="italic">PRKDC Amp</text>
<text x="918.7" y="1830.8" font-size="21" text-anchor="middle">WT</text>
<text font-size="21" text-anchor="middle" transform="translate(695.6,1675.2) rotate(-90)">FPKM</text>
<text x="1008" y="1551" font-size="50" font-weight="bold">k</text>
<line x1="1118.9" y1="1583" x2="1118.9" y2="1780.8" stroke="#222" stroke-width="1.5"/>
<line x1="1118.9" y1="1780.8" x2="1283.8" y2="1780.8" stroke="#222" stroke-width="1.5"/>
<line x1="1113.9" y1="1585.3" x2="1118.9" y2="1585.3" stroke="#222" stroke-width="1.2"/>
<text x="1111.7" y="1592.3" font-size="20.2" text-anchor="end">0.3</text>
<line x1="1113.9" y1="1617.4" x2="1118.9" y2="1617.4" stroke="#222" stroke-width="1.2"/>
<text x="1111.7" y="1624.4" font-size="20.2" text-anchor="end">0.2</text>
<line x1="1113.9" y1="1649.6" x2="1118.9" y2="1649.6" stroke="#222" stroke-width="1.2"/>
<text x="1111.7" y="1656.6" font-size="20.2" text-anchor="end">0.1</text>
<line x1="1113.9" y1="1682.2" x2="1118.9" y2="1682.2" stroke="#222" stroke-width="1.2"/>
<text x="1111.7" y="1689.2" font-size="20.2" text-anchor="end">0.0</text>
<line x1="1113.9" y1="1714.4" x2="1118.9" y2="1714.4" stroke="#222" stroke-width="1.2"/>
<text x="1111.7" y="1721.4" font-size="20.2" text-anchor="end">-0.1</text>
<line x1="1113.9" y1="1747" x2="1118.9" y2="1747" stroke="#222" stroke-width="1.2"/>
<text x="1111.7" y="1754" font-size="20.2" text-anchor="end">-0.2</text>
<line x1="1113.9" y1="1779.7" x2="1118.9" y2="1779.7" stroke="#222" stroke-width="1.2"/>
<text x="1111.7" y="1786.7" font-size="20.2" text-anchor="end">-0.3</text>
<line x1="1157.2" y1="1608.9" x2="1157.2" y2="1644.8" stroke="#c8607f" stroke-width="1.8"/>
<line x1="1157.2" y1="1688.7" x2="1157.2" y2="1714.4" stroke="#c8607f" stroke-width="1.8"/>
<line x1="1144.7" y1="1608.9" x2="1169.7" y2="1608.9" stroke="#c8607f" stroke-width="1.8"/>
<line x1="1144.7" y1="1714.4" x2="1169.7" y2="1714.4" stroke="#c8607f" stroke-width="1.8"/>
<rect x="1131.2" y="1644.8" width="51.9" height="43.9" fill="none" stroke="#c8607f" stroke-width="2.1"/>
<line x1="1131.2" y1="1675.3" x2="1183.1" y2="1675.3" stroke="#c8607f" stroke-width="1.8"/>
<line x1="1157.2" y1="1780.8" x2="1157.2" y2="1786.8" stroke="#222" stroke-width="1.1"/>
<line x1="1233" y1="1653.3" x2="1233" y2="1673.7" stroke="#2d5d88" stroke-width="1.8"/>
<line x1="1233" y1="1724.5" x2="1233" y2="1748.6" stroke="#2d5d88" stroke-width="1.8"/>
<line x1="1220.5" y1="1653.3" x2="1245.5" y2="1653.3" stroke="#2d5d88" stroke-width="1.8"/>
<line x1="1220.5" y1="1748.6" x2="1245.5" y2="1748.6" stroke="#2d5d88" stroke-width="1.8"/>
<rect x="1206.7" y="1673.7" width="52.5" height="50.8" fill="none" stroke="#2d5d88" stroke-width="2.1"/>
<line x1="1206.7" y1="1689.7" x2="1259.2" y2="1689.7" stroke="#2d5d88" stroke-width="1.8"/>
<line x1="1233" y1="1780.8" x2="1233" y2="1786.8" stroke="#222" stroke-width="1.1"/>
<text x="1154.7" y="1811.5" font-size="21.6" text-anchor="middle" font-style="italic">PRKDC</text>
<text x="1156.7" y="1835.3" font-size="21.6" text-anchor="middle" font-style="italic">amp</text>
<text x="1232" y="1811.2" font-size="21.4" text-anchor="middle">WT</text>
<text x="1066.9" y="1551.6" font-size="24.4">PRKDC kinase-activity</text>
<text x="1131.2" y="1585.2" font-size="21.3">p = 6.30e-04</text>
<line x1="1154.2" y1="1590.7" x2="1229.2" y2="1590.7" stroke="#222" stroke-width="1"/>
<text x="1128.5" y="1772.2" font-size="21.3">Wilcoxon test</text>
<text font-size="20.8" text-anchor="middle" transform="translate(1065.6,1686) rotate(-90)">PTM score</text>
<line x1="1413.9" y1="1583" x2="1413.9" y2="1780.8" stroke="#222" stroke-width="1.5"/>
<line x1="1413.9" y1="1780.8" x2="1581" y2="1780.8" stroke="#222" stroke-width="1.5"/>
<line x1="1408.9" y1="1585.3" x2="1413.9" y2="1585.3" stroke="#222" stroke-width="1.2"/>
<text x="1406.7" y="1592.3" font-size="20.2" text-anchor="end">0.3</text>
<line x1="1408.9" y1="1624.4" x2="1413.9" y2="1624.4" stroke="#222" stroke-width="1.2"/>
<text x="1406.7" y="1631.4" font-size="20.2" text-anchor="end">0.2</text>
<line x1="1408.9" y1="1663.5" x2="1413.9" y2="1663.5" stroke="#222" stroke-width="1.2"/>
<text x="1406.7" y="1670.5" font-size="20.2" text-anchor="end">0.1</text>
<line x1="1408.9" y1="1702.6" x2="1413.9" y2="1702.6" stroke="#222" stroke-width="1.2"/>
<text x="1406.7" y="1709.6" font-size="20.2" text-anchor="end">0.0</text>
<line x1="1408.9" y1="1741.2" x2="1413.9" y2="1741.2" stroke="#222" stroke-width="1.2"/>
<text x="1406.7" y="1748.2" font-size="20.2" text-anchor="end">-0.1</text>
<line x1="1408.9" y1="1779.7" x2="1413.9" y2="1779.7" stroke="#222" stroke-width="1.2"/>
<text x="1406.7" y="1786.7" font-size="20.2" text-anchor="end">-0.2</text>
<line x1="1453" y1="1600.8" x2="1453" y2="1625.5" stroke="#c8607f" stroke-width="1.8"/>
<line x1="1453" y1="1645.8" x2="1453" y2="1668.3" stroke="#c8607f" stroke-width="1.8"/>
<line x1="1440.5" y1="1600.8" x2="1465.5" y2="1600.8" stroke="#c8607f" stroke-width="1.8"/>
<line x1="1440.5" y1="1668.3" x2="1465.5" y2="1668.3" stroke="#c8607f" stroke-width="1.8"/>
<rect x="1426.8" y="1625.5" width="52.5" height="20.3" fill="none" stroke="#c8607f" stroke-width="2.1"/>
<line x1="1426.8" y1="1636.2" x2="1479.3" y2="1636.2" stroke="#c8607f" stroke-width="1.8"/>
<line x1="1453" y1="1780.8" x2="1453" y2="1786.8" stroke="#222" stroke-width="1.1"/>
<line x1="1529" y1="1637.8" x2="1529" y2="1645.3" stroke="#2d5d88" stroke-width="1.8"/>
<line x1="1529" y1="1658.7" x2="1529" y2="1743.8" stroke="#2d5d88" stroke-width="1.8"/>
<line x1="1516.5" y1="1637.8" x2="1541.5" y2="1637.8" stroke="#2d5d88" stroke-width="1.8"/>
<line x1="1516.5" y1="1743.8" x2="1541.5" y2="1743.8" stroke="#2d5d88" stroke-width="1.8"/>
<rect x="1502.8" y="1645.3" width="52.5" height="13.4" fill="none" stroke="#2d5d88" stroke-width="2.1"/>
<line x1="1502.8" y1="1651.2" x2="1555.3" y2="1651.2" stroke="#2d5d88" stroke-width="1.8"/>
<line x1="1529" y1="1780.8" x2="1529" y2="1786.8" stroke="#222" stroke-width="1.1"/>
<text x="1450.5" y="1811.5" font-size="21.6" text-anchor="middle" font-style="italic">PRKDC</text>
<text x="1452.5" y="1835.3" font-size="21.6" text-anchor="middle" font-style="italic">amp</text>
<text x="1528" y="1811.2" font-size="21.4" text-anchor="middle">WT</text>
<text x="1382.9" y="1551.6" font-size="24.4">ATM kinase-activity</text>
<text x="1428.4" y="1585.2" font-size="21.3">p = 9.18e-05</text>
<line x1="1453.6" y1="1590.7" x2="1528.5" y2="1590.7" stroke="#222" stroke-width="1"/>
<text x="1426.8" y="1772.2" font-size="21.3">Wilcoxon test</text>
<text font-size="20.8" text-anchor="middle" transform="translate(1360.6,1686) rotate(-90)">PTM score</text>
<line x1="1706.9" y1="1583" x2="1706.9" y2="1780.8" stroke="#222" stroke-width="1.5"/>
<line x1="1706.9" y1="1780.8" x2="1875.5" y2="1780.8" stroke="#222" stroke-width="1.5"/>
<line x1="1701.9" y1="1585.3" x2="1706.9" y2="1585.3" stroke="#222" stroke-width="1.2"/>
<text x="1699.7" y="1592.3" font-size="20.2" text-anchor="end">0.4</text>
<line x1="1701.9" y1="1623.9" x2="1706.9" y2="1623.9" stroke="#222" stroke-width="1.2"/>
<text x="1699.7" y="1630.9" font-size="20.2" text-anchor="end">0.2</text>
<line x1="1701.9" y1="1662.4" x2="1706.9" y2="1662.4" stroke="#222" stroke-width="1.2"/>
<text x="1699.7" y="1669.4" font-size="20.2" text-anchor="end">0.0</text>
<line x1="1701.9" y1="1701.5" x2="1706.9" y2="1701.5" stroke="#222" stroke-width="1.2"/>
<text x="1699.7" y="1708.5" font-size="20.2" text-anchor="end">-0.2</text>
<line x1="1701.9" y1="1740.6" x2="1706.9" y2="1740.6" stroke="#222" stroke-width="1.2"/>
<text x="1699.7" y="1747.6" font-size="20.2" text-anchor="end">-0.4</text>
<line x1="1701.9" y1="1779.7" x2="1706.9" y2="1779.7" stroke="#222" stroke-width="1.2"/>
<text x="1699.7" y="1786.7" font-size="20.2" text-anchor="end">-0.6</text>
<line x1="1745.2" y1="1605.1" x2="1745.2" y2="1628.7" stroke="#c8607f" stroke-width="1.8"/>
<line x1="1745.2" y1="1659.2" x2="1745.2" y2="1664.6" stroke="#c8607f" stroke-width="1.8"/>
<line x1="1732.7" y1="1605.1" x2="1757.7" y2="1605.1" stroke="#c8607f" stroke-width="1.8"/>
<line x1="1732.7" y1="1664.6" x2="1757.7" y2="1664.6" stroke="#c8607f" stroke-width="1.8"/>
<rect x="1719.2" y="1628.7" width="51.9" height="30.5" fill="none" stroke="#c8607f" stroke-width="2.1"/>
<line x1="1719.2" y1="1650.7" x2="1771.1" y2="1650.7" stroke="#c8607f" stroke-width="1.8"/>
<line x1="1745.2" y1="1780.8" x2="1745.2" y2="1786.8" stroke="#222" stroke-width="1.1"/>
<line x1="1821.5" y1="1638.3" x2="1821.5" y2="1665.6" stroke="#2d5d88" stroke-width="1.8"/>
<line x1="1821.5" y1="1673.1" x2="1821.5" y2="1751.3" stroke="#2d5d88" stroke-width="1.8"/>
<line x1="1809" y1="1638.3" x2="1834" y2="1638.3" stroke="#2d5d88" stroke-width="1.8"/>
<line x1="1809" y1="1751.3" x2="1834" y2="1751.3" stroke="#2d5d88" stroke-width="1.8"/>
<rect x="1795.2" y="1665.6" width="52.5" height="7.5" fill="none" stroke="#2d5d88" stroke-width="2.1"/>
<line x1="1795.2" y1="1669.9" x2="1847.7" y2="1669.9" stroke="#2d5d88" stroke-width="1.8"/>
<line x1="1821.5" y1="1780.8" x2="1821.5" y2="1786.8" stroke="#222" stroke-width="1.1"/>
<text x="1742.7" y="1811.5" font-size="21.6" text-anchor="middle" font-style="italic">PRKDC</text>
<text x="1744.7" y="1835.3" font-size="21.6" text-anchor="middle" font-style="italic">amp</text>
<text x="1820.5" y="1811.2" font-size="21.4" text-anchor="middle">WT</text>
<text x="1679" y="1551.6" font-size="24.4">ATR kinase-activity</text>
<text x="1728.8" y="1585.2" font-size="21.3">p = 1.90e-02</text>
<line x1="1749.7" y1="1590.7" x2="1824.7" y2="1590.7" stroke="#222" stroke-width="1"/>
<text x="1718.7" y="1772.2" font-size="21.3">Wilcoxon test</text>
<text font-size="20.8" text-anchor="middle" transform="translate(1653.6,1686) rotate(-90)">PTM score</text>
<text x="4.4" y="1918.4" font-size="50" font-weight="bold">l</text>
<path d="M125.3 2202.5 L210.9 2192.1 L296.7 2186.7 L382.9 2137.8 L468.8 2060.4" fill="none" stroke="#f0932b" stroke-width="2.7" stroke-linejoin="round"/>
<line x1="382.9" y1="2137.8" x2="382.9" y2="2128.3" stroke="#f0932b" stroke-width="2.7"/>
<line x1="376.4" y1="2128.3" x2="389.4" y2="2128.3" stroke="#f0932b" stroke-width="2.7"/>
<line x1="468.8" y1="2060.4" x2="468.8" y2="2049.4" stroke="#f0932b" stroke-width="2.7"/>
<line x1="462.3" y1="2049.4" x2="475.3" y2="2049.4" stroke="#f0932b" stroke-width="2.7"/>
<path d="M125.3 2196.4 L131.4 2207.4 L119.2 2207.4 Z" fill="#f0932b" stroke="none" stroke-width="0"/>
<path d="M210.9 2186 L217 2197 L204.8 2197 Z" fill="#f0932b" stroke="none" stroke-width="0"/>
<path d="M296.7 2180.6 L302.8 2191.6 L290.6 2191.6 Z" fill="#f0932b" stroke="none" stroke-width="0"/>
<path d="M382.9 2131.7 L389 2142.7 L376.8 2142.7 Z" fill="#f0932b" stroke="none" stroke-width="0"/>
<path d="M468.8 2054.3 L474.9 2065.3 L462.7 2065.3 Z" fill="#f0932b" stroke="none" stroke-width="0"/>
<path d="M125.3 2199.3 L210.9 2188.3 L296.7 2166.8 L382.9 2103.1 L468.8 1997.3" fill="none" stroke="#e8382b" stroke-width="2.7" stroke-linejoin="round"/>
<line x1="468.8" y1="1997.3" x2="468.8" y2="1988.8" stroke="#e8382b" stroke-width="2.7"/>
<line x1="462.3" y1="1988.8" x2="475.3" y2="1988.8" stroke="#e8382b" stroke-width="2.7"/>
<path d="M125.3 2205.5 L131.4 2194.4 L119.2 2194.4 Z" fill="#e8382b" stroke="none" stroke-width="0"/>
<path d="M210.9 2194.4 L217 2183.4 L204.8 2183.4 Z" fill="#e8382b" stroke="none" stroke-width="0"/>
<path d="M296.7 2172.9 L302.8 2161.9 L290.6 2161.9 Z" fill="#e8382b" stroke="none" stroke-width="0"/>
<path d="M382.9 2109.2 L389 2098.2 L376.8 2098.2 Z" fill="#e8382b" stroke="none" stroke-width="0"/>
<path d="M468.8 2003.4 L474.9 1992.4 L462.7 1992.4 Z" fill="#e8382b" stroke="none" stroke-width="0"/>
<path d="M125.3 2195.5 L210.9 2189.2 L296.7 2178.8 L382.9 2159.2 L468.8 2126.1" fill="none" stroke="#1f4e96" stroke-width="2.7" stroke-linejoin="round"/>
<line x1="468.8" y1="2126.1" x2="468.8" y2="2103.7" stroke="#1f4e96" stroke-width="2.7"/>
<line x1="462.3" y1="2103.7" x2="475.3" y2="2103.7" stroke="#1f4e96" stroke-width="2.7"/>
<rect x="119.5" y="2189.8" width="11.6" height="11.6" fill="#1f4e96"/>
<rect x="205.1" y="2183.4" width="11.6" height="11.6" fill="#1f4e96"/>
<rect x="290.9" y="2173" width="11.6" height="11.6" fill="#1f4e96"/>
<rect x="377.1" y="2153.5" width="11.6" height="11.6" fill="#1f4e96"/>
<rect x="463" y="2120.3" width="11.6" height="11.6" fill="#1f4e96"/>
<path d="M125.3 2202.5 L210.9 2194.6 L296.7 2190.5 L382.9 2145.7 L468.8 2082.9" fill="none" stroke="#1e9150" stroke-width="2.7" stroke-linejoin="round"/>
<line x1="468.8" y1="2082.9" x2="468.8" y2="2073.7" stroke="#1e9150" stroke-width="2.7"/>
<line x1="462.3" y1="2073.7" x2="475.3" y2="2073.7" stroke="#1e9150" stroke-width="2.7"/>
<circle cx="125.3" cy="2202.5" r="5.8" fill="#1e9150"/>
<circle cx="210.9" cy="2194.6" r="5.8" fill="#1e9150"/>
<circle cx="296.7" cy="2190.5" r="5.8" fill="#1e9150"/>
<circle cx="382.9" cy="2145.7" r="5.8" fill="#1e9150"/>
<circle cx="468.8" cy="2082.9" r="5.8" fill="#1e9150"/>
<line x1="82.7" y1="1922.5" x2="82.7" y2="2208.8" stroke="#222" stroke-width="1.3"/>
<line x1="82.7" y1="2208.8" x2="511.4" y2="2208.8" stroke="#222" stroke-width="1.3"/>
<line x1="74.7" y1="2208.8" x2="82.7" y2="2208.8" stroke="#222" stroke-width="1.2"/>
<text x="71.7" y="2216.3" font-size="20.6" text-anchor="end">0</text>
<line x1="74.7" y1="2151.5" x2="82.7" y2="2151.5" stroke="#222" stroke-width="1.2"/>
<text x="71.7" y="2159" font-size="20.6" text-anchor="end">1</text>
<line x1="74.7" y1="2094.3" x2="82.7" y2="2094.3" stroke="#222" stroke-width="1.2"/>
<text x="71.7" y="2101.8" font-size="20.6" text-anchor="end">2</text>
<line x1="74.7" y1="2037" x2="82.7" y2="2037" stroke="#222" stroke-width="1.2"/>
<text x="71.7" y="2044.5" font-size="20.6" text-anchor="end">3</text>
<line x1="74.7" y1="1979.8" x2="82.7" y2="1979.8" stroke="#222" stroke-width="1.2"/>
<text x="71.7" y="1987.3" font-size="20.6" text-anchor="end">4</text>
<line x1="74.7" y1="1922.5" x2="82.7" y2="1922.5" stroke="#222" stroke-width="1.2"/>
<text x="71.7" y="1930" font-size="20.6" text-anchor="end">5</text>
<line x1="125.3" y1="2208.8" x2="125.3" y2="2217.8" stroke="#222" stroke-width="1.2"/>
<text x="124.8" y="2238.2" font-size="20.6" text-anchor="middle">Day0</text>
<line x1="210.9" y1="2208.8" x2="210.9" y2="2217.8" stroke="#222" stroke-width="1.2"/>
<text x="210.4" y="2238.2" font-size="20.6" text-anchor="middle">Day1</text>
<line x1="296.7" y1="2208.8" x2="296.7" y2="2217.8" stroke="#222" stroke-width="1.2"/>
<text x="296.2" y="2238.2" font-size="20.6" text-anchor="middle">Day2</text>
<line x1="382.9" y1="2208.8" x2="382.9" y2="2217.8" stroke="#222" stroke-width="1.2"/>
<text x="382.4" y="2238.2" font-size="20.6" text-anchor="middle">Day3</text>
<line x1="468.8" y1="2208.8" x2="468.8" y2="2217.8" stroke="#222" stroke-width="1.2"/>
<text x="468.3" y="2238.2" font-size="20.6" text-anchor="middle">Day4</text>
<text font-size="20.6" text-anchor="middle" transform="translate(43,2060.4) rotate(-90)">OD450</text>
<text x="98.5" y="1922.2" font-size="20.8">PDC_Melanoma #</text>
<text x="98.5" y="1951.5" font-size="20.8">with SBS7a-</text>
<text x="99.1" y="2055.7" font-size="20.8">PDC_Melanoma #</text>
<text x="99.1" y="2083.5" font-size="20.8">with SBS7a+</text>
<line x1="98.5" y1="1982.5" x2="130.1" y2="1982.5" stroke="#f0932b" stroke-width="2.7"/>
<path d="M114.3 1977.3 L119.5 1986.7 L109 1986.7 Z" fill="#f0932b" stroke="none" stroke-width="0"/>
<text x="146.8" y="1988.8" font-size="20.8">SBS7a-</text>
<line x1="98.5" y1="2013.1" x2="130.1" y2="2013.1" stroke="#1e9150" stroke-width="2.7"/>
<circle cx="114.3" cy="2013.1" r="4.9" fill="#1e9150"/>
<text x="146.8" y="2019.4" font-size="20.8">SBS7a-&amp;PRKDC-inhibitor</text>
<line x1="98.5" y1="2111.3" x2="130.1" y2="2111.3" stroke="#e8382b" stroke-width="2.7"/>
<path d="M114.3 2116.5 L119.5 2107.1 L109 2107.1 Z" fill="#e8382b" stroke="none" stroke-width="0"/>
<text x="146.8" y="2117.6" font-size="20.8">SBS7a+</text>
<line x1="98.5" y1="2145" x2="130.1" y2="2145" stroke="#1f4e96" stroke-width="2.7"/>
<rect x="109.3" y="2140.1" width="9.9" height="9.9" fill="#1f4e96"/>
<text x="146.8" y="2151.4" font-size="20.8">SBS7a+&amp;PRKDC-inhibitor</text>
<path d="M485.5 1996.4 L492.4 1996.4 L492.4 2124.5 L485.5 2124.5" fill="none" stroke="#333" stroke-width="1.1"/>
<text x="518.3" y="2066.8" font-size="20.8" text-anchor="middle">***</text>
<text x="526" y="1919.5" font-size="50" font-weight="bold">m</text>
<path d="M691.9 1912.3 L694.7 1912.4 L697.4 1912.4 L700.2 1912.5 L703 1912.5 L705.8 1912.6 L708.5 1912.7 L711.3 1912.8 L714.1 1912.8 L716.9 1912.9 L719.6 1913 L722.4 1913.1 L725.2 1913.2 L728 1913.4 L730.7 1913.5 L733.5 1913.6 L736.3 1913.8 L739.1 1913.9 L741.8 1914.1 L744.6 1914.3 L747.4 1914.5 L750.2 1914.7 L752.9 1914.9 L755.7 1915.2 L758.5 1915.5 L761.3 1915.7 L764 1916.1 L766.8 1916.4 L769.6 1916.7 L772.4 1917.1 L775.1 1917.6 L777.9 1918 L780.7 1918.5 L783.4 1919 L786.2 1919.6 L789 1920.2 L791.8 1920.8 L794.5 1921.5 L797.3 1922.2 L800.1 1923 L802.9 1923.9 L805.6 1924.8 L808.4 1925.7 L811.2 1926.8 L814 1927.9 L816.7 1929.1 L819.5 1930.3 L822.3 1931.7 L825.1 1933.2 L827.8 1934.7 L830.6 1936.3 L833.4 1938.1 L836.2 1940 L838.9 1941.9 L841.7 1944 L844.5 1946.3 L847.3 1948.6 L850 1951.1 L852.8 1953.8 L855.6 1956.6 L858.4 1959.5 L861.1 1962.6 L863.9 1965.8 L866.7 1969.2 L869.4 1972.8 L872.2 1976.5 L875 1980.4 L877.8 1984.4 L880.5 1988.6 L883.3 1992.9 L886.1 1997.4 L888.9 2002 L891.6 2006.8 L894.4 2011.7 L897.2 2016.7 L900 2021.8 L902.7 2027 L905.5 2032.3 L908.3 2037.7 L911.1 2043.1 L913.8 2048.6 L916.6 2054.1 L919.4 2059.6 L922.2 2065.1 L924.9 2070.5 L927.7 2076 L930.5 2081.4 L933.3 2086.7 L936 2091.9 L938.8 2097.1 L941.6 2102.1 L944.4 2107.1 L947.1 2111.9 L949.9 2116.6 L952.7 2121.1 L955.4 2125.5 L958.2 2129.8 L961 2133.8 L963.8 2137.8 L966.5 2141.6 L969.3 2145.2 L972.1 2148.6 L974.9 2151.9 L977.6 2155.1 L980.4 2158.1 L983.2 2160.9 L986 2163.6 L988.7 2166.1 L991.5 2168.6 L994.3 2170.8 L997.1 2173 L999.8 2175 L1002.6 2176.9 L1005.4 2178.7 L1008.2 2180.4 L1010.9 2182 L1013.7 2183.5 L1016.5 2184.9 L1019.3 2186.2 L1022 2187.4 L1024.8 2188.5" fill="none" stroke="#f0921e" stroke-width="4.1"/>
<path d="M691.9 1912.9 L694.7 1913 L697.4 1913.1 L700.2 1913.3 L703 1913.4 L705.8 1913.6 L708.5 1913.7 L711.3 1913.9 L714.1 1914.1 L716.9 1914.3 L719.6 1914.5 L722.4 1914.8 L725.2 1915.1 L728 1915.4 L730.7 1915.7 L733.5 1916 L736.3 1916.4 L739.1 1916.8 L741.8 1917.3 L744.6 1917.8 L747.4 1918.3 L750.2 1918.9 L752.9 1919.5 L755.7 1920.2 L758.5 1920.9 L761.3 1921.7 L764 1922.5 L766.8 1923.5 L769.6 1924.5 L772.4 1925.6 L775.1 1926.7 L777.9 1928 L780.7 1929.4 L783.4 1930.8 L786.2 1932.4 L789 1934.1 L791.8 1936 L794.5 1937.9 L797.3 1940 L800.1 1942.3 L802.9 1944.7 L805.6 1947.3 L808.4 1950.1 L811.2 1953 L814 1956.1 L816.7 1959.4 L819.5 1963 L822.3 1966.7 L825.1 1970.6 L827.8 1974.7 L830.6 1979 L833.4 1983.6 L836.2 1988.3 L838.9 1993.2 L841.7 1998.3 L844.5 2003.6 L847.3 2009.1 L850 2014.7 L852.8 2020.5 L855.6 2026.4 L858.4 2032.4 L861.1 2038.5 L863.9 2044.7 L866.7 2050.9 L869.4 2057.1 L872.2 2063.3 L875 2069.6 L877.8 2075.7 L880.5 2081.9 L883.3 2087.9 L886.1 2093.8 L888.9 2099.6 L891.6 2105.3 L894.4 2110.8 L897.2 2116.1 L900 2121.3 L902.7 2126.3 L905.5 2131 L908.3 2135.6 L911.1 2140 L913.8 2144.2 L916.6 2148.1 L919.4 2151.9 L922.2 2155.4 L924.9 2158.8 L927.7 2162 L930.5 2164.9 L933.3 2167.8 L936 2170.4 L938.8 2172.8 L941.6 2175.1 L944.4 2177.3 L947.1 2179.3 L949.9 2181.2 L952.7 2182.9 L955.4 2184.5 L958.2 2186 L961 2187.4 L963.8 2188.7 L966.5 2189.9 L969.3 2191 L972.1 2192 L974.9 2192.9 L977.6 2193.8 L980.4 2194.6 L983.2 2195.4 L986 2196.1 L988.7 2196.7 L991.5 2197.3 L994.3 2197.8 L997.1 2198.3 L999.8 2198.8 L1002.6 2199.2 L1005.4 2199.6 L1008.2 2199.9 L1010.9 2200.3 L1013.7 2200.6 L1016.5 2200.8 L1019.3 2201.1 L1022 2201.3 L1024.8 2201.6" fill="none" stroke="#e8301f" stroke-width="4.1"/>
<rect x="686.7" y="1940.7" width="11.2" height="11.2" fill="#f0921e"/>
<rect x="749.1" y="1942" width="11.2" height="11.2" fill="#f0921e"/>
<rect x="811.9" y="1967.2" width="11.2" height="11.2" fill="#f0921e"/>
<line x1="880.3" y1="1979.3" x2="880.3" y2="1999" stroke="#f0921e" stroke-width="2.4"/>
<line x1="873.3" y1="1979.3" x2="887.3" y2="1979.3" stroke="#f0921e" stroke-width="2.4"/>
<line x1="873.3" y1="1999" x2="887.3" y2="1999" stroke="#f0921e" stroke-width="2.4"/>
<rect x="874.7" y="1983.5" width="11.2" height="11.2" fill="#f0921e"/>
<line x1="918.2" y1="1991.8" x2="918.2" y2="2006.1" stroke="#f0921e" stroke-width="2.4"/>
<line x1="911.2" y1="1991.8" x2="925.2" y2="1991.8" stroke="#f0921e" stroke-width="2.4"/>
<line x1="911.2" y1="2006.1" x2="925.2" y2="2006.1" stroke="#f0921e" stroke-width="2.4"/>
<rect x="912.6" y="1993.4" width="11.2" height="11.2" fill="#f0921e"/>
<line x1="956.5" y1="2047.3" x2="956.5" y2="2070.2" stroke="#f0921e" stroke-width="2.4"/>
<line x1="949.5" y1="2047.3" x2="963.5" y2="2047.3" stroke="#f0921e" stroke-width="2.4"/>
<line x1="949.5" y1="2070.2" x2="963.5" y2="2070.2" stroke="#f0921e" stroke-width="2.4"/>
<rect x="950.9" y="2053.2" width="11.2" height="11.2" fill="#f0921e"/>
<line x1="933.6" y1="2077.4" x2="933.6" y2="2095.7" stroke="#f0921e" stroke-width="2.4"/>
<line x1="926.6" y1="2077.4" x2="940.6" y2="2077.4" stroke="#f0921e" stroke-width="2.4"/>
<line x1="926.6" y1="2095.7" x2="940.6" y2="2095.7" stroke="#f0921e" stroke-width="2.4"/>
<rect x="928" y="2081" width="11.2" height="11.2" fill="#f0921e"/>
<line x1="943.1" y1="2118.3" x2="943.1" y2="2144.4" stroke="#f0921e" stroke-width="2.4"/>
<line x1="936.1" y1="2118.3" x2="950.1" y2="2118.3" stroke="#f0921e" stroke-width="2.4"/>
<line x1="936.1" y1="2144.4" x2="950.1" y2="2144.4" stroke="#f0921e" stroke-width="2.4"/>
<rect x="937.5" y="2125.8" width="11.2" height="11.2" fill="#f0921e"/>
<rect x="945.3" y="2153.6" width="11.2" height="11.2" fill="#f0921e"/>
<rect x="955.8" y="2150.3" width="11.2" height="11.2" fill="#f0921e"/>
<line x1="964.6" y1="2149.7" x2="964.6" y2="2164.1" stroke="#f0921e" stroke-width="2.4"/>
<line x1="957.6" y1="2149.7" x2="971.6" y2="2149.7" stroke="#f0921e" stroke-width="2.4"/>
<line x1="957.6" y1="2164.1" x2="971.6" y2="2164.1" stroke="#f0921e" stroke-width="2.4"/>
<rect x="959" y="2151.3" width="11.2" height="11.2" fill="#f0921e"/>
<rect x="981.3" y="2172.2" width="11.2" height="11.2" fill="#f0921e"/>
<rect x="1000.2" y="2173.8" width="11.2" height="11.2" fill="#f0921e"/>
<rect x="1019.5" y="2174.8" width="11.2" height="11.2" fill="#f0921e"/>
<circle cx="692.3" cy="1928" r="5.7" fill="#e8301f"/>
<circle cx="754.7" cy="1934.5" r="5.7" fill="#e8301f"/>
<line x1="817.5" y1="1963.3" x2="817.5" y2="1981" stroke="#e8301f" stroke-width="2.4"/>
<line x1="810.5" y1="1963.3" x2="824.5" y2="1963.3" stroke="#e8301f" stroke-width="2.4"/>
<line x1="810.5" y1="1981" x2="824.5" y2="1981" stroke="#e8301f" stroke-width="2.4"/>
<circle cx="817.5" cy="1972.1" r="5.7" fill="#e8301f"/>
<line x1="880.3" y1="2069.9" x2="880.3" y2="2083" stroke="#e8301f" stroke-width="2.4"/>
<line x1="873.3" y1="2069.9" x2="887.3" y2="2069.9" stroke="#e8301f" stroke-width="2.4"/>
<line x1="873.3" y1="2083" x2="887.3" y2="2083" stroke="#e8301f" stroke-width="2.4"/>
<circle cx="880.3" cy="2076.4" r="5.7" fill="#e8301f"/>
<circle cx="918.2" cy="2135.6" r="5.7" fill="#e8301f"/>
<circle cx="933.6" cy="2164.7" r="5.7" fill="#e8301f"/>
<circle cx="943.1" cy="2202.3" r="5.7" fill="#e8301f"/>
<circle cx="950.9" cy="2202.3" r="5.7" fill="#e8301f"/>
<circle cx="956.5" cy="2192.8" r="5.7" fill="#e8301f"/>
<circle cx="961.4" cy="2195.1" r="5.7" fill="#e8301f"/>
<circle cx="964.6" cy="2200" r="5.7" fill="#e8301f"/>
<circle cx="986.9" cy="2200" r="5.7" fill="#e8301f"/>
<circle cx="1005.8" cy="2200.7" r="5.7" fill="#e8301f"/>
<circle cx="1025.1" cy="2203.9" r="5.7" fill="#e8301f"/>
<line x1="629.5" y1="1911.7" x2="629.5" y2="2204" stroke="#222" stroke-width="1.3"/>
<line x1="629.5" y1="2204" x2="1068.6" y2="2204" stroke="#222" stroke-width="1.3"/>
<line x1="620.5" y1="2204" x2="629.5" y2="2204" stroke="#222" stroke-width="1.2"/>
<text x="617.5" y="2211.5" font-size="20.6" text-anchor="end">0</text>
<line x1="620.5" y1="2057.8" x2="629.5" y2="2057.8" stroke="#222" stroke-width="1.2"/>
<text x="617.5" y="2065.3" font-size="20.6" text-anchor="end">50</text>
<line x1="620.5" y1="1911.7" x2="629.5" y2="1911.7" stroke="#222" stroke-width="1.2"/>
<text x="617.5" y="1919.2" font-size="20.6" text-anchor="end">100</text>
<line x1="629.1" y1="2204" x2="629.1" y2="2213" stroke="#222" stroke-width="1.2"/>
<text x="629.1" y="2236" font-size="20.3" text-anchor="middle">0.001</text>
<line x1="691.9" y1="2204" x2="691.9" y2="2213" stroke="#222" stroke-width="1.2"/>
<text x="691.9" y="2236" font-size="20.3" text-anchor="middle">0.01</text>
<line x1="754.7" y1="2204" x2="754.7" y2="2213" stroke="#222" stroke-width="1.2"/>
<text x="754.7" y="2236" font-size="20.3" text-anchor="middle">0.1</text>
<line x1="817.5" y1="2204" x2="817.5" y2="2213" stroke="#222" stroke-width="1.2"/>
<text x="817.5" y="2236" font-size="20.3" text-anchor="middle">1</text>
<line x1="880.3" y1="2204" x2="880.3" y2="2213" stroke="#222" stroke-width="1.2"/>
<text x="880.3" y="2236" font-size="20.3" text-anchor="middle">10</text>
<line x1="943.1" y1="2204" x2="943.1" y2="2213" stroke="#222" stroke-width="1.2"/>
<text x="943.1" y="2236" font-size="20.3" text-anchor="middle">100</text>
<line x1="1005.9" y1="2204" x2="1005.9" y2="2213" stroke="#222" stroke-width="1.2"/>
<text x="1005.9" y="2236" font-size="20.3" text-anchor="middle">1000</text>
<line x1="1068.7" y1="2204" x2="1068.7" y2="2213" stroke="#222" stroke-width="1.2"/>
<text x="1068.7" y="2236" font-size="20.3" text-anchor="middle">10000</text>
<path d="M648 2204V2209M659.1 2204V2209M666.9 2204V2209M673 2204V2209M678 2204V2209M682.2 2204V2209M685.8 2204V2209M689 2204V2209M710.8 2204V2209M721.9 2204V2209M729.7 2204V2209M735.8 2204V2209M740.8 2204V2209M745 2204V2209M748.6 2204V2209M751.8 2204V2209M773.6 2204V2209M784.7 2204V2209M792.5 2204V2209M798.6 2204V2209M803.6 2204V2209M807.8 2204V2209M811.4 2204V2209M814.6 2204V2209M836.4 2204V2209M847.5 2204V2209M855.3 2204V2209M861.4 2204V2209M866.4 2204V2209M870.6 2204V2209M874.2 2204V2209M877.4 2204V2209M899.2 2204V2209M910.3 2204V2209M918.1 2204V2209M924.2 2204V2209M929.2 2204V2209M933.4 2204V2209M937 2204V2209M940.2 2204V2209M962 2204V2209M973.1 2204V2209M980.9 2204V2209M987 2204V2209M992 2204V2209M996.2 2204V2209M999.8 2204V2209M1003 2204V2209M1024.8 2204V2209M1035.9 2204V2209M1043.7 2204V2209M1049.8 2204V2209M1054.8 2204V2209M1059 2204V2209M1062.6 2204V2209M1065.8 2204V2209" stroke="#222" stroke-width="1" fill="none"/>
<text font-size="21.3" text-anchor="middle" transform="translate(572.5,2052.9) rotate(-90)">Relative cell viability (%)</text>
<text x="714.5" y="2267" font-size="21.3">IC<tspan font-size="12.5" dy="6">50</tspan><tspan dy="-6"> PRKDC inhibitor (c/µM)</tspan></text>
<line x1="641.6" y1="2119.9" x2="676.9" y2="2119.9" stroke="#e8301f" stroke-width="4.1"/>
<circle cx="659.6" cy="2119.9" r="5.3" fill="#e8301f"/>
<line x1="641.6" y1="2164.7" x2="676.9" y2="2164.7" stroke="#f0921e" stroke-width="4.1"/>
<rect x="654" y="2159.1" width="11.2" height="11.2" fill="#f0921e"/>
<text x="688.4" y="2117.6" font-size="20.8">PDC_Melanoma #</text>
<text x="688.4" y="2141.8" font-size="20.8">with SBS7a+ subtype</text>
<text x="688.4" y="2168" font-size="20.8">PDC_Melanoma #</text>
<text x="688.4" y="2191.9" font-size="20.8">with SBS7a- subtype</text>
<rect x="1204.2" y="2181.3" width="70.6" height="21.9" fill="#e62e1c"/>
<rect x="1310.2" y="2056.8" width="70.6" height="146.4" fill="#f0921e"/>
<line x1="1239.6" y1="2177" x2="1239.6" y2="2185.8" stroke="#222" stroke-width="1.1"/>
<line x1="1221.6" y1="2177" x2="1257.6" y2="2177" stroke="#222" stroke-width="1.1"/>
<line x1="1221.6" y1="2185.8" x2="1257.6" y2="2185.8" stroke="#222" stroke-width="1.1"/>
<circle cx="1229.9" cy="2177.2" r="2.1" fill="#000"/>
<circle cx="1249.6" cy="2181.8" r="2.1" fill="#000"/>
<circle cx="1239.6" cy="2185.8" r="2.1" fill="#000"/>
<line x1="1345.6" y1="1996.9" x2="1345.6" y2="2116.6" stroke="#222" stroke-width="1.1"/>
<line x1="1327.6" y1="1996.9" x2="1363.6" y2="1996.9" stroke="#222" stroke-width="1.1"/>
<line x1="1327.6" y1="2116.6" x2="1363.6" y2="2116.6" stroke="#222" stroke-width="1.1"/>
<circle cx="1345.6" cy="1996" r="2.1" fill="#000"/>
<circle cx="1345.6" cy="2057.3" r="2.1" fill="#000"/>
<circle cx="1345.6" cy="2115.9" r="2.1" fill="#000"/>
<line x1="1169.5" y1="1924.3" x2="1169.5" y2="2203.2" stroke="#222" stroke-width="1.3"/>
<line x1="1169.5" y1="2203.2" x2="1439.6" y2="2203.2" stroke="#222" stroke-width="1.3"/>
<line x1="1162.5" y1="2203.2" x2="1169.5" y2="2203.2" stroke="#222" stroke-width="1.2"/>
<text x="1160.5" y="2210.7" font-size="20.6" text-anchor="end">0</text>
<line x1="1162.5" y1="2134.3" x2="1169.5" y2="2134.3" stroke="#222" stroke-width="1.2"/>
<text x="1160.5" y="2141.8" font-size="20.6" text-anchor="end">20</text>
<line x1="1162.5" y1="2065.4" x2="1169.5" y2="2065.4" stroke="#222" stroke-width="1.2"/>
<text x="1160.5" y="2072.9" font-size="20.6" text-anchor="end">40</text>
<line x1="1162.5" y1="1996.5" x2="1169.5" y2="1996.5" stroke="#222" stroke-width="1.2"/>
<text x="1160.5" y="2004" font-size="20.6" text-anchor="end">60</text>
<line x1="1162.5" y1="1927.6" x2="1169.5" y2="1927.6" stroke="#222" stroke-width="1.2"/>
<text x="1160.5" y="1935.1" font-size="20.6" text-anchor="end">80</text>
<line x1="1239.6" y1="2203.2" x2="1239.6" y2="2211.7" stroke="#222" stroke-width="1.2"/>
<line x1="1345.6" y1="2203.2" x2="1345.6" y2="2211.7" stroke="#222" stroke-width="1.2"/>
<text x="1240.1" y="2233.6" font-size="20.7" text-anchor="middle">SBS7a+</text>
<text x="1349.7" y="2233.6" font-size="20.7" text-anchor="middle">SBS7a-</text>
<text x="1292.3" y="1942.3" font-size="21.4" text-anchor="middle">Wilcoxon test</text>
<text x="1292.2" y="1968.2" font-size="21.3" text-anchor="middle">p = 4.80e-02</text>
<line x1="1238.5" y1="1979.5" x2="1345.6" y2="1979.5" stroke="#222" stroke-width="1"/>
<text font-size="21.3" text-anchor="middle" transform="translate(1121,2068) rotate(-90)">IC<tspan font-size="12.5" dy="6">50</tspan><tspan dy="-6"> PRKDC inhibitor (c/µM)</tspan></text>
<text x="1458.3" y="1924.7" font-size="50" font-weight="bold">n</text>
<path d="M1557.3 2194.9 L1638.4 2188.3 L1719.4 2176.2 L1800.8 2155.5 L1881.9 2119.6" fill="none" stroke="#1f8f8a" stroke-width="4" stroke-linejoin="round"/>
<line x1="1719.4" y1="2176.2" x2="1719.4" y2="2170.5" stroke="#1f8f8a" stroke-width="2.7"/>
<line x1="1712.9" y1="2170.5" x2="1725.9" y2="2170.5" stroke="#1f8f8a" stroke-width="2.7"/>
<line x1="1800.8" y1="2155.5" x2="1800.8" y2="2147.5" stroke="#1f8f8a" stroke-width="2.7"/>
<line x1="1794.3" y1="2147.5" x2="1807.3" y2="2147.5" stroke="#1f8f8a" stroke-width="2.7"/>
<line x1="1881.9" y1="2119.6" x2="1881.9" y2="2095.7" stroke="#1f8f8a" stroke-width="2.7"/>
<line x1="1875.4" y1="2095.7" x2="1888.4" y2="2095.7" stroke="#1f8f8a" stroke-width="2.7"/>
<rect x="1551.5" y="2189.1" width="11.6" height="11.6" fill="#1f8f8a"/>
<rect x="1632.6" y="2182.5" width="11.6" height="11.6" fill="#1f8f8a"/>
<rect x="1713.6" y="2170.5" width="11.6" height="11.6" fill="#1f8f8a"/>
<rect x="1795" y="2149.8" width="11.6" height="11.6" fill="#1f8f8a"/>
<rect x="1876.1" y="2113.8" width="11.6" height="11.6" fill="#1f8f8a"/>
<path d="M1557.3 2201.2 L1638.4 2187.7 L1719.4 2181.4 L1800.8 2114.4 L1881.9 2013.8" fill="none" stroke="#3c86c9" stroke-width="4" stroke-linejoin="round"/>
<line x1="1800.8" y1="2114.4" x2="1800.8" y2="2103.8" stroke="#3c86c9" stroke-width="2.7"/>
<line x1="1794.3" y1="2103.8" x2="1807.3" y2="2103.8" stroke="#3c86c9" stroke-width="2.7"/>
<line x1="1881.9" y1="2013.8" x2="1881.9" y2="1998.9" stroke="#3c86c9" stroke-width="2.7"/>
<line x1="1875.4" y1="1998.9" x2="1888.4" y2="1998.9" stroke="#3c86c9" stroke-width="2.7"/>
<path d="M1557.3 2195.1 L1563.4 2206.1 L1551.2 2206.1 Z" fill="#3c86c9" stroke="none" stroke-width="0"/>
<path d="M1638.4 2181.6 L1644.5 2192.6 L1632.3 2192.6 Z" fill="#3c86c9" stroke="none" stroke-width="0"/>
<path d="M1719.4 2175.3 L1725.5 2186.3 L1713.3 2186.3 Z" fill="#3c86c9" stroke="none" stroke-width="0"/>
<path d="M1800.8 2108.3 L1806.9 2119.3 L1794.7 2119.3 Z" fill="#3c86c9" stroke="none" stroke-width="0"/>
<path d="M1881.9 2007.7 L1888 2018.7 L1875.8 2018.7 Z" fill="#3c86c9" stroke="none" stroke-width="0"/>
<path d="M1557.3 2199.2 L1638.4 2185.7 L1719.4 2160.4 L1800.8 2087.1 L1881.9 1963.5" fill="none" stroke="#111111" stroke-width="4" stroke-linejoin="round"/>
<line x1="1881.9" y1="1963.5" x2="1881.9" y2="1954" stroke="#111111" stroke-width="2.7"/>
<line x1="1875.4" y1="1954" x2="1888.4" y2="1954" stroke="#111111" stroke-width="2.7"/>
<path d="M1557.3 2205.4 L1563.4 2194.3 L1551.2 2194.3 Z" fill="#111111" stroke="none" stroke-width="0"/>
<path d="M1638.4 2191.8 L1644.5 2180.8 L1632.3 2180.8 Z" fill="#111111" stroke="none" stroke-width="0"/>
<path d="M1719.4 2166.5 L1725.5 2155.5 L1713.3 2155.5 Z" fill="#111111" stroke="none" stroke-width="0"/>
<path d="M1800.8 2093.2 L1806.9 2082.2 L1794.7 2082.2 Z" fill="#111111" stroke="none" stroke-width="0"/>
<path d="M1881.9 1969.6 L1888 1958.6 L1875.8 1958.6 Z" fill="#111111" stroke="none" stroke-width="0"/>
<path d="M1557.3 2197.8 L1638.4 2186.9 L1719.4 2163.9 L1800.8 2093.4 L1881.9 1978.4" fill="none" stroke="#e03a28" stroke-width="4" stroke-linejoin="round"/>
<line x1="1881.9" y1="1978.4" x2="1881.9" y2="1968.7" stroke="#e03a28" stroke-width="2.7"/>
<line x1="1875.4" y1="1968.7" x2="1888.4" y2="1968.7" stroke="#e03a28" stroke-width="2.7"/>
<circle cx="1557.3" cy="2197.8" r="5.8" fill="#e03a28"/>
<circle cx="1638.4" cy="2186.9" r="5.8" fill="#e03a28"/>
<circle cx="1719.4" cy="2163.9" r="5.8" fill="#e03a28"/>
<circle cx="1800.8" cy="2093.4" r="5.8" fill="#e03a28"/>
<circle cx="1881.9" cy="1978.4" r="5.8" fill="#e03a28"/>
<line x1="1516.8" y1="1938.5" x2="1516.8" y2="2209.6" stroke="#222" stroke-width="1.3"/>
<line x1="1516.8" y1="2209.6" x2="1921.5" y2="2209.6" stroke="#222" stroke-width="1.3"/>
<line x1="1508.8" y1="2209.6" x2="1516.8" y2="2209.6" stroke="#222" stroke-width="1.2"/>
<text x="1505.8" y="2217.1" font-size="20.6" text-anchor="end">0</text>
<line x1="1508.8" y1="2141.8" x2="1516.8" y2="2141.8" stroke="#222" stroke-width="1.2"/>
<text x="1505.8" y="2149.3" font-size="20.6" text-anchor="end">1</text>
<line x1="1508.8" y1="2074" x2="1516.8" y2="2074" stroke="#222" stroke-width="1.2"/>
<text x="1505.8" y="2081.5" font-size="20.6" text-anchor="end">2</text>
<line x1="1508.8" y1="2006.3" x2="1516.8" y2="2006.3" stroke="#222" stroke-width="1.2"/>
<text x="1505.8" y="2013.8" font-size="20.6" text-anchor="end">3</text>
<line x1="1508.8" y1="1938.5" x2="1516.8" y2="1938.5" stroke="#222" stroke-width="1.2"/>
<text x="1505.8" y="1946" font-size="20.6" text-anchor="end">4</text>
<line x1="1557.3" y1="2209.6" x2="1557.3" y2="2218.6" stroke="#222" stroke-width="1.2"/>
<text x="1558.8" y="2238.9" font-size="20.4" text-anchor="middle">Day0</text>
<line x1="1638.4" y1="2209.6" x2="1638.4" y2="2218.6" stroke="#222" stroke-width="1.2"/>
<text x="1639.9" y="2238.9" font-size="20.4" text-anchor="middle">Day1</text>
<line x1="1719.4" y1="2209.6" x2="1719.4" y2="2218.6" stroke="#222" stroke-width="1.2"/>
<text x="1720.9" y="2238.9" font-size="20.4" text-anchor="middle">Day2</text>
<line x1="1800.8" y1="2209.6" x2="1800.8" y2="2218.6" stroke="#222" stroke-width="1.2"/>
<text x="1802.3" y="2238.9" font-size="20.4" text-anchor="middle">Day3</text>
<line x1="1881.9" y1="2209.6" x2="1881.9" y2="2218.6" stroke="#222" stroke-width="1.2"/>
<text x="1883.4" y="2238.9" font-size="20.4" text-anchor="middle">Day4</text>
<text font-size="20.6" text-anchor="middle" transform="translate(1479.5,2065.6) rotate(-90)">OD450</text>
<text x="1529.7" y="1921.2" font-size="20.9">PDC_Melanoma #</text>
<text x="1529.7" y="1947.1" font-size="20.9">with <tspan font-style="italic">PRKDC</tspan> amplification</text>
<text x="1529.7" y="2072.7" font-size="20.9">PDC_Melanoma #</text>
<text x="1529.7" y="2098" font-size="20.9">WT</text>
<line x1="1528.5" y1="1970.1" x2="1559.3" y2="1970.1" stroke="#e03a28" stroke-width="4"/>
<circle cx="1544.1" cy="1970.1" r="4.8" fill="#e03a28"/>
<text x="1575.1" y="1976.4" font-size="20.8">5-FU</text>
<line x1="1528.5" y1="2008.3" x2="1559.3" y2="2008.3" stroke="#1f8f8a" stroke-width="4"/>
<rect x="1539.3" y="2003.6" width="9.5" height="9.5" fill="#1f8f8a"/>
<text x="1575.1" y="2014.7" font-size="20.8">PRKDC-inhibitor &amp; 5-FU</text>
<line x1="1528.5" y1="2115.3" x2="1559.3" y2="2115.3" stroke="#3c86c9" stroke-width="4"/>
<path d="M1544.1 2110.2 L1549.1 2119.3 L1539 2119.3 Z" fill="#3c86c9" stroke="none" stroke-width="0"/>
<text x="1575.1" y="2121.6" font-size="20.8">PRKDC-inhibitor &amp; 5-FU</text>
<line x1="1528.5" y1="2153.2" x2="1559.3" y2="2153.2" stroke="#111111" stroke-width="4"/>
<path d="M1544.1 2158.3 L1549.1 2149.2 L1539 2149.2 Z" fill="#111111" stroke="none" stroke-width="0"/>
<text x="1575.1" y="2159.6" font-size="20.8">5-FU</text>
<path d="M1902.9 1976.4 L1909.2 1976.4 L1909.2 2115.3 L1902.9 2115.3" fill="none" stroke="#333" stroke-width="1.1"/>
<text x="1934.5" y="2046" font-size="20.8" text-anchor="middle">***</text>
</svg>
</body></html>
